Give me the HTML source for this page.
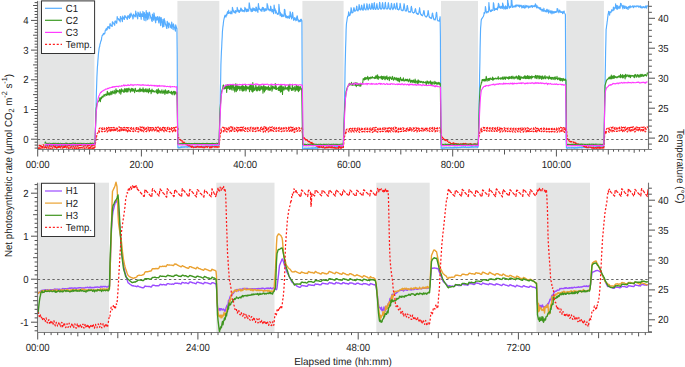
<!DOCTYPE html><html><head><meta charset="utf-8"><style>html,body{margin:0;padding:0;background:#fff;overflow:hidden;width:685px;height:367px;}svg{display:block;}text{font-family:"Liberation Sans", sans-serif;fill:#222;text-rendering:geometricPrecision;}</style></head><body>
<svg width="685" height="367" viewBox="0 0 685 367">
<rect x="0" y="0" width="685" height="367" fill="#fff"/>
<rect x="38.2" y="0.9" width="56.2" height="148.6" fill="#e4e5e5"/>
<rect x="177.4" y="0.9" width="41.9" height="148.6" fill="#e4e5e5"/>
<rect x="302.4" y="0.9" width="41.2" height="148.6" fill="#e4e5e5"/>
<rect x="441" y="0.9" width="37" height="148.6" fill="#e4e5e5"/>
<rect x="566.3" y="0.9" width="37.6" height="148.6" fill="#e4e5e5"/>
<rect x="38.2" y="182.7" width="70.8" height="149.8" fill="#e4e5e5"/>
<rect x="216.3" y="182.7" width="58.2" height="149.8" fill="#e4e5e5"/>
<rect x="376.3" y="182.7" width="53.4" height="149.8" fill="#e4e5e5"/>
<rect x="536.4" y="182.7" width="53.6" height="149.8" fill="#e4e5e5"/>
<line x1="38" y1="139.5" x2="648" y2="139.5" stroke="#666" stroke-width="1" stroke-dasharray="2.4 2.46" stroke-dashoffset="0.26"/>
<line x1="38" y1="279.5" x2="648" y2="279.5" stroke="#666" stroke-width="1" stroke-dasharray="2.4 2.46" stroke-dashoffset="0.26"/>
<g fill="none" stroke-linejoin="round" stroke-linecap="butt">
<path d="M44.9 145.6 L45.1 145.7 L45.4 145.5 L45.6 145.4 L45.9 145.5 L46.1 145.3 L46.4 145.6 L46.6 145.9 L46.9 145.4 L47.1 145.4 L47.4 145.7 L47.6 145.6 L47.9 145.6 L48.1 145.3 L48.4 145.5 L48.6 145.7 L48.9 145.2 L49.1 145.4 L49.4 145.1 L49.6 145.2 L49.9 145.1 L50.1 145.5 L50.4 145.2 L50.6 145.6 L50.9 145.5 L51.1 145.5 L51.4 144.9 L51.6 145.4 L51.9 145.5 L52.1 145.5 L52.4 145.1 L52.6 145.4 L52.9 145.2 L53.1 145.3 L53.4 145.7 L53.6 145.3 L53.9 145.4 L54.1 145.7 L54.4 145.3 L54.6 145.4 L54.9 145.5 L55.1 145.5 L55.4 145.1 L55.6 145.4 L55.9 145.8 L56.1 145 L56.4 145.6 L56.6 145.4 L56.9 145.2 L57.1 145.9 L57.4 145.6 L57.6 145.1 L57.9 145.4 L58.1 145.5 L58.4 145.3 L58.6 145.6 L58.9 145.4 L59.1 145.5 L59.4 145.7 L59.6 145.2 L59.9 145.4 L60.1 145.2 L60.4 145.4 L60.6 145.1 L60.9 145.2 L61.1 145.3 L61.4 145.6 L61.6 145.6 L61.9 145 L62.1 145.1 L62.4 145.5 L62.6 144.8 L62.9 145.2 L63.1 145.3 L63.4 145.6 L63.6 145.5 L63.9 145.2 L64.2 145.2 L64.4 145.2 L64.7 145.7 L64.9 145.2 L65.2 145.2 L65.4 145.4 L65.7 145.2 L65.9 145.2 L66.2 145 L66.4 145.3 L66.7 145.1 L66.9 145.5 L67.2 145.4 L67.4 145.2 L67.7 145.4 L67.9 145.1 L68.2 145.5 L68.4 145.2 L68.7 145.4 L68.9 144.9 L69.2 145.3 L69.4 144.8 L69.7 144.7 L69.9 145.1 L70.2 145 L70.4 145.2 L70.7 145.8 L70.9 145 L71.2 145 L71.4 145.2 L71.7 145.3 L71.9 145.1 L72.2 145.1 L72.4 145.3 L72.7 145.3 L72.9 144.9 L73.2 145.1 L73.4 145.2 L73.7 144.9 L73.9 145.2 L74.2 144.9 L74.4 145.4 L74.7 145.2 L74.9 145.1 L75.2 145 L75.4 145.1 L75.7 144.6 L75.9 144.8 L76.2 145.2 L76.4 144.6 L76.7 145.3 L76.9 144.7 L77.2 145.3 L77.4 144.9 L77.7 145.3 L77.9 145.1 L78.2 144.7 L78.4 145.4 L78.7 145.4 L78.9 145 L79.2 145 L79.4 145 L79.7 144.8 L79.9 145.3 L80.2 144.9 L80.4 145 L80.7 144.8 L80.9 144.9 L81.2 144.7 L81.4 145.3 L81.7 145 L81.9 145.3 L82.2 145 L82.4 144.8 L82.7 144.9 L82.9 144.9 L83.2 145 L83.4 144.9 L83.7 144.9 L83.9 144.6 L84.2 144.8 L84.4 145.4 L84.7 144.8 L84.9 144.7 L85.2 145 L85.4 145.3 L85.7 144.6 L85.9 144.9 L86.2 144.8 L86.4 144.5 L86.7 145.1 L86.9 144.9 L87.2 144.9 L87.4 144.7 L87.7 145 L87.9 144.8 L88.2 144.9 L88.4 144.6 L88.7 144.6 L88.9 145.2 L89.2 144.8 L89.4 145 L89.7 144.9 L89.9 144.8 L90.2 144.8 L90.4 145 L90.7 144.8 L90.9 144.8 L91.2 144.9 L91.4 145.2 L91.7 145 L91.9 144.9 L92.2 144.7 L92.4 144.5 L92.7 145.1 L92.9 145.1 L93.2 144.8 L93.4 145 L93.7 145 L93.9 145 L94.2 145 L94.4 144.7 L94.7 144.8 L94.9 144.8 L95.2 139.2 L95.4 129.9 L95.7 120.6 L95.9 111.2 L96.2 101.9 L96.4 92.5 L96.7 83.7 L96.9 77.5 L97.2 71.2 L97.4 67.3 L97.7 63.9 L97.9 60.5 L98.2 57 L98.4 54.3 L98.7 51.7 L98.9 50 L99.2 47.9 L99.4 47.1 L99.7 46.5 L99.9 44.5 L100.2 43.8 L100.4 43.1 L100.7 41.4 L100.9 41.3 L101.2 40 L101.4 40.3 L101.7 37.4 L101.9 36.7 L102.2 35.3 L102.4 35.4 L102.7 34.8 L102.9 34.5 L103.2 34.9 L103.4 33.3 L103.7 34.3 L103.9 33.6 L104.2 34.2 L104.4 33.5 L104.7 33 L104.9 33.3 L105.2 30.6 L105.4 30.1 L105.7 30.1 L105.9 29.5 L106.2 28.6 L106.4 30.1 L106.7 30 L106.9 29.7 L107.2 29.6 L107.4 27.3 L107.7 26.7 L107.9 26.7 L108.2 27 L108.4 27.8 L108.7 26.7 L108.9 28.1 L109.2 27.4 L109.4 27.3 L109.7 28.6 L109.9 24.1 L110.2 23.7 L110.4 24.4 L110.7 25.3 L110.9 25.6 L111.2 25.1 L111.4 25.7 L111.7 26.1 L111.9 25.7 L112.2 26.4 L112.4 21.9 L112.7 21.9 L112.9 22.3 L113.2 22.9 L113.4 23.2 L113.7 23.2 L113.9 23.6 L114.2 24.7 L114.4 24.6 L114.7 25.3 L114.9 21.2 L115.2 21.1 L115.4 22.2 L115.7 21 L115.9 22.1 L116.2 21.8 L116.4 23.1 L116.7 23.3 L116.9 21.8 L117.2 16.5 L117.4 17.8 L117.7 18.4 L117.9 18.8 L118.2 18.5 L118.4 19.2 L118.7 19.6 L118.9 19.6 L119.2 20.5 L119.4 19.2 L119.7 21 L119.9 20.6 L120.2 21.9 L120.4 16.5 L120.7 16.7 L120.9 17.9 L121.2 17.8 L121.4 18.4 L121.7 18.6 L121.9 19.9 L122.2 20.8 L122.4 21.6 L122.7 16.1 L122.9 17.2 L123.2 17.2 L123.4 17.6 L123.7 18.4 L123.9 19.1 L124.2 18.9 L124.4 19.5 L124.7 15.7 L124.9 16.1 L125.2 15.9 L125.4 17.2 L125.7 16.7 L125.9 17.4 L126.2 17 L126.4 17.9 L126.7 18.2 L126.9 18.1 L127.2 19.5 L127.4 19 L127.7 15.8 L127.9 15.9 L128.2 15.6 L128.4 16.3 L128.7 17.2 L128.9 17.5 L129.2 18 L129.4 18.4 L129.7 14.2 L129.9 15.5 L130.2 15.1 L130.4 17 L130.7 17.1 L130.9 13 L131.2 13.9 L131.4 14.7 L131.7 14.5 L131.9 14.9 L132.2 15.8 L132.4 16 L132.7 17.1 L132.9 19 L133.2 18.3 L133.4 14.9 L133.7 14.1 L133.9 15.2 L134.2 15.2 L134.4 15.5 L134.7 16.1 L134.9 16.9 L135.2 16.4 L135.4 16.6 L135.7 11.1 L135.9 12.7 L136.2 13.2 L136.4 14.6 L136.7 15 L136.9 16.8 L137.2 15.8 L137.4 17.5 L137.7 19 L137.9 12.2 L138.2 12.6 L138.4 13.4 L138.7 13.4 L138.9 14.7 L139.2 16.5 L139.4 16.4 L139.7 15.8 L139.9 16.5 L140.2 11.9 L140.4 14.3 L140.7 15.1 L140.9 16.8 L141.2 19.3 L141.4 13.8 L141.7 14 L141.9 14.5 L142.2 15.1 L142.4 16.4 L142.7 16.5 L142.9 11.4 L143.2 12.7 L143.4 15.3 L143.7 18 L143.9 19.6 L144.2 20.4 L144.4 12.5 L144.7 13.9 L144.9 14.3 L145.2 15.6 L145.4 17.3 L145.7 17.9 L145.9 20.8 L146.2 10.5 L146.4 12.7 L146.7 14.7 L146.9 16.3 L147.2 18 L147.4 19.6 L147.7 12.7 L147.9 14.6 L148.2 14.2 L148.4 16.5 L148.7 17.3 L148.9 19 L149.2 12.1 L149.4 12.3 L149.7 13.2 L149.9 14.6 L150.2 15.2 L150.4 15.5 L150.7 17.6 L150.9 18.5 L151.2 17.4 L151.4 19.1 L151.7 21 L151.9 20.9 L152.2 21.4 L152.4 14.1 L152.7 15.2 L152.9 16.6 L153.2 17.7 L153.4 19.5 L153.7 20.2 L153.9 12.9 L154.2 13.8 L154.4 15.8 L154.7 16.7 L154.9 18.3 L155.2 20.3 L155.4 21.4 L155.7 22.8 L155.9 17 L156.2 17.6 L156.4 18.2 L156.7 18.8 L156.9 20.1 L157.2 19.8 L157.4 16.6 L157.7 17.2 L157.9 18 L158.2 19.4 L158.4 20.5 L158.7 22.2 L158.9 23 L159.2 16.7 L159.4 17.2 L159.7 18 L159.9 20.2 L160.2 21.1 L160.4 23.6 L160.7 25.6 L160.9 17.3 L161.2 17.6 L161.4 19.2 L161.7 21.8 L161.9 22.3 L162.2 23.4 L162.4 25.3 L162.7 27.2 L162.9 19.3 L163.2 20.8 L163.4 22.9 L163.7 25.1 L163.9 26.5 L164.2 18.6 L164.4 20 L164.7 20.4 L164.9 21.8 L165.2 22.7 L165.4 24.7 L165.7 24 L165.9 25.2 L166.2 26.1 L166.4 27.2 L166.7 28.4 L166.9 28.5 L167.2 21.3 L167.4 21.9 L167.7 23.4 L167.9 25.2 L168.2 26 L168.4 26.6 L168.7 28 L168.9 22.8 L169.2 23.7 L169.4 23.7 L169.7 24.4 L169.9 24.2 L170.2 25.1 L170.4 27.1 L170.7 25.7 L170.9 27.2 L171.2 28 L171.4 28.3 L171.7 22.1 L171.9 23.8 L172.2 25 L172.4 26.2 L172.7 26.6 L172.9 28.7 L173.2 29.6 L173.4 23.8 L173.7 25 L173.9 26 L174.2 26.9 L174.4 27 L174.7 28.5 L174.9 29.4 L175.2 30.2 L175.4 31.1 L175.7 24.9 L175.9 25.8 L176.2 27.2 L176.4 27 L176.7 28.7 L176.9 28.4 L177.2 53.9 L177.4 96.5 L177.7 139.1 L177.9 147.6 L178.2 147.6 L178.4 147.9 L178.7 147.2 L178.9 147.7 L179.2 147.6 L179.4 147.7 L179.7 147.9 L179.9 147.8 L180.2 147.1 L180.4 147 L180.7 147.6 L180.9 147.1 L181.2 147.3 L181.4 147.5 L181.7 146.9 L181.9 146.7 L182.2 147.3 L182.4 147.2 L182.7 147.1 L182.9 147.2 L183.2 146.9 L183.4 146.8 L183.7 147.1 L183.9 146.8 L184.2 146.7 L184.4 147.2 L184.7 147 L184.9 147.1 L185.2 146.7 L185.4 146.8 L185.7 146.7 L185.9 146.7 L186.2 147 L186.4 146.8 L186.7 147 L186.9 147 L187.2 147.4 L187.4 146.6 L187.7 147.1 L187.9 146.9 L188.2 146.9 L188.4 146.5 L188.7 146.8 L188.9 147 L189.2 146.8 L189.4 146.9 L189.7 146.8 L189.9 147.1 L190.2 146.8 L190.4 146.3 L190.7 146.6 L190.9 146.3 L191.2 146 L191.4 146.6 L191.7 147.1 L191.9 146.8 L192.2 146.5 L192.4 146.5 L192.7 147 L192.9 146.8 L193.2 146.7 L193.4 146.7 L193.7 146.7 L193.9 146.9 L194.2 146.8 L194.4 146.7 L194.7 146.4 L194.9 146.8 L195.2 146.5 L195.4 146.9 L195.7 146.3 L195.9 146.6 L196.2 146.6 L196.4 146.3 L196.7 147 L196.9 146.9 L197.2 146.5 L197.4 146.8 L197.7 146.6 L197.9 145.9 L198.2 146.6 L198.4 146.5 L198.7 146.5 L198.9 146.2 L199.2 146.4 L199.4 146.4 L199.7 146.8 L199.9 146.6 L200.2 146.5 L200.4 146.8 L200.7 146.3 L200.9 146.3 L201.2 146 L201.4 146.8 L201.7 146.7 L201.9 146.6 L202.2 146.6 L202.4 146.4 L202.7 146.4 L202.9 146.3 L203.2 146.3 L203.4 146.4 L203.7 146.7 L203.9 146.5 L204.2 146.3 L204.4 146.2 L204.7 146.1 L204.9 146.7 L205.2 146.4 L205.4 146.3 L205.7 146.2 L205.9 146 L206.2 146.2 L206.4 146.5 L206.7 146.1 L206.9 146.2 L207.2 146.2 L207.4 146.2 L207.7 145.8 L207.9 146.1 L208.2 146 L208.4 146.4 L208.7 146 L208.9 146.3 L209.2 146.5 L209.4 146.1 L209.7 146 L209.9 146.2 L210.2 146.1 L210.4 145.9 L210.7 146.2 L210.9 146.6 L211.2 146 L211.4 146 L211.7 145.8 L211.9 146.1 L212.2 145.7 L212.4 145.8 L212.7 146.3 L212.9 145.8 L213.2 146.3 L213.4 146.4 L213.7 146.1 L213.9 146.1 L214.2 146.5 L214.4 145.9 L214.7 145.8 L214.9 145.6 L215.2 145.9 L215.4 146.3 L215.7 146.2 L215.9 145.7 L216.2 145.7 L216.4 145.8 L216.7 146 L216.9 145.8 L217.2 145.9 L217.4 145.9 L217.7 145.8 L217.9 145.8 L218.2 145.9 L218.4 145.8 L218.7 145.9 L218.9 145.8 L219.2 141 L219.4 132.9 L219.7 124.8 L219.9 115 L220.2 102.5 L220.4 90 L220.7 77.5 L220.9 65 L221.2 57 L221.4 52 L221.7 47 L221.9 42 L222.2 37 L222.4 32 L222.7 28.8 L222.9 26.8 L223.2 24.8 L223.4 22.8 L223.7 20.5 L223.9 19.6 L224.2 18 L224.4 17.8 L224.7 15.7 L224.9 15.6 L225.2 15.2 L225.4 16.1 L225.7 16.6 L225.9 17.1 L226.2 15.9 L226.4 15 L226.7 14.1 L226.9 15.2 L227.2 12.7 L227.4 13.6 L227.7 11.5 L227.9 11.9 L228.2 13.3 L228.4 13.5 L228.7 10.2 L228.9 12.9 L229.2 13 L229.4 12.5 L229.7 12.6 L229.9 12.9 L230.2 13.5 L230.4 13.7 L230.7 13.5 L230.9 11.1 L231.2 12.1 L231.4 11.9 L231.7 12.7 L231.9 13.9 L232.2 11.7 L232.4 7.3 L232.7 8.5 L232.9 10.4 L233.2 9.9 L233.4 10.6 L233.7 12.2 L233.9 11.7 L234.2 12 L234.4 12.7 L234.7 12.1 L234.9 12.6 L235.2 10.6 L235.4 11.9 L235.7 13.2 L235.9 10.9 L236.2 11.5 L236.4 11.3 L236.7 11.5 L236.9 11.7 L237.2 7.4 L237.4 8.7 L237.7 9.1 L237.9 9.7 L238.2 11.2 L238.4 11.9 L238.7 10.5 L238.9 11 L239.2 11.7 L239.4 12.5 L239.7 10.4 L239.9 10.7 L240.2 10.5 L240.4 11.2 L240.7 8.2 L240.9 9.5 L241.2 8.2 L241.4 9.5 L241.7 10.6 L241.9 10.8 L242.2 11.5 L242.4 9.8 L242.7 10.5 L242.9 11 L243.2 10.9 L243.4 10.6 L243.7 11.4 L243.9 10.6 L244.2 11.8 L244.4 11.2 L244.7 8.8 L244.9 7.4 L245.2 8.1 L245.4 8.3 L245.7 9.7 L245.9 10.7 L246.2 11.6 L246.4 9.1 L246.7 10 L246.9 11 L247.2 11.5 L247.4 9.2 L247.7 9.4 L247.9 10.8 L248.2 10.2 L248.4 11.1 L248.7 10.9 L248.9 9.1 L249.2 2.8 L249.4 3.7 L249.7 5.9 L249.9 7.3 L250.2 8.6 L250.4 8.6 L250.7 9.9 L250.9 10.6 L251.2 11.7 L251.4 9.1 L251.7 9.3 L251.9 9.8 L252.2 10.9 L252.4 11.4 L252.7 8.9 L252.9 7.9 L253.2 8.2 L253.4 8.9 L253.7 9.9 L253.9 10.7 L254.2 8.5 L254.4 9.1 L254.7 9.6 L254.9 10 L255.2 10.7 L255.4 10.7 L255.7 11.1 L255.9 7.2 L256.1 9.1 L256.4 7.2 L256.6 9.5 L256.9 10.9 L257.1 9.1 L257.4 9.5 L257.6 10.8 L257.9 12.5 L258.1 8.1 L258.4 3.5 L258.6 5.6 L258.9 7.2 L259.1 9.2 L259.4 8.2 L259.6 8.9 L259.9 9.6 L260.1 9.5 L260.4 9.9 L260.6 10.3 L260.9 10.8 L261.1 9.1 L261.4 9.8 L261.6 9.6 L261.9 11.4 L262.1 9.4 L262.4 7.3 L262.6 7.7 L262.9 8.6 L263.1 9.6 L263.4 7.6 L263.6 8.1 L263.9 9.9 L264.1 11.5 L264.4 10.7 L264.6 9.4 L264.9 10.2 L265.1 8.5 L265.4 9.7 L265.6 9.5 L265.9 10.8 L266.1 9.2 L266.4 9 L266.6 9.3 L266.9 9.9 L267.1 3.5 L267.4 5.9 L267.6 4.9 L267.9 7 L268.1 7.7 L268.4 9.9 L268.6 9.9 L268.9 9.2 L269.1 9.2 L269.4 9.2 L269.6 9.8 L269.9 10.9 L270.1 10.3 L270.4 10.7 L270.6 6.2 L270.9 7 L271.1 8.8 L271.4 9.6 L271.6 10.5 L271.9 12 L272.1 11.1 L272.4 11.8 L272.6 9.4 L272.9 10.3 L273.1 11.1 L273.4 11.8 L273.6 13.6 L273.9 10.3 L274.1 5.1 L274.4 7 L274.6 9.1 L274.9 10.7 L275.1 8.8 L275.4 11.1 L275.6 13.1 L275.9 10.5 L276.1 11.1 L276.4 12.3 L276.6 12.3 L276.9 13.1 L277.1 13.8 L277.4 14.1 L277.6 14.3 L277.9 13.7 L278.1 13.5 L278.4 13.5 L278.6 14.2 L278.9 4.4 L279.1 6.2 L279.4 8.9 L279.6 11.2 L279.9 12.9 L280.1 15.8 L280.4 12.6 L280.6 13.3 L280.9 13.7 L281.1 14.9 L281.4 15.8 L281.6 16.6 L281.9 14.1 L282.1 15.1 L282.4 14.9 L282.6 15.6 L282.9 16.6 L283.1 16.2 L283.4 15.2 L283.6 16.1 L283.9 15.9 L284.1 16.2 L284.4 9.4 L284.6 11.3 L284.9 9.9 L285.1 12.4 L285.4 14.4 L285.6 16.5 L285.9 17.6 L286.1 15.3 L286.4 16.3 L286.6 16.4 L286.9 17.3 L287.1 17.9 L287.4 18 L287.6 16.4 L287.9 17.4 L288.1 17.3 L288.4 17.3 L288.6 17.9 L288.9 15.9 L289.1 17.3 L289.4 18.4 L289.6 16.7 L289.9 17.3 L290.1 11.7 L290.4 12.8 L290.6 13.2 L290.9 14.8 L291.1 16.8 L291.4 17.2 L291.6 18.9 L291.9 16.7 L292.1 17.8 L292.4 14 L292.6 12.4 L292.9 14.7 L293.1 16.4 L293.4 19 L293.6 20.3 L293.9 18.5 L294.1 18.9 L294.4 19.8 L294.6 17.6 L294.9 18.5 L295.1 19 L295.4 19.4 L295.6 19.3 L295.9 20.8 L296.1 17.8 L296.4 18.9 L296.6 20.1 L296.9 16.6 L297.1 15.8 L297.4 16.5 L297.6 18 L297.9 19.8 L298.1 21 L298.4 19.8 L298.6 20.9 L298.9 21.9 L299.1 20.5 L299.4 21.2 L299.6 20.6 L299.9 21.6 L300.1 21.6 L300.4 19.7 L300.6 21 L300.9 21.1 L301.1 19.2 L301.4 19.6 L301.6 20.5 L301.9 20.5 L302.1 66.3 L302.4 112.1 L302.6 148.8 L302.9 148.8 L303.1 148.8 L303.4 149.2 L303.6 148.9 L303.9 148.7 L304.1 148.3 L304.4 148.8 L304.6 148.2 L304.9 148.3 L305.1 148.8 L305.4 148.8 L305.6 148.6 L305.9 148.1 L306.1 148.5 L306.4 148.4 L306.6 148.7 L306.9 149.1 L307.1 148.5 L307.4 148.3 L307.6 148.2 L307.9 148.4 L308.1 148.4 L308.4 148.1 L308.6 148.4 L308.9 148.1 L309.1 148.6 L309.4 148.6 L309.6 148.6 L309.9 148.2 L310.1 148.4 L310.4 148.2 L310.6 148.1 L310.9 148.1 L311.1 147.9 L311.4 147.8 L311.6 148.4 L311.9 148.1 L312.1 148.2 L312.4 148.4 L312.6 147.7 L312.9 147.9 L313.1 148.1 L313.4 148.2 L313.6 147.9 L313.9 148.3 L314.1 148.1 L314.4 147.7 L314.6 147.7 L314.9 148.2 L315.1 148.1 L315.4 147.4 L315.6 148.2 L315.9 148 L316.1 148.2 L316.4 147.8 L316.6 147.8 L316.9 147.5 L317.1 148.4 L317.4 147.7 L317.6 148.2 L317.9 147.6 L318.1 147.8 L318.4 147.3 L318.6 147.6 L318.9 147.9 L319.1 147.3 L319.4 147.9 L319.6 147.7 L319.9 147.3 L320.1 147.5 L320.4 147.5 L320.6 147.6 L320.9 147.4 L321.1 147.3 L321.4 147.5 L321.6 147.3 L321.9 147.2 L322.1 147.5 L322.4 147.7 L322.6 147.1 L322.9 147.5 L323.1 147.3 L323.4 147.2 L323.6 147.7 L323.9 147.3 L324.1 147.8 L324.4 147.2 L324.6 147.5 L324.9 147.3 L325.1 147.2 L325.4 147.5 L325.6 147.3 L325.9 147.5 L326.1 147.3 L326.4 147.1 L326.6 147.3 L326.9 147.3 L327.1 147.5 L327.4 147.1 L327.6 147.3 L327.9 146.8 L328.1 147.4 L328.4 147 L328.6 146.8 L328.9 147.2 L329.1 147.5 L329.4 146.8 L329.6 146.9 L329.9 147 L330.1 146.9 L330.4 147.2 L330.6 146.9 L330.9 147 L331.1 147.3 L331.4 146.9 L331.6 147.2 L331.9 146.8 L332.1 146.8 L332.4 146.6 L332.6 147.5 L332.9 147 L333.1 147.1 L333.4 147 L333.6 147.1 L333.9 147 L334.1 147.5 L334.4 146.7 L334.6 146.6 L334.9 146.7 L335.1 146.6 L335.4 147.1 L335.6 147.1 L335.9 146.7 L336.1 146.6 L336.4 146.8 L336.6 147.2 L336.9 146.2 L337.1 147 L337.4 146.6 L337.6 147.1 L337.9 146.6 L338.1 146.7 L338.4 146.4 L338.6 146.6 L338.9 147.1 L339.1 147 L339.4 146.7 L339.6 146.5 L339.9 146.3 L340.1 146.6 L340.4 146.7 L340.6 146.7 L340.9 146.7 L341.1 146.4 L341.4 146.7 L341.6 146.7 L341.9 147 L342.1 147.1 L342.4 146.6 L342.6 146.4 L342.9 146.6 L343.1 146.6 L343.4 143.6 L343.6 136.3 L343.9 128.9 L344.1 121.5 L344.4 109.1 L344.6 95.5 L344.9 81.8 L345.1 68.2 L345.4 56.5 L345.6 47.8 L345.9 39 L346.1 30.3 L346.4 24.3 L346.6 22.7 L346.9 21 L347.1 19.3 L347.4 17.7 L347.6 16.6 L347.9 15.9 L348.1 16.5 L348.4 14.5 L348.6 11.9 L348.9 12.6 L349.1 13.8 L349.4 15.7 L349.6 15.6 L349.9 15.3 L350.1 14.9 L350.4 13.7 L350.6 12.7 L350.9 10 L351.1 7.7 L351.4 8.9 L351.6 10.3 L351.9 13 L352.1 12.5 L352.4 12.4 L352.6 12.7 L352.9 12.7 L353.1 11.9 L353.4 10.2 L353.6 9 L353.9 7.6 L354.1 8.2 L354.4 9.5 L354.6 11.2 L354.9 11.1 L355.1 10.8 L355.4 11 L355.6 10.7 L355.9 10.7 L356.1 9.6 L356.4 8.1 L356.6 6.2 L356.9 6.5 L357.1 8.9 L357.4 10.5 L357.6 10.7 L357.9 11 L358.1 10.5 L358.4 10 L358.6 9.6 L358.9 7 L359.1 4.6 L359.4 6.1 L359.6 7.5 L359.9 9.6 L360.1 9.7 L360.4 9.9 L360.6 9.9 L360.9 9.7 L361.1 8.7 L361.4 6.1 L361.6 5.2 L361.9 5.9 L362.1 7.7 L362.4 9.7 L362.6 9.8 L362.9 9.5 L363.1 10.3 L363.4 9.1 L363.6 7.8 L363.9 5.7 L364.1 3.9 L364.4 5.3 L364.6 7.8 L364.9 8.9 L365.1 9.7 L365.4 9.3 L365.6 9.5 L365.9 10 L366.1 9.2 L366.4 8.1 L366.6 6.5 L366.9 3.7 L367.1 4 L367.4 6.7 L367.6 8.3 L367.9 9.6 L368.1 9.8 L368.4 9.2 L368.6 8.9 L368.9 8.1 L369.1 6.1 L369.4 4 L369.6 5 L369.9 6.1 L370.1 8.4 L370.4 9 L370.6 9.3 L370.9 9.4 L371.1 8.6 L371.4 8.1 L371.6 5.7 L371.9 3.3 L372.1 3.5 L372.4 5.7 L372.6 8.3 L372.9 8.8 L373.1 9.3 L373.4 9.4 L373.6 8.4 L373.9 6.1 L374.1 3.2 L374.4 2.7 L374.6 5.7 L374.9 7.8 L375.1 9.2 L375.4 9.1 L375.6 9.5 L375.9 9.2 L376.1 8.9 L376.4 7.3 L376.6 5.4 L376.9 3.5 L377.1 5 L377.4 7.1 L377.6 8.4 L377.9 9.3 L378.1 9 L378.4 9.4 L378.6 8.9 L378.9 8.5 L379.1 7.9 L379.4 4.9 L379.6 2.3 L379.9 3.1 L380.1 5.5 L380.4 8.6 L380.6 8.7 L380.9 9.2 L381.1 8.7 L381.4 9 L381.6 8.9 L381.9 8.4 L382.1 5.4 L382.4 3.5 L382.6 2.6 L382.9 4.5 L383.1 7.1 L383.4 8.5 L383.6 8.2 L383.9 9.2 L384.1 9.1 L384.4 8.6 L384.6 7.8 L384.9 6.3 L385.1 3.6 L385.4 2.3 L385.6 4.8 L385.9 6.5 L386.1 8.7 L386.4 8.7 L386.6 8.9 L386.9 9 L387.1 8.9 L387.4 9 L387.6 8.5 L387.9 6.5 L388.1 4.5 L388.4 2.7 L388.6 4.2 L388.9 6.4 L389.1 8.4 L389.4 8.5 L389.6 8.9 L389.9 8.8 L390.1 9.6 L390.4 9.2 L390.6 8.7 L390.9 7.3 L391.1 5.9 L391.4 3.3 L391.6 3.5 L391.9 5.7 L392.1 7.7 L392.4 9 L392.6 8.9 L392.9 9.6 L393.1 8.6 L393.4 8.8 L393.6 7.5 L393.9 6.6 L394.1 4.1 L394.4 3.7 L394.6 5.8 L394.9 7.7 L395.1 8.2 L395.4 8.8 L395.6 8.7 L395.9 9.1 L396.1 7.5 L396.4 5.4 L396.6 3.3 L396.9 3 L397.1 5 L397.4 7.5 L397.6 9.5 L397.9 8.8 L398.1 9.6 L398.4 9.6 L398.6 9.9 L398.9 9.4 L399.1 9.5 L399.4 9 L399.6 7.5 L399.9 5.4 L400.1 3.3 L400.4 4.6 L400.6 6.4 L400.9 8.1 L401.1 9.9 L401.4 10 L401.6 10.1 L401.9 10.6 L402.1 10.7 L402.4 10 L402.6 10.1 L402.9 10.7 L403.1 10.5 L403.4 9.3 L403.6 7.2 L403.9 5.5 L404.1 3.7 L404.4 5.1 L404.6 7.6 L404.9 9.1 L405.1 10.1 L405.4 11 L405.6 10.7 L405.9 11 L406.1 11.1 L406.4 10.9 L406.6 9.6 L406.9 7.9 L407.1 5.9 L407.4 5.5 L407.6 7.1 L407.9 8.4 L408.1 10.6 L408.4 11.4 L408.6 11.6 L408.9 12.2 L409.1 12.2 L409.4 11.7 L409.6 11.9 L409.9 11.5 L410.1 11.9 L410.4 11.7 L410.6 12.2 L410.9 9.8 L411.1 7.5 L411.4 6.3 L411.6 7.4 L411.9 8.7 L412.1 10.5 L412.4 11.9 L412.6 12.4 L412.9 12.5 L413.1 12.4 L413.4 13.1 L413.6 12.7 L413.9 12.7 L414.1 12.3 L414.4 12.4 L414.6 12.3 L414.9 10.4 L415.1 9.6 L415.4 8.6 L415.6 9.2 L415.9 10.8 L416.1 11.8 L416.4 13.5 L416.6 13.7 L416.9 13.6 L417.1 13.2 L417.4 13.6 L417.6 14.3 L417.9 14.5 L418.1 14 L418.4 14.2 L418.6 13.6 L418.9 12.7 L419.1 11.2 L419.4 9.7 L419.6 7.7 L419.9 10.2 L420.1 12 L420.4 13 L420.6 13.9 L420.9 14.7 L421.1 14.6 L421.4 14.3 L421.6 15.4 L421.9 15.2 L422.1 15.1 L422.4 15.8 L422.6 15.1 L422.9 14.8 L423.1 14.4 L423.4 12.7 L423.6 11.5 L423.9 10.5 L424.1 11.2 L424.4 12.8 L424.6 14.9 L424.9 15.8 L425.1 16 L425.4 16.2 L425.6 16.4 L425.9 16.8 L426.1 16.5 L426.4 17.1 L426.6 16.2 L426.9 16.4 L427.1 16 L427.4 15.6 L427.6 14.2 L427.9 12.8 L428.1 10.5 L428.4 11.6 L428.6 13.3 L428.9 15.1 L429.1 16.6 L429.4 17.3 L429.6 17 L429.9 17.7 L430.1 17.9 L430.4 17.8 L430.6 17.7 L430.9 17.6 L431.1 18.6 L431.4 17.5 L431.6 18.3 L431.9 16.6 L432.1 14.8 L432.4 13 L432.6 13 L432.9 14.9 L433.1 15.8 L433.4 17.7 L433.6 19 L433.9 19.1 L434.1 19.8 L434.4 19.2 L434.6 19.6 L434.9 19.1 L435.1 20 L435.4 19.1 L435.6 17.9 L435.9 16.4 L436.1 14.2 L436.4 12.6 L436.6 12.3 L436.9 14.7 L437.1 17.3 L437.4 20 L437.6 20.2 L437.9 20.8 L438.1 20.9 L438.4 20.8 L438.6 21 L438.9 20.9 L439.1 20.6 L439.4 21.1 L439.6 19.1 L439.9 18.3 L440.1 16.7 L440.4 36.6 L440.6 83.1 L440.9 129.6 L441.1 148.2 L441.4 148.2 L441.6 148 L441.9 148 L442.1 148.1 L442.4 147.9 L442.6 148.3 L442.9 148.1 L443.1 148.2 L443.4 148.1 L443.6 147.9 L443.9 147.8 L444.1 148 L444.4 147.9 L444.6 148.1 L444.9 148 L445.1 147.7 L445.4 148 L445.6 147.7 L445.9 147.8 L446.1 147.9 L446.4 147.5 L446.6 148 L446.9 148 L447.1 147.9 L447.4 147.8 L447.6 147.8 L447.9 147.7 L448.1 147.8 L448.4 147.8 L448.6 147.9 L448.9 147.6 L449.1 147.9 L449.4 147.9 L449.6 147.8 L449.9 147.7 L450.1 148 L450.4 147.4 L450.6 147.9 L450.9 147.8 L451.1 147.8 L451.4 147.9 L451.6 147.6 L451.9 147.7 L452.1 147.9 L452.4 147.8 L452.6 147.8 L452.9 147.3 L453.1 147.8 L453.4 148 L453.6 147.9 L453.9 147.7 L454.1 147.3 L454.4 147.9 L454.6 147.6 L454.9 147 L455.1 147.7 L455.4 147.2 L455.6 147.3 L455.9 147.4 L456.1 147.9 L456.4 147.5 L456.6 147.6 L456.9 148 L457.1 147.9 L457.4 147.5 L457.6 147.4 L457.9 147.2 L458.1 147.3 L458.4 147.6 L458.6 147.6 L458.9 147.5 L459.1 147.7 L459.4 147.2 L459.6 147.4 L459.9 147.6 L460.1 147.5 L460.4 147.7 L460.6 147.5 L460.9 147.3 L461.1 147.5 L461.4 147.1 L461.6 146.9 L461.9 147.5 L462.1 147.3 L462.4 147.4 L462.6 146.9 L462.9 147.2 L463.1 147.1 L463.4 147.1 L463.6 146.7 L463.9 147.2 L464.1 147.5 L464.4 147.4 L464.6 147.1 L464.9 147.2 L465.1 147.4 L465.4 146.5 L465.6 147.2 L465.9 147.3 L466.1 147.4 L466.4 147.6 L466.6 147.5 L466.9 147.3 L467.1 147.2 L467.4 147.4 L467.6 147 L467.9 147.1 L468.1 147.4 L468.4 147.6 L468.6 147.1 L468.9 147.1 L469.1 147.1 L469.4 147.4 L469.6 147.1 L469.9 147.4 L470.1 146.8 L470.4 147 L470.6 147 L470.9 147.2 L471.1 147.3 L471.4 146.6 L471.6 146.8 L471.9 147.1 L472.1 146.8 L472.4 146.6 L472.6 147.2 L472.9 147.1 L473.1 147.1 L473.4 146.8 L473.6 147.2 L473.9 146.9 L474.1 147.2 L474.4 146.7 L474.6 146.7 L474.9 147 L475.1 146.7 L475.4 147.1 L475.6 147 L475.9 146.6 L476.1 146.9 L476.4 146.8 L476.6 147.1 L476.9 146.7 L477.1 146.7 L477.4 147.1 L477.6 147.4 L477.9 147.3 L478.1 146.8 L478.4 141.6 L478.6 128.6 L478.9 115.6 L479.1 102.6 L479.4 89.2 L479.6 75.8 L479.9 62.3 L480.1 48.8 L480.4 35.4 L480.6 28.1 L480.9 24.8 L481.1 21.6 L481.4 19.4 L481.6 19.1 L481.9 18.7 L482.1 18.3 L482.4 17.9 L482.6 17.5 L482.9 17.1 L483.1 16.7 L483.4 16.3 L483.6 15.6 L483.9 14.8 L484.1 12.6 L484.4 12.9 L484.6 13.5 L484.9 12.5 L485.1 12.1 L485.4 6.5 L485.6 7.7 L485.9 9.3 L486.1 11.2 L486.4 11.8 L486.6 13 L486.9 12.9 L487.1 12 L487.4 11.6 L487.6 11.8 L487.9 12 L488.1 12.2 L488.4 11 L488.6 12 L488.9 2.5 L489.1 5.5 L489.4 7.6 L489.6 9.5 L489.9 10.1 L490.1 10.8 L490.4 10.7 L490.6 11.7 L490.9 10.4 L491.1 11.2 L491.4 11.3 L491.6 9.8 L491.9 10.1 L492.1 10.4 L492.4 10.2 L492.6 10.4 L492.9 10.6 L493.1 9.7 L493.4 2.7 L493.6 3 L493.9 4.8 L494.1 7.1 L494.4 8.6 L494.6 10.5 L494.9 8.6 L495.1 8.8 L495.4 9.4 L495.6 8.9 L495.9 9.3 L496.1 8.8 L496.4 9.5 L496.6 8.4 L496.9 8.4 L497.1 8.7 L497.4 9.9 L497.6 7 L497.9 7.5 L498.1 8.1 L498.4 3.3 L498.6 5.4 L498.9 4 L499.1 5.6 L499.4 7.6 L499.6 7 L499.9 6.6 L500.1 7.7 L500.4 8 L500.6 7.9 L500.9 8.5 L501.1 6.2 L501.4 7 L501.6 6.6 L501.9 8 L502.1 8 L502.4 8.4 L502.6 3 L502.9 4.1 L503.1 5 L503.4 5.9 L503.6 7.3 L503.9 9.1 L504.1 6.7 L504.4 6.8 L504.6 7.6 L504.9 7.5 L505.1 8.3 L505.4 8.9 L505.6 5.9 L505.9 7.2 L506.1 8.8 L506.4 6.8 L506.6 6.9 L506.9 7.7 L507.1 7.9 L507.4 8.7 L507.6 -0.3 L507.9 1.3 L508.1 3.1 L508.4 3.8 L508.6 5.5 L508.9 7.1 L509.1 7.8 L509.4 8.1 L509.6 7.4 L509.9 6.4 L510.1 7 L510.4 7.1 L510.6 7.4 L510.9 7.3 L511.1 5.9 L511.4 -2.9 L511.6 -0.8 L511.9 1.1 L512.1 4.2 L512.4 6.4 L512.6 7.5 L512.9 6.4 L513.1 6.1 L513.4 7 L513.6 6.8 L513.9 6.9 L514.1 6 L514.4 6.1 L514.6 6.7 L514.9 6.9 L515.1 5.6 L515.4 5.9 L515.6 5.2 L515.9 7 L516.1 5.2 L516.4 6.1 L516.6 5 L516.9 5.2 L517.1 5.5 L517.4 5 L517.6 5.6 L517.9 5.9 L518.1 6.2 L518.4 6.3 L518.6 5.1 L518.9 5.3 L519.1 6.2 L519.4 6.4 L519.6 7.2 L519.9 5.1 L520.1 5.6 L520.4 6.1 L520.6 6.2 L520.9 6.2 L521.1 5.2 L521.4 5.7 L521.6 6.9 L521.9 8 L522.1 5.8 L522.4 6.1 L522.6 6.3 L522.9 7.2 L523.1 7.6 L523.4 5.5 L523.6 5.8 L523.9 6.7 L524.1 7.8 L524.4 7.2 L524.6 7.8 L524.9 8.2 L525.1 5.2 L525.4 6.4 L525.6 6.3 L525.9 7.3 L526.1 7 L526.4 7.1 L526.6 5.5 L526.9 5.9 L527.1 5.9 L527.4 6.3 L527.6 6.1 L527.9 6.7 L528.1 7.3 L528.4 8 L528.6 7.8 L528.9 5.8 L529.1 6.4 L529.4 6.7 L529.6 7.2 L529.9 7.3 L530.1 7.2 L530.4 6.2 L530.6 6.5 L530.9 6.9 L531.1 5.6 L531.4 5.6 L531.6 5.6 L531.9 6.5 L532.1 6.4 L532.4 7.5 L532.6 5.9 L532.9 5.5 L533.1 6.4 L533.4 6.6 L533.6 6.5 L533.9 6 L534.1 6.6 L534.4 6 L534.6 5.3 L534.9 5.9 L535.1 6.8 L535.4 3.9 L535.6 4.1 L535.9 5 L536.1 5.7 L536.4 6.6 L536.6 7.7 L536.9 8 L537.1 5.7 L537.4 6.7 L537.6 7 L537.9 7.6 L538.1 7.2 L538.4 8 L538.6 7.4 L538.9 7.9 L539.1 8 L539.4 8.8 L539.6 7.7 L539.9 8.3 L540.1 8.9 L540.4 9.8 L540.6 7.7 L540.9 8.8 L541.1 9.1 L541.4 9.5 L541.6 9.9 L541.9 10.6 L542.1 11.2 L542.4 9.2 L542.6 9.5 L542.9 10.1 L543.1 10.3 L543.4 11.2 L543.6 11.2 L543.9 8.2 L544.1 10 L544.4 10.2 L544.6 10.4 L544.9 11.3 L545.1 11.6 L545.4 10.7 L545.6 10.7 L545.9 10.5 L546.1 11.8 L546.4 9.8 L546.6 11.8 L546.9 11.9 L547.1 9.2 L547.4 10.4 L547.6 10.7 L547.9 11.1 L548.1 10.9 L548.4 12.3 L548.6 13.1 L548.9 9.9 L549.1 11.7 L549.4 11.9 L549.6 11.4 L549.9 11.3 L550.1 11.6 L550.4 12.5 L550.6 12.9 L550.9 10.6 L551.1 11.7 L551.4 11.8 L551.6 12 L551.9 13.9 L552.1 11 L552.4 11.6 L552.6 12.6 L552.9 12.5 L553.1 13.2 L553.4 11.5 L553.6 11.8 L553.9 12.3 L554.1 13 L554.4 12.8 L554.6 11.6 L554.9 11.9 L555.1 11.7 L555.4 12.5 L555.6 12.4 L555.9 11.5 L556.1 11.6 L556.4 11.7 L556.6 11.5 L556.9 12.3 L557.1 8.6 L557.4 10 L557.6 8.7 L557.9 9.4 L558.1 10.9 L558.4 11.8 L558.6 11.9 L558.9 12.8 L559.1 10.8 L559.4 11.8 L559.6 10 L559.9 10.4 L560.1 11.3 L560.4 12.3 L560.6 11.7 L560.9 11.9 L561.1 11.6 L561.4 12.5 L561.6 12.1 L561.9 12.5 L562.1 11.9 L562.4 12.3 L562.6 13.6 L562.9 13.3 L563.1 11.7 L563.4 13 L563.6 12.7 L563.9 11.5 L564.1 11 L564.4 12.7 L564.6 13.1 L564.9 13.4 L565.1 13.9 L565.4 14.5 L565.6 55.2 L565.9 97.4 L566.1 139.6 L566.4 148 L566.6 148 L566.9 148 L567.1 148 L567.4 148.3 L567.6 147.9 L567.9 147.7 L568.1 148 L568.4 148 L568.6 147.7 L568.9 147.5 L569.1 147.5 L569.4 148.1 L569.6 147.7 L569.9 147.8 L570.1 147.9 L570.4 148 L570.6 147.8 L570.9 148 L571.1 147.6 L571.4 147.7 L571.6 147.6 L571.9 148.1 L572.1 147.8 L572.4 147.6 L572.6 147.7 L572.9 147.7 L573.1 148 L573.4 147.4 L573.6 147.5 L573.9 147.7 L574.1 148.4 L574.4 148 L574.6 147.7 L574.9 147.9 L575.1 148.2 L575.4 147.6 L575.6 147.6 L575.9 148 L576.1 147.8 L576.4 147.8 L576.6 147.5 L576.9 148.1 L577.1 148.1 L577.4 147.8 L577.6 147.8 L577.9 147.1 L578.1 147.8 L578.4 147.6 L578.6 147.7 L578.9 147.8 L579.1 147.5 L579.4 147.2 L579.6 147.7 L579.9 147.4 L580.1 147.5 L580.4 147.4 L580.6 147.5 L580.9 147 L581.1 147.8 L581.4 147.6 L581.6 147.8 L581.9 148 L582.1 147.5 L582.4 147 L582.6 147.3 L582.9 147.2 L583.1 147.3 L583.4 147.5 L583.6 146.9 L583.9 147.5 L584.1 147 L584.4 147.5 L584.6 147.4 L584.9 147.3 L585.1 147.4 L585.4 147.3 L585.6 147.2 L585.9 147 L586.1 147.4 L586.4 147.8 L586.6 147.8 L586.9 147.7 L587.1 147.5 L587.4 147.2 L587.6 147.7 L587.9 147.3 L588.1 147.3 L588.4 147.2 L588.6 147.3 L588.9 147.2 L589.1 147.2 L589.4 147 L589.6 147.2 L589.9 147.8 L590.1 147.2 L590.4 147.2 L590.6 147.4 L590.9 147.4 L591.1 146.9 L591.4 147.1 L591.6 147.4 L591.9 147.2 L592.1 147.2 L592.4 147.6 L592.6 147 L592.9 147.2 L593.1 147 L593.4 147.5 L593.6 146.6 L593.9 146.9 L594.1 147 L594.4 147.3 L594.6 147.2 L594.9 147.4 L595.1 146.7 L595.4 147.3 L595.6 147 L595.9 146.9 L596.1 147.2 L596.4 146.8 L596.6 146.5 L596.9 146.9 L597.1 146.6 L597.4 146.8 L597.6 147.1 L597.9 147.1 L598.1 147.4 L598.4 146.9 L598.6 146.6 L598.9 146.8 L599.1 146.7 L599.4 146.6 L599.6 147 L599.9 146.8 L600.1 146.4 L600.4 147.1 L600.6 146.9 L600.9 147 L601.1 146.9 L601.4 147 L601.6 146.9 L601.9 147.2 L602.1 147 L602.4 146.9 L602.6 146.9 L602.9 146.5 L603.1 146.8 L603.4 146.8 L603.6 146.8 L603.9 146.8 L604.1 133.8 L604.4 120.8 L604.6 107.8 L604.9 94.3 L605.1 80 L605.4 65.7 L605.6 52.5 L605.9 40 L606.1 29.6 L606.4 27.8 L606.6 25.9 L606.9 24.1 L607.1 22.2 L607.4 20.4 L607.6 18.2 L607.9 16.1 L608.1 13.9 L608.4 13.6 L608.6 11.3 L608.9 12.9 L609.1 13.7 L609.4 14.2 L609.6 15.2 L609.9 11.7 L610.1 12.2 L610.4 12.4 L610.6 12.3 L610.9 12.6 L611.1 11.6 L611.4 11.4 L611.6 9.8 L611.9 10 L612.1 10.8 L612.4 10.4 L612.6 10 L612.9 10.8 L613.1 10.4 L613.4 7.1 L613.6 9.4 L613.9 9.2 L614.1 10 L614.4 7.8 L614.6 8.3 L614.9 7.7 L615.1 8.1 L615.4 7.3 L615.6 3.9 L615.9 6.4 L616.1 7.9 L616.4 8.9 L616.6 5.5 L616.9 6.6 L617.1 7.3 L617.4 9.3 L617.6 5.7 L617.9 6.2 L618.1 6.8 L618.4 7.6 L618.6 7.9 L618.9 8.6 L619.1 8.4 L619.4 6.2 L619.6 7.6 L619.9 7.3 L620.1 8.1 L620.4 5.6 L620.6 3.3 L620.9 3.8 L621.1 3.6 L621.4 5.1 L621.6 5.1 L621.9 5.7 L622.1 6.6 L622.4 6.7 L622.6 7.5 L622.9 8.9 L623.1 5.4 L623.4 6 L623.6 6 L623.9 6.8 L624.1 7.2 L624.4 8.1 L624.6 8.5 L624.9 5.9 L625.1 6.4 L625.4 6.5 L625.6 6.8 L625.9 7.2 L626.1 8.4 L626.4 8.6 L626.6 6.7 L626.9 7.2 L627.1 7.2 L627.4 8 L627.6 7.6 L627.9 9.5 L628.1 9.5 L628.4 6.8 L628.6 6.6 L628.9 7.4 L629.1 6.6 L629.4 7.2 L629.6 8 L629.9 7.9 L630.1 5.7 L630.4 6.7 L630.6 6.3 L630.9 7.2 L631.1 7 L631.4 6.9 L631.6 6.9 L631.9 6.9 L632.1 7 L632.4 5.9 L632.6 6.6 L632.9 6.5 L633.1 6.4 L633.4 6.8 L633.6 7.6 L633.9 7.2 L634.1 5.7 L634.4 6.5 L634.6 6.3 L634.9 6.4 L635.1 6.3 L635.4 6.2 L635.6 6.4 L635.9 6.8 L636.1 7 L636.4 5.9 L636.6 6 L636.9 6.1 L637.1 6.2 L637.4 6 L637.6 5.8 L637.9 6.5 L638.1 6.5 L638.4 6.8 L638.6 7.1 L638.9 5.8 L639.1 6 L639.4 6.5 L639.6 6.8 L639.9 6.7 L640.1 7.3 L640.4 7.3 L640.6 5.8 L640.9 6.8 L641.1 8 L641.4 7.9 L641.6 6.9 L641.9 7.2 L642.1 7.4 L642.4 6.9 L642.6 7.9 L642.9 7.5 L643.1 7.5 L643.4 6.5 L643.6 6.9 L643.9 7 L644.1 7.1 L644.4 7.6 L644.6 7.1 L644.9 7.2 L645.1 7.8 L645.4 6 L645.6 6.5 L645.9 6.2 L646.1 7.2 L646.4 7.3 L646.6 8.1 L646.9 5.8 L647.1 6.3 L647.4 6.1 L647.6 5.8 L647.9 6.1" stroke="#56adff" stroke-width="1.15"/>
<path d="M38 148.5 L38.2 148.5 L38.4 148.5 L38.6 148.5 L38.8 148.5 L39 145.3 L39.2 145.3 L39.4 145.3 L39.6 145.3 L39.8 145.3 L40 148.7 L40.2 148.7 L40.4 148.7 L40.6 148.7 L40.8 148.7 L41 145.3 L41.2 145.3 L41.4 145.3 L41.6 145.3 L41.8 145.3 L42 148.6 L42.2 148.6 L42.4 148.6 L42.6 148.6 L42.8 148.6 L43 144.9 L43.2 144.9 L43.4 144.9 L43.6 144.9 L43.8 144.9 L44 147.8 L44.2 147.8 L44.4 147.8 L44.6 147.8 L44.8 147.8 L45 145.8 L45.2 145.9 L45.4 145.9 L45.6 145.9 L45.8 145.9 L46 148.8 L46.2 148.8 L46.4 148.8 L46.6 148.8 L46.8 148.8 L47 145.7 L47.2 145.7 L47.4 145.7 L47.6 145.7 L47.8 145.7 L48 148.2 L48.2 148.2 L48.4 148.2 L48.6 148.2 L48.8 148.2 L49 145.5 L49.2 145.5 L49.4 145.5 L49.6 145.5 L49.8 145.5 L50 148.7 L50.2 148.7 L50.4 148.7 L50.6 148.7 L50.8 148.7 L51 146 L51.2 146 L51.4 146 L51.6 146 L51.8 146 L52 148.2 L52.2 148.2 L52.4 148.2 L52.6 148.2 L52.8 148.2 L53 145.5 L53.2 145.5 L53.4 145.5 L53.6 145.5 L53.8 145.5 L54 147.8 L54.2 147.8 L54.4 147.8 L54.6 147.8 L54.8 147.8 L55 145.5 L55.2 145.5 L55.4 145.5 L55.6 145.5 L55.8 145.5 L56 148.7 L56.2 148.7 L56.4 148.7 L56.6 148.7 L56.8 148.7 L57 146 L57.2 146 L57.4 146 L57.6 146 L57.8 146 L58 148 L58.2 148 L58.4 148 L58.6 148 L58.8 148 L59 145.3 L59.2 145.3 L59.4 145.3 L59.6 145.3 L59.8 145.3 L60 148.3 L60.2 148.3 L60.4 148.3 L60.6 148.3 L60.8 148.3 L61 145.2 L61.2 145.2 L61.4 145.2 L61.6 145.2 L61.8 145.2 L62 148.1 L62.2 148.1 L62.4 148.1 L62.6 148.1 L62.8 148.1 L63 145.9 L63.2 145.9 L63.4 145.9 L63.6 145.9 L63.8 145.9 L64 148.1 L64.2 148.1 L64.4 148.1 L64.6 148.1 L64.8 148.1 L65 145.1 L65.2 145.1 L65.4 145.1 L65.6 145.1 L65.8 145.1 L66 148.2 L66.2 148.2 L66.4 148.2 L66.6 148.2 L66.8 148.2 L67 145.6 L67.2 145.6 L67.4 145.6 L67.6 145.6 L67.8 145.6 L68 148.6 L68.2 148.6 L68.4 148.6 L68.6 148.6 L68.8 148.6 L69 145.4 L69.2 145.4 L69.4 145.4 L69.6 145.4 L69.8 145.4 L70 147.9 L70.2 147.9 L70.4 147.9 L70.6 147.9 L70.8 147.9 L71 145.7 L71.2 145.7 L71.4 145.7 L71.6 145.7 L71.8 145.7 L72 148.8 L72.2 148.8 L72.4 148.8 L72.6 148.8 L72.8 148.8 L73 146.1 L73.2 146.1 L73.4 146.1 L73.6 146.1 L73.8 146.1 L74 148.6 L74.2 148.6 L74.4 148.6 L74.6 148.6 L74.8 148.6 L75 145.8 L75.2 145.8 L75.4 145.8 L75.6 145.8 L75.8 145.8 L76 148.6 L76.2 148.6 L76.4 148.6 L76.6 148.6 L76.8 148.6 L77 145.9 L77.2 145.9 L77.4 145.9 L77.6 145.9 L77.8 145.9 L78 148.5 L78.2 148.5 L78.4 148.5 L78.6 148.5 L78.8 148.5 L79 145.1 L79.2 145.1 L79.4 145.1 L79.6 145.1 L79.8 145.1 L80 147.8 L80.2 147.8 L80.4 147.8 L80.6 147.8 L80.8 147.8 L81 145 L81.2 145 L81.4 145 L81.6 145 L81.8 145 L82 147.9 L82.2 147.9 L82.4 147.9 L82.6 147.9 L82.8 147.9 L83 146.1 L83.2 146.1 L83.4 146.1 L83.6 146.1 L83.8 146.1 L84 148.7 L84.2 148.7 L84.4 148.8 L84.6 148.8 L84.8 148.8 L85 145.6 L85.2 145.6 L85.4 145.6 L85.6 145.6 L85.8 145.6 L86 147.8 L86.2 147.8 L86.4 147.8 L86.6 147.8 L86.8 147.8 L87 145.4 L87.2 145.4 L87.4 145.4 L87.6 145.4 L87.8 145.4 L88 148.4 L88.2 148.4 L88.4 148.4 L88.6 148.4 L88.8 148.4 L89 145 L89.2 145 L89.4 145 L89.6 145 L89.8 145 L90 149 L90.2 149 L90.4 149 L90.6 149 L90.8 149 L91 145.1 L91.2 145.1 L91.4 145.1 L91.6 145.1 L91.8 145.1 L92 148.4 L92.2 148.4 L92.4 148.4 L92.6 148.4 L92.8 148.4 L93 145.2 L93.2 145.2 L93.4 145.2 L93.6 145.2 L93.8 145.2 L94 148.7 L94.2 148.7 L94.4 148.7 L94.6 148.7 L94.8 148.7 L95 146.2 L95.2 145 L95.4 143.4 L95.6 142.1 L95.8 140.9 L96 139.7 L96.2 138 L96.4 137.7 L96.6 136.7 L96.8 135.2 L97 133.8 L97.2 133.6 L97.4 133.3 L97.6 132.9 L97.8 133.1 L98 131.7 L98.2 131.8 L98.4 131.5 L98.6 131 L98.8 130.7 L100.2 131.5 L99.9 132.1 L99.6 132.3 L99.1 132.1 L98.8 131.3 L98.7 130.4 L98.9 129.3 L99.4 128.5 L100.1 127.8 L101 127.9 L101.7 128.3 L102.4 129.1 L102.7 130 L102.8 130.9 L102.5 131.7 L102.2 131.7 L101.7 131.6 L101.4 131 L101.3 130 L101.5 128.9 L102 128 L102.7 127.5 L103.6 127.5 L104.3 128.1 L105 128.8 L105.3 129.9 L105.4 130.8 L105.1 131.4 L104.8 131.6 L104.3 131.5 L104 131 L103.9 130 L104.1 129.1 L104.6 128.3 L105.3 127.8 L106.2 127.6 L106.9 128 L107.6 128.7 L107.9 129.6 L108 130.5 L107.7 131.4 L107.4 131.8 L106.9 131.8 L106.6 131.1 L106.5 130.1 L106.7 129.1 L107.2 128.2 L107.9 127.6 L108.8 127.4 L109.5 127.9 L110.2 128.5 L110.5 129.3 L110.6 130.5 L110.3 131.4 L110 131.6 L109.5 131.6 L109.2 131 L109.1 129.9 L109.3 128.9 L109.8 128.1 L110.5 127.7 L111.4 127.6 L112.1 128 L112.8 128.8 L113.1 129.5 L113.2 130.4 L112.9 131.2 L112.6 131.5 L112.1 131.2 L111.8 130.9 L111.7 129.8 L111.9 128.7 L112.4 128.1 L113.1 127.7 L114 127.4 L114.7 128 L115.4 128.7 L115.7 129.6 L115.8 130.3 L115.5 131 L115.2 131.1 L114.7 131.2 L114.4 130.7 L114.3 130 L114.5 129.3 L115 128.6 L115.7 128.1 L116.6 128 L117.3 128.2 L118 128.8 L118.3 129.5 L118.4 130.3 L118.1 130.8 L117.8 131.3 L117.3 131.2 L117 131 L116.9 130.1 L117.1 129.3 L117.6 128.1 L118.3 127.2 L119.2 126.9 L119.9 127.4 L120.6 128.3 L120.9 129.2 L121 130.4 L120.7 131.4 L120.4 131.8 L119.9 131.5 L119.6 131.2 L119.5 130.1 L119.7 129 L120.2 128.5 L120.9 127.9 L121.8 127.7 L122.5 128.1 L123.2 128.7 L123.5 129.4 L123.6 130.4 L123.3 130.8 L123 131.1 L122.5 131.1 L122.2 130.6 L122.1 129.7 L122.3 129 L122.8 128.1 L123.5 127.5 L124.4 127.4 L125.1 127.9 L125.8 128.5 L126.1 129.1 L126.2 130.1 L125.9 131 L125.6 131.2 L125.1 131.1 L124.8 130.9 L124.7 130.1 L124.9 129 L125.4 128.2 L126.1 127.6 L127 127.5 L127.7 127.8 L128.4 128.6 L128.7 129.7 L128.8 130.9 L128.5 131.8 L128.2 132.1 L127.7 132.1 L127.4 131.2 L127.3 130.2 L127.5 128.7 L128 128.1 L128.7 127.6 L129.6 127.5 L130.3 127.8 L131 128.5 L131.3 129.6 L131.4 130.3 L131.1 131 L130.8 131.3 L130.3 131.4 L130 130.9 L129.9 130.2 L130.1 129.2 L130.6 128.1 L131.3 127.6 L132.2 127.3 L132.9 127.7 L133.6 128.7 L133.9 129.7 L134 130.7 L133.7 131.3 L133.4 131.6 L132.9 131.5 L132.6 130.8 L132.5 129.9 L132.7 129.2 L133.2 128.5 L133.9 128 L134.8 127.9 L135.5 128.1 L136.2 128.5 L136.5 129.3 L136.6 129.9 L136.3 130.7 L136 131.1 L135.5 131.1 L135.2 130.7 L135.1 130.2 L135.3 129.3 L135.8 128.3 L136.5 127.5 L137.4 127.5 L138.1 127.8 L138.8 128.5 L139.1 129.7 L139.2 130.8 L138.9 131.6 L138.6 132 L138.1 132 L137.8 131.1 L137.7 130.2 L137.9 129 L138.4 127.9 L139.1 127.2 L140 126.9 L140.7 127.2 L141.4 128.2 L141.7 129.3 L141.8 130.2 L141.5 131.1 L141.2 131.6 L140.7 131.4 L140.4 130.8 L140.3 129.9 L140.5 129.1 L141 128 L141.7 127.2 L142.6 127.1 L143.3 127.5 L144 128.2 L144.3 129.2 L144.4 130.5 L144.1 131.4 L143.8 131.8 L143.3 131.5 L143 131 L142.9 129.9 L143.1 128.9 L143.6 127.9 L144.3 127.3 L145.2 127.2 L145.9 127.5 L146.6 128.2 L146.9 129.2 L147 130.4 L146.7 131.2 L146.4 131.6 L145.9 131.4 L145.6 130.8 L145.5 129.9 L145.7 128.7 L146.2 127.9 L146.9 127.4 L147.8 127.1 L148.5 127.5 L149.2 128.4 L149.5 129.4 L149.6 130.4 L149.3 131.4 L149 131.7 L148.5 131.3 L148.2 130.8 L148.1 130 L148.3 129 L148.8 128.2 L149.5 127.8 L150.4 127.6 L151.1 127.9 L151.8 128.6 L152.1 129.5 L152.2 130.4 L151.9 131.1 L151.6 131.5 L151.1 131.3 L150.8 130.5 L150.7 129.7 L150.9 128.5 L151.4 128 L152.1 127.6 L153 127.8 L153.7 128 L154.4 128.8 L154.7 129.4 L154.8 130.1 L154.5 130.6 L154.2 131 L153.7 131.1 L153.4 130.7 L153.3 129.8 L153.5 128.9 L154 128.1 L154.7 127.5 L155.6 127.4 L156.3 128 L157 129 L157.3 129.8 L157.4 130.7 L157.1 131.5 L156.8 131.6 L156.3 131.4 L156 131 L155.9 130.1 L156.1 129.1 L156.6 127.9 L157.3 127.3 L158.2 127 L158.9 127.5 L159.6 128.3 L159.9 129.6 L160 130.8 L159.7 131.5 L159.4 131.9 L158.9 131.8 L158.6 131.2 L158.5 130.1 L158.7 129.2 L159.2 128.6 L159.9 128.1 L160.8 127.9 L161.5 128.2 L162.2 128.8 L162.5 129.5 L162.6 130.2 L162.3 130.8 L162 131 L161.5 130.9 L161.2 130.5 L161.1 130 L161.3 129.1 L161.8 128.3 L162.5 127.5 L163.4 127.3 L164.1 127.6 L164.8 128.7 L165.1 129.5 L165.2 130.7 L164.9 131.5 L164.6 132 L164.1 131.7 L163.8 131.2 L163.7 130 L163.9 128.9 L164.4 128.3 L165.1 127.7 L166 127.4 L166.7 127.8 L167.4 128.4 L167.7 129.2 L167.8 130.1 L167.5 130.8 L167.2 131 L166.7 131.2 L166.4 130.5 L166.3 129.8 L166.5 129.1 L167 128.1 L167.7 127.4 L168.6 127.3 L169.3 127.6 L170 128.3 L170.3 129.3 L170.4 130.4 L170.1 131.3 L169.8 131.9 L169.3 131.8 L169 131.1 L168.9 130.1 L169.1 129.2 L169.6 128 L170.3 127.5 L171.2 127.5 L171.9 127.9 L172.6 128.7 L172.9 129.9 L173 130.9 L172.7 131.5 L172.4 131.8 L171.9 131.5 L171.6 130.8 L171.5 129.9 L171.7 129 L172.2 128.1 L172.9 127.7 L173.8 127.6 L174.5 128 L175.2 128.6 L175.5 129.7 L175.6 130.6 L175.3 131.3 L175 131.6 L174.5 131.7 L174.2 130.9 L174.1 130 L174.3 128.9 L174.8 127.9 L175.5 127.2 L176.4 127 L177.1 127.3 L177.8 128.3 L178.1 129.3 L177 129 L177.2 129.7 L177.4 131.3 L177.6 133 L177.8 135.1 L178 137.4 L178.2 137.5 L178.4 137.9 L178.6 137.5 L178.8 137.9 L179 137.8 L179.2 138.3 L179.4 138.6 L179.6 138.8 L179.8 139.5 L180 139.7 L180.2 140 L180.4 139.9 L180.6 140.4 L180.8 140.2 L181 140.6 L181.2 140.6 L181.4 140.9 L181.6 140.7 L181.8 140.4 L182 140.4 L182.2 142 L182.4 141.5 L182.6 141.7 L182.8 141.6 L183 141.6 L183.2 143.1 L183.4 141.6 L183.6 142.2 L183.8 142.4 L184 142.1 L184.2 142.2 L184.4 142.5 L184.6 142.8 L184.8 142.9 L185 143.6 L185.2 142.9 L185.4 143.7 L185.6 144.2 L185.8 144.1 L186 143.5 L186.2 142.9 L186.4 144.5 L186.6 144.5 L186.8 144.2 L187 145.1 L187.2 144.6 L187.4 144.9 L187.6 144.6 L187.8 145.3 L188 145.1 L188.2 145.2 L188.4 145.9 L188.6 145.6 L188.8 144.9 L189 145.9 L189.2 146 L189.4 145.4 L189.6 145.6 L189.8 145.9 L190 145.8 L190.2 146 L190.4 146.3 L190.6 145.9 L190.8 147 L191 145.9 L191.2 146 L191.4 147.1 L191.6 147.3 L191.8 146.5 L192 146.4 L192.2 146.1 L192.4 147.1 L192.6 146.7 L192.8 146.4 L193 147 L193.2 147.4 L193.4 147.1 L193.6 147.7 L193.8 147.3 L194 147 L194.2 146.8 L194.4 147 L194.6 147.3 L194.8 147.2 L195 147.2 L195.2 146.9 L195.4 147.1 L195.6 147.3 L195.8 146.8 L196 146.3 L196.2 147.5 L196.4 147.1 L196.6 146.7 L196.8 146.9 L197 146.7 L197.2 146.2 L197.4 146.8 L197.6 146.3 L197.8 146.9 L198 146.8 L198.2 147.3 L198.4 146.8 L198.6 147 L198.8 146.7 L199 146.7 L199.2 146.3 L199.4 147.3 L199.6 146.9 L199.8 146.6 L200 147 L200.2 146.7 L200.4 146.6 L200.6 147 L200.8 147.4 L201 146.8 L201.2 146.3 L201.4 146.7 L201.6 147.6 L201.8 146.6 L202 147.4 L202.2 146.8 L202.4 147.2 L202.6 146.9 L202.8 146.3 L203 146.8 L203.2 147.8 L203.4 146.9 L203.6 147.1 L203.8 146.8 L204 146.9 L204.2 147.1 L204.4 147.1 L204.6 147.8 L204.8 146.9 L205 146.9 L205.2 146.7 L205.4 146.4 L205.6 146.3 L205.8 147.2 L206 146.2 L206.2 147.5 L206.4 147.3 L206.6 146.8 L206.8 146.5 L207 147 L207.2 147 L207.4 147.4 L207.6 146.7 L207.8 146.8 L208 147 L208.2 146.9 L208.4 146.7 L208.6 146.3 L208.8 146.3 L209 146.7 L209.2 146.9 L209.4 147.4 L209.6 147.9 L209.8 147.7 L210 147.2 L210.2 147.8 L210.4 147 L210.6 146.8 L210.8 147.9 L211 146.6 L211.2 146.8 L211.4 146.9 L211.6 147.6 L211.8 146.8 L212 147.3 L212.2 146.9 L212.4 146.5 L212.6 147.1 L212.8 147.1 L213 146.6 L213.2 146.7 L213.4 146.7 L213.6 147.4 L213.8 147.2 L214 147.1 L214.2 147.2 L214.4 146.9 L214.6 147.2 L214.8 146.8 L215 146.5 L215.2 146.8 L215.4 147.1 L215.6 147.1 L215.8 147.5 L216 146.4 L216.2 147 L216.4 147.2 L216.6 146.7 L216.8 147.2 L217 146.9 L217.2 146.6 L217.4 147.5 L217.6 146.5 L217.8 147.5 L218 146.9 L218.2 146.7 L218.4 146.7 L218.6 146.8 L218.8 146.8 L219 147.2 L219.2 144.3 L219.4 143.5 L219.6 141.4 L219.8 139.6 L220 137.1 L220.2 135.1 L220.4 134.3 L220.6 132.9 L220.8 132.8 L221 132.2 L221.2 132 L221.4 131.8 L221.6 130.8 L221.8 131.8 L221 132.1 L220.9 130.6 L221.1 129.1 L221.6 128.1 L222.3 127.4 L223.2 127.3 L223.9 127.9 L224.6 128.9 L224.9 129.8 L225 130.9 L224.7 131.9 L224.4 132.2 L223.9 131.9 L223.6 131.4 L223.5 130.4 L223.7 129.3 L224.2 128.3 L224.9 127.8 L225.8 127.7 L226.5 128 L227.2 128.7 L227.5 129.9 L227.6 130.7 L227.3 131.7 L227 132 L226.5 131.7 L226.2 130.9 L226.1 130.2 L226.3 129 L226.8 127.9 L227.5 127.5 L228.4 127.4 L229.1 127.8 L229.8 128.9 L230.1 130.1 L230.2 130.8 L229.9 131.6 L229.6 131.8 L229.1 131.4 L228.8 130.7 L228.7 129.7 L228.9 128.5 L229.4 127.7 L230.1 127.1 L231 126.7 L231.7 127.3 L232.4 128.2 L232.7 129.2 L232.8 130.3 L232.5 131.2 L232.2 131.5 L231.7 131.5 L231.4 131 L231.3 130.1 L231.5 129.1 L232 127.9 L232.7 127.2 L233.6 127 L234.3 127.4 L235 128.1 L235.3 129.2 L235.4 130.1 L235.1 131 L234.8 131.5 L234.3 131.5 L234 130.9 L233.9 130.3 L234.1 129.1 L234.6 128.1 L235.3 127.5 L236.2 127.3 L236.9 127.3 L237.6 127.9 L237.9 129.3 L238 130.5 L237.7 131.4 L237.4 131.9 L236.9 131.8 L236.6 131.1 L236.5 129.8 L236.7 128.6 L237.2 128.2 L237.9 127.7 L238.8 127.6 L239.5 128.1 L240.2 129.1 L240.5 129.7 L240.6 130.5 L240.3 131.2 L240 131.5 L239.5 131.2 L239.2 130.9 L239.1 130 L239.3 128.9 L239.8 127.8 L240.5 127.4 L241.4 127.3 L242.1 127.6 L242.8 128.6 L243.1 129.6 L243.2 130.4 L242.9 130.9 L242.6 131.5 L242.1 131.3 L241.8 130.7 L241.7 129.7 L241.9 128.8 L242.4 127.8 L243.1 127.1 L244 127 L244.7 127.5 L245.4 128.5 L245.7 129.4 L245.8 130.4 L245.5 131.1 L245.2 131.5 L244.7 131.3 L244.4 130.8 L244.3 130 L244.5 128.9 L245 128.3 L245.7 127.7 L246.6 127.5 L247.3 127.9 L248 128.8 L248.3 129.3 L248.4 130.4 L248.1 131.2 L247.8 131.6 L247.3 131.1 L247 130.7 L246.9 129.8 L247.1 128.7 L247.6 128 L248.3 127.6 L249.2 127.7 L249.9 128.1 L250.6 128.6 L250.9 129.2 L251 130 L250.7 130.5 L250.4 130.9 L249.9 130.9 L249.6 130.6 L249.5 129.8 L249.7 128.6 L250.2 127.6 L250.9 127.2 L251.8 126.9 L252.5 127.3 L253.2 128.4 L253.5 129.5 L253.6 130.3 L253.3 131 L253 131.3 L252.5 131.3 L252.2 130.6 L252.1 129.9 L252.3 129.2 L252.8 128.3 L253.5 127.4 L254.4 127.3 L255.1 127.7 L255.8 128.5 L256.1 129.6 L256.2 130.7 L255.9 131.4 L255.6 131.6 L255.1 131.5 L254.8 130.7 L254.7 129.9 L254.9 128.6 L255.4 128.1 L256.1 127.5 L257 127.4 L257.7 127.7 L258.4 128.4 L258.7 129.2 L258.8 129.9 L258.5 130.7 L258.2 130.9 L257.7 130.8 L257.4 130.2 L257.3 129.8 L257.5 128.7 L258 128.2 L258.7 127.9 L259.6 128 L260.3 128.3 L261 129.1 L261.3 129.6 L261.4 130.4 L261.1 130.9 L260.8 131.2 L260.3 131.1 L260 130.8 L259.9 129.9 L260.1 129.1 L260.6 128 L261.3 127.2 L262.2 127.1 L262.9 127.6 L263.6 128.4 L263.9 129.4 L264 130.8 L263.7 131.6 L263.4 132.1 L262.9 131.7 L262.6 131.1 L262.5 130 L262.7 128.7 L263.2 127.6 L263.9 126.9 L264.8 126.8 L265.5 127.4 L266.2 128.3 L266.5 129.5 L266.6 130.8 L266.3 131.7 L266 131.8 L265.5 131.8 L265.2 131 L265.1 130 L265.3 128.7 L265.8 128 L266.5 127.3 L267.4 127.2 L268.1 127.7 L268.8 128.6 L269.1 129.7 L269.2 130.8 L268.9 131.6 L268.6 131.8 L268.1 131.8 L267.8 131.1 L267.7 130.1 L267.9 129 L268.4 128.1 L269.1 127.3 L270 127.1 L270.7 127.6 L271.4 128.3 L271.7 129.2 L271.8 130.4 L271.5 131.1 L271.2 131.6 L270.7 131.5 L270.4 131 L270.3 130 L270.5 128.9 L271 127.8 L271.7 127.1 L272.6 126.9 L273.3 127.3 L274 128.2 L274.3 129.2 L274.4 130.3 L274.1 131.1 L273.8 131.4 L273.3 131.3 L273 130.6 L272.9 129.8 L273.1 128.6 L273.6 127.9 L274.3 127.4 L275.2 127.3 L275.9 127.4 L276.6 128.4 L276.9 129.4 L277 130.1 L276.7 131 L276.4 131.4 L275.9 131.2 L275.6 130.8 L275.5 129.9 L275.7 128.9 L276.2 128.2 L276.9 127.8 L277.8 127.4 L278.5 127.9 L279.2 128.6 L279.5 129.4 L279.6 130.2 L279.3 131 L279 131.1 L278.5 130.9 L278.2 130.3 L278.1 129.4 L278.3 128.5 L278.8 127.7 L279.5 127.2 L280.4 127.2 L281.1 127.7 L281.8 128.4 L282.1 129.5 L282.2 130.7 L281.9 131.4 L281.6 131.7 L281.1 131.4 L280.8 130.9 L280.7 129.7 L280.9 128.8 L281.4 128.1 L282.1 127.8 L283 127.8 L283.7 128.3 L284.4 128.7 L284.7 129.7 L284.8 130.5 L284.5 131.1 L284.2 131.2 L283.7 131.2 L283.4 130.5 L283.3 129.5 L283.5 128.6 L284 127.9 L284.7 127.4 L285.6 127.3 L286.3 128.1 L287 128.7 L287.3 129.5 L287.4 130.6 L287.1 131.2 L286.8 131.2 L286.3 131 L286 130.6 L285.9 129.7 L286.1 129 L286.6 127.9 L287.3 127.3 L288.2 127.2 L288.9 127.5 L289.6 128.2 L289.9 129.3 L290 130.2 L289.7 131 L289.4 131.4 L288.9 131.3 L288.6 130.7 L288.5 129.8 L288.7 128.6 L289.2 127.8 L289.9 127.2 L290.8 127.1 L291.5 127.5 L292.2 128.2 L292.5 129.4 L292.6 130.5 L292.3 131.3 L292 131.8 L291.5 131.8 L291.2 131 L291.1 130 L291.3 129.2 L291.8 128.1 L292.5 127.5 L293.4 127.3 L294.1 127.8 L294.8 128.7 L295.1 129.8 L295.2 130.9 L294.9 132 L294.6 132.4 L294.1 132.2 L293.8 131.5 L293.7 130.4 L293.9 129 L294.4 128.5 L295.1 127.8 L296 127.7 L296.7 128.1 L297.4 128.9 L297.7 129.5 L297.8 130.3 L297.5 131 L297.2 131.2 L296.7 131.2 L296.4 130.6 L296.3 129.8 L296.5 128.8 L297 128 L297.7 127.4 L298.6 127.4 L299.3 127.8 L300 128.6 L300.3 129.4 L300.4 130.4 L300.1 130.9 L299.8 131.2 L299.3 131.1 L299 130.6 L298.9 129.6 L299.1 128.8 L299.6 128.3 L300.3 127.8 L301.2 127.7 L301.9 128.2 L302.6 128.9 L302.9 129.6 L303 130.3 L302 128.8 L302.2 129.9 L302.4 133.1 L302.6 134.4 L302.8 136 L303 137.6 L303.2 137.2 L303.4 138.2 L303.6 137.5 L303.8 138.8 L304 138.3 L304.2 137.6 L304.4 138.9 L304.6 139.5 L304.8 138.7 L305 139.4 L305.2 139 L305.4 139 L305.6 138.4 L305.8 140.1 L306 139.6 L306.2 140 L306.4 139.6 L306.6 139.8 L306.8 140.8 L307 140.3 L307.2 140.4 L307.4 140.2 L307.6 140.9 L307.8 141.2 L308 140.9 L308.2 141.1 L308.4 140.8 L308.6 141.9 L308.8 141.2 L309 141.5 L309.2 142.4 L309.4 141.7 L309.6 141.3 L309.8 141.7 L310 142 L310.2 143 L310.4 142.5 L310.6 142.4 L310.8 142.9 L311 143.2 L311.2 142.5 L311.4 143.5 L311.6 143.4 L311.8 143.3 L312 142.3 L312.2 143.4 L312.4 144 L312.6 143.5 L312.8 144.6 L313 143.8 L313.2 143.5 L313.4 144.3 L313.6 144.2 L313.8 144.6 L314 144.3 L314.2 145 L314.4 144.3 L314.6 144.7 L314.8 144.3 L315 144.6 L315.2 145.1 L315.4 144.8 L315.6 145 L315.8 145.2 L316 145.5 L316.2 145.8 L316.4 145.9 L316.6 146.2 L316.8 145.9 L317 145.7 L317.2 145.4 L317.4 146 L317.6 146 L317.8 145.6 L318 147.2 L318.2 145.8 L318.4 146.7 L318.6 146.8 L318.8 146.5 L319 147.7 L319.2 146.7 L319.4 146.4 L319.6 147.4 L319.8 146.4 L320 146.2 L320.2 146.4 L320.4 146.6 L320.6 146.9 L320.8 147 L321 146.3 L321.2 147.1 L321.4 147.9 L321.6 146.7 L321.8 147 L322 147.3 L322.2 147.6 L322.4 146.8 L322.6 146.8 L322.8 146.8 L323 147.6 L323.2 147.6 L323.4 146.4 L323.6 146.4 L323.8 146.8 L324 146.7 L324.2 147.5 L324.4 147.5 L324.6 148.2 L324.8 147.8 L325 147.5 L325.2 148 L325.4 147.1 L325.6 146.9 L325.8 147.5 L326 147.9 L326.2 146.8 L326.4 147.9 L326.6 147.8 L326.8 147.3 L327 147.6 L327.2 147.4 L327.4 147.5 L327.6 147.8 L327.8 147.2 L328 147.9 L328.2 147.8 L328.4 147.9 L328.6 146.7 L328.8 146.7 L329 147.8 L329.2 147.3 L329.4 147.2 L329.6 147.2 L329.8 146.9 L330 147.4 L330.2 147.2 L330.4 147.2 L330.6 147.7 L330.8 147 L331 147.9 L331.2 146.6 L331.4 148.5 L331.6 146.9 L331.8 147.7 L332 147.9 L332.2 147.5 L332.4 147.8 L332.6 147.4 L332.8 146.8 L333 147.6 L333.2 148 L333.4 147.3 L333.6 146.8 L333.8 147.2 L334 147.6 L334.2 147.6 L334.4 147.9 L334.6 147.7 L334.8 147.7 L335 146.7 L335.2 148.4 L335.4 147.5 L335.6 147.8 L335.8 147.3 L336 147.4 L336.2 147.5 L336.4 148.1 L336.6 148.1 L336.8 147.7 L337 148.3 L337.2 147.3 L337.4 147.7 L337.6 147.3 L337.8 148 L338 147.5 L338.2 147.9 L338.4 148.2 L338.6 146.6 L338.8 148.4 L339 147.6 L339.2 147.4 L339.4 146.7 L339.6 147.4 L339.8 146.6 L340 147.5 L340.2 147.4 L340.4 148.2 L340.6 147.4 L340.8 147.9 L341 148 L341.2 148.3 L341.4 147.4 L341.6 147.8 L341.8 146.9 L342 147 L342.2 147.4 L342.4 147.5 L342.6 147 L342.8 147.3 L343 147.8 L343.2 147.3 L343.4 147.4 L343.6 144.8 L343.8 143.3 L344 141.1 L344.2 138.1 L344.4 137.1 L344.6 137 L344.8 135.7 L345 134.3 L345.2 133.2 L345.4 132.7 L345.6 133.3 L345.8 131.9 L346 133.1 L346.2 131.7 L346.4 131.4 L346.1 132.8 L345.8 132.3 L345.7 131.3 L345.9 130.3 L346.4 129.6 L347.1 129 L348 128.7 L348.7 129 L349.4 129.6 L349.7 130.1 L349.8 130.9 L349.5 131.6 L349.2 132 L348.7 131.7 L348.4 131.4 L348.3 130.8 L348.5 130.2 L349 129.2 L349.7 128.6 L350.6 128.4 L351.3 128.6 L352 129.2 L352.3 130 L352.4 131.2 L352.1 132 L351.8 132.3 L351.3 132.1 L351 131.6 L350.9 130.7 L351.1 129.7 L351.6 128.9 L352.3 128.4 L353.2 128.2 L353.9 128.2 L354.6 129.1 L354.9 130 L355 131 L354.7 131.5 L354.4 132 L353.9 132 L353.6 131.2 L353.5 130.5 L353.7 129.8 L354.2 129 L354.9 128.2 L355.8 128.4 L356.5 128.6 L357.2 129.3 L357.5 130.1 L357.6 131.1 L357.3 131.7 L357 131.9 L356.5 131.8 L356.2 131.2 L356.1 130.4 L356.3 129.3 L356.8 128.8 L357.5 128.1 L358.4 128 L359.1 128.5 L359.8 129.2 L360.1 130.1 L360.2 131.3 L359.9 132.1 L359.6 132.4 L359.1 132.1 L358.8 131.3 L358.7 130.4 L358.9 129.4 L359.4 128.4 L360.1 128 L361 127.8 L361.7 128.3 L362.4 129 L362.7 130 L362.8 131 L362.5 131.8 L362.2 131.9 L361.7 131.8 L361.4 131.1 L361.3 130.4 L361.5 129.5 L362 128.8 L362.7 128.4 L363.6 128.5 L364.3 128.9 L365 129.5 L365.3 130.2 L365.4 131 L365.1 131.7 L364.8 131.9 L364.3 131.8 L364 131.5 L363.9 130.9 L364.1 129.7 L364.6 128.8 L365.3 128 L366.2 127.8 L366.9 127.9 L367.6 128.8 L367.9 129.7 L368 130.6 L367.7 131.4 L367.4 131.9 L366.9 131.6 L366.6 131.2 L366.5 130.6 L366.7 129.6 L367.2 128.8 L367.9 128.4 L368.8 128.4 L369.5 128.7 L370.2 129.3 L370.5 130.2 L370.6 131.1 L370.3 131.8 L370 132 L369.5 131.8 L369.2 131.2 L369.1 130.3 L369.3 129.4 L369.8 128.4 L370.5 127.8 L371.4 127.7 L372.1 128.2 L372.8 129.1 L373.1 130.3 L373.2 131.3 L372.9 132.1 L372.6 132.5 L372.1 132.2 L371.8 131.4 L371.7 130.5 L371.9 129.2 L372.4 128.2 L373.1 127.7 L374 127.7 L374.7 128 L375.4 128.9 L375.7 130 L375.8 131 L375.5 131.5 L375.2 131.9 L374.7 131.7 L374.4 131 L374.3 130.1 L374.5 129.2 L375 127.9 L375.7 127.4 L376.6 127.5 L377.3 127.9 L378 128.7 L378.3 130 L378.4 131 L378.1 131.8 L377.8 132.1 L377.3 132.2 L377 131.7 L376.9 130.8 L377.1 129.7 L377.6 128.9 L378.3 128.2 L379.2 127.8 L379.9 128.1 L380.6 129.1 L380.9 130.1 L381 130.9 L380.7 131.5 L380.4 131.9 L379.9 131.6 L379.6 131 L379.5 130.2 L379.7 129.2 L380.2 128.6 L380.9 128.1 L381.8 128 L382.5 128.3 L383.2 129.1 L383.5 130 L383.6 130.7 L383.3 131.4 L383 131.6 L382.5 131.5 L382.2 131.1 L382.1 130.3 L382.3 129.4 L382.8 128.5 L383.5 127.5 L384.4 127.3 L385.1 128 L385.8 128.7 L386.1 129.7 L386.2 130.9 L385.9 131.7 L385.6 131.8 L385.1 131.6 L384.8 130.9 L384.7 130 L384.9 128.9 L385.4 128.3 L386.1 128 L387 128 L387.7 128.4 L388.4 129.1 L388.7 130 L388.8 131.2 L388.5 132.2 L388.2 132.5 L387.7 132.6 L387.4 132.1 L387.3 130.8 L387.5 129.7 L388 128.6 L388.7 127.9 L389.6 127.8 L390.3 128.1 L391 128.8 L391.3 129.7 L391.4 130.8 L391.1 131.4 L390.8 132 L390.3 131.8 L390 131.3 L389.9 130.3 L390.1 129.1 L390.6 128.4 L391.3 127.8 L392.2 127.8 L392.9 128 L393.6 128.8 L393.9 129.7 L394 130.6 L393.7 131.3 L393.4 131.8 L392.9 131.4 L392.6 131 L392.5 130 L392.7 129 L393.2 127.8 L393.9 127.1 L394.8 126.9 L395.5 127.6 L396.2 128.7 L396.5 129.8 L396.6 131.3 L396.3 132.3 L396 132.7 L395.5 132.3 L395.2 131.8 L395.1 130.5 L395.3 129.2 L395.8 128.4 L396.5 127.8 L397.4 127.5 L398.1 127.8 L398.8 128.4 L399.1 129.4 L399.2 130.7 L398.9 131.6 L398.6 132.1 L398.1 132.1 L397.8 131.6 L397.7 130.7 L397.9 129.5 L398.4 128.7 L399.1 128.1 L400 128.1 L400.7 128.5 L401.4 129.1 L401.7 129.8 L401.8 130.9 L401.5 131.4 L401.2 131.5 L400.7 131.6 L400.4 131.3 L400.3 130.2 L400.5 129.1 L401 128.4 L401.7 127.6 L402.6 127.5 L403.3 127.9 L404 128.7 L404.3 129.4 L404.4 130.3 L404.1 130.9 L403.8 131.4 L403.3 131.4 L403 131.1 L402.9 130.2 L403.1 129.6 L403.6 128.9 L404.3 128.4 L405.2 128.4 L405.9 128.9 L406.6 129.4 L406.9 130.2 L407 131 L406.7 131.5 L406.4 131.5 L405.9 131.3 L405.6 130.8 L405.5 130 L405.7 129.3 L406.2 128.7 L406.9 128.2 L407.8 128 L408.5 128.3 L409.2 128.9 L409.5 129.6 L409.6 130.4 L409.3 131.2 L409 131.4 L408.5 131.1 L408.2 130.6 L408.1 129.8 L408.3 129.2 L408.8 128.3 L409.5 127.9 L410.4 127.8 L411.1 128.2 L411.8 128.7 L412.1 129.4 L412.2 129.9 L411.9 130.8 L411.6 131.1 L411.1 130.9 L410.8 130.7 L410.7 130.4 L410.9 129.2 L411.4 128.4 L412.1 128 L413 127.8 L413.7 128 L414.4 128.9 L414.7 129.8 L414.8 130.4 L414.5 131.1 L414.2 131.3 L413.7 131.2 L413.4 130.5 L413.3 129.9 L413.5 129 L414 128.2 L414.7 127.4 L415.6 127.4 L416.3 127.8 L417 128.8 L417.3 129.9 L417.4 131 L417.1 131.8 L416.8 132 L416.3 131.9 L416 131.1 L415.9 130.4 L416.1 129.4 L416.6 128.7 L417.3 128.1 L418.2 128.1 L418.9 128.3 L419.6 128.9 L419.9 129.6 L420 130.4 L419.7 131 L419.4 131.5 L418.9 131.3 L418.6 131.2 L418.5 130.4 L418.7 129.6 L419.2 129 L419.9 128.4 L420.8 128 L421.5 128.4 L422.2 128.7 L422.5 129.4 L422.6 130.3 L422.3 130.9 L422 131 L421.5 131 L421.2 130.5 L421.1 129.8 L421.3 129 L421.8 128.3 L422.5 128.4 L423.4 128.3 L424.1 128.7 L424.8 129.4 L425.1 130 L425.2 130.5 L424.9 131.2 L424.6 131.5 L424.1 131.5 L423.8 131.1 L423.7 130.6 L423.9 129.4 L424.4 128.8 L425.1 128.3 L426 128.3 L426.7 128.2 L427.4 128.8 L427.7 129.5 L427.8 130.2 L427.5 130.6 L427.2 130.9 L426.7 131 L426.4 130.7 L426.3 129.9 L426.5 129.2 L427 128.5 L427.7 128.3 L428.6 128.1 L429.3 128.4 L430 129.2 L430.3 130.3 L430.4 130.9 L430.1 131.3 L429.8 131.6 L429.3 131.3 L429 130.6 L428.9 129.7 L429.1 129 L429.6 128 L430.3 127.6 L431.2 127.5 L431.9 127.8 L432.6 128.4 L432.9 129.3 L433 130.2 L432.7 130.9 L432.4 131.4 L431.9 131.1 L431.6 130.6 L431.5 129.7 L431.7 128.7 L432.2 127.6 L432.9 127.3 L433.8 127.1 L434.5 127.8 L435.2 128.7 L435.5 129.8 L435.6 130.9 L435.3 131.7 L435 131.8 L434.5 131.6 L434.2 131 L434.1 130.2 L434.3 129.2 L434.8 128.6 L435.5 128.3 L436.4 128.3 L437.1 128.3 L437.8 128.7 L438.1 129.4 L438.2 130.1 L437.9 130.7 L437.6 131.2 L437.1 131.2 L436.8 130.8 L436.7 130.1 L436.9 129.3 L437.4 128 L438.1 127.5 L439 127.5 L439.7 127.9 L440.4 128.6 L440.7 129.6 L440.8 130.8 L440.5 131.6 L440.2 132 L439.7 131.8 L439.4 131.2 L440.6 129.9 L440.8 129.6 L441 131.7 L441.2 133.2 L441.4 134.6 L441.6 137.1 L441.8 136.5 L442 137.2 L442.2 137 L442.4 137.4 L442.6 137.6 L442.8 137.7 L443 138.3 L443.2 138.9 L443.4 139.3 L443.6 139.2 L443.8 138.7 L444 139.6 L444.2 139.3 L444.4 140 L444.6 138.9 L444.8 140.2 L445 139.5 L445.2 140.4 L445.4 139.9 L445.6 140.6 L445.8 140.2 L446 139.7 L446.2 140.2 L446.4 140.6 L446.6 140.9 L446.8 140.1 L447 140.6 L447.2 140.9 L447.4 141.3 L447.6 141.5 L447.8 141.2 L448 141.1 L448.2 141.9 L448.4 141.8 L448.6 142.4 L448.8 142 L449 142.6 L449.2 142.1 L449.4 142.6 L449.6 142.7 L449.8 143 L450 142.5 L450.2 143 L450.4 142.8 L450.6 143.2 L450.8 143.6 L451 144.7 L451.2 143.5 L451.4 143.8 L451.6 143.6 L451.8 144 L452 143.7 L452.2 144 L452.4 143.7 L452.6 144.6 L452.8 144.2 L453 142.9 L453.2 143.7 L453.4 143.7 L453.6 142.8 L453.8 143.3 L454 143.5 L454.2 143.4 L454.4 143.7 L454.6 143 L454.8 144 L455 144 L455.2 143.9 L455.4 143.6 L455.6 143.8 L455.8 143.6 L456 144.2 L456.2 144 L456.4 144.6 L456.6 143.7 L456.8 144.4 L457 143.6 L457.2 143.8 L457.4 143.4 L457.6 144.1 L457.8 143.9 L458 144.1 L458.2 144.5 L458.4 143.9 L458.6 144.1 L458.8 144.3 L459 143.9 L459.2 143.7 L459.4 144.1 L459.6 144.2 L459.8 144.3 L460 144.3 L460.2 143.7 L460.4 144.2 L460.6 144.5 L460.8 143.8 L461 144.2 L461.2 143.8 L461.4 144.1 L461.6 144.7 L461.8 144.1 L462 143.7 L462.2 144.2 L462.4 144.1 L462.6 144.5 L462.8 143.5 L463 143.7 L463.2 144 L463.4 143.4 L463.6 144.5 L463.8 143.3 L464 143.7 L464.2 143.5 L464.4 143.8 L464.6 144.4 L464.8 144.3 L465 144.5 L465.2 144.3 L465.4 143.3 L465.6 144.2 L465.8 143.4 L466 143.9 L466.2 144 L466.4 143.9 L466.6 144.3 L466.8 143.8 L467 144.8 L467.2 144.4 L467.4 144.6 L467.6 144.5 L467.8 144.5 L468 144.1 L468.2 145 L468.4 143.7 L468.6 144.4 L468.8 144.2 L469 144.1 L469.2 144.3 L469.4 143.9 L469.6 144.5 L469.8 144.5 L470 144.2 L470.2 144.5 L470.4 143.8 L470.6 143.5 L470.8 144 L471 144.1 L471.2 145.2 L471.4 144.1 L471.6 144.6 L471.8 144.6 L472 145.1 L472.2 144.3 L472.4 144.5 L472.6 144.2 L472.8 143.9 L473 143.8 L473.2 143.9 L473.4 144.8 L473.6 144.4 L473.8 144.2 L474 144.3 L474.2 144 L474.4 144.2 L474.6 144.2 L474.8 144.5 L475 144.6 L475.2 143.6 L475.4 144.4 L475.6 144.8 L475.8 143.9 L476 144.2 L476.2 144.3 L476.4 144.7 L476.6 144.5 L476.8 144.2 L477 144.5 L477.2 144.7 L477.4 144.5 L477.6 145 L477.8 144.5 L478 143.9 L478.2 142.2 L478.4 140.6 L478.6 138.7 L478.8 137.3 L479 136.2 L479.2 135.8 L479.4 134.5 L479.6 133.9 L479.8 132.1 L480 131.3 L480.2 130.8 L480.4 130.4 L480.6 130.4 L480.8 130.1 L482.3 129.6 L482.4 130.6 L482.1 131.5 L481.8 131.9 L481.3 131.6 L481 130.9 L480.9 129.8 L481.1 128.5 L481.6 128 L482.3 127.6 L483.2 127.4 L483.9 127.7 L484.6 128.4 L484.9 129.1 L485 129.8 L484.7 130.2 L484.4 130.6 L483.9 130.5 L483.6 130.1 L483.5 129.3 L483.7 128.7 L484.2 127.6 L484.9 127.5 L485.8 127.3 L486.5 127.7 L487.2 128.4 L487.5 129.5 L487.6 129.9 L487.3 130.7 L487 131.2 L486.5 130.9 L486.2 130.3 L486.1 129.7 L486.3 128.7 L486.8 127.9 L487.5 127.5 L488.4 127.2 L489.1 127.8 L489.8 128.5 L490.1 129.2 L490.2 130.2 L489.9 131 L489.6 131.2 L489.1 131.1 L488.8 130.8 L488.7 129.9 L488.9 129.1 L489.4 128.2 L490.1 127.8 L491 127.8 L491.7 128 L492.4 128.6 L492.7 129.5 L492.8 130.4 L492.5 130.9 L492.2 131.4 L491.7 131.2 L491.4 130.8 L491.3 130 L491.5 129 L492 128.1 L492.7 127.6 L493.6 127.5 L494.3 127.8 L495 128.4 L495.3 129.3 L495.4 130.5 L495.1 131.1 L494.8 131.5 L494.3 131.5 L494 131 L493.9 129.9 L494.1 129 L494.6 128.3 L495.3 127.9 L496.2 127.8 L496.9 128.3 L497.6 129 L497.9 129.7 L498 130.6 L497.7 131.3 L497.4 131.4 L496.9 131.4 L496.6 130.8 L496.5 130 L496.7 129 L497.2 128 L497.9 127.2 L498.8 127.2 L499.5 127.4 L500.2 128.4 L500.5 129.6 L500.6 130.6 L500.3 131.6 L500 132.3 L499.5 132.1 L499.2 131.5 L499.1 130.4 L499.3 129.3 L499.8 128.6 L500.5 128.4 L501.4 128.3 L502.1 128.8 L502.8 129.6 L503.1 130.3 L503.2 131 L502.9 131.6 L502.6 131.8 L502.1 131.7 L501.8 131.3 L501.7 130.5 L501.9 129.5 L502.4 128.7 L503.1 128 L504 127.8 L504.7 127.8 L505.4 128.8 L505.7 129.7 L505.8 130.6 L505.5 131.3 L505.2 131.7 L504.7 131.6 L504.4 131.1 L504.3 130.3 L504.5 129.5 L505 128.9 L505.7 128.3 L506.6 128.3 L507.3 128.6 L508 129.3 L508.3 130 L508.4 130.8 L508.1 131.3 L507.8 131.6 L507.3 131.4 L507 131 L506.9 130.2 L507.1 129.5 L507.6 128.7 L508.3 128 L509.2 128.1 L509.9 128.5 L510.6 129 L510.9 129.9 L511 130.8 L510.7 131.4 L510.4 131.7 L509.9 131.7 L509.6 131.2 L509.5 130.5 L509.7 129.5 L510.2 128.7 L510.9 128.1 L511.8 128.1 L512.5 128.7 L513.2 129.5 L513.5 130.4 L513.6 131.1 L513.3 131.7 L513 131.9 L512.5 131.9 L512.2 131.4 L512.1 130.8 L512.3 130 L512.8 128.8 L513.5 128.2 L514.4 128.1 L515.1 128.4 L515.8 128.9 L516.1 129.9 L516.2 130.9 L515.9 131.6 L515.6 132.1 L515.1 132 L514.8 131.4 L514.7 130.6 L514.9 129.5 L515.4 128.7 L516.1 128.2 L517 128.1 L517.7 128.5 L518.4 129.1 L518.7 130 L518.8 131.1 L518.5 131.6 L518.2 131.7 L517.7 131.7 L517.4 131 L517.3 130.1 L517.5 129.4 L518 128.6 L518.7 128.3 L519.6 128.3 L520.3 128.5 L521 129.2 L521.3 130.2 L521.4 130.9 L521.1 131.7 L520.8 132.2 L520.3 131.9 L520 131.5 L519.9 130.6 L520.1 129.3 L520.6 128.4 L521.3 127.8 L522.2 127.4 L522.9 128.2 L523.6 129.1 L523.9 129.9 L524 130.8 L523.7 131.7 L523.4 132.1 L522.9 131.8 L522.6 131.3 L522.5 130.5 L522.7 129.2 L523.2 128.5 L523.9 128.1 L524.8 127.9 L525.5 128.4 L526.2 129.2 L526.5 130 L526.6 131 L526.3 131.7 L526 131.9 L525.5 131.6 L525.2 131.1 L525.1 130.4 L525.3 129.5 L525.8 128.2 L526.5 127.8 L527.4 127.8 L528.1 128.1 L528.8 128.9 L529.1 130.1 L529.2 131.2 L528.9 131.8 L528.6 132.3 L528.1 132.3 L527.8 131.6 L527.7 130.9 L527.9 129.9 L528.4 129.4 L529.1 129 L530 129.2 L530.7 129.3 L531.4 129.7 L531.7 130.4 L531.8 131.1 L531.5 131.3 L531.2 131.5 L530.7 131.5 L530.4 131.1 L530.3 130.3 L530.5 129.7 L531 128.6 L531.7 128.1 L532.6 128 L533.3 128.4 L534 128.8 L534.3 130 L534.4 130.7 L534.1 131.3 L533.8 131.7 L533.3 131.7 L533 131 L532.9 130.1 L533.1 129.2 L533.6 128 L534.3 127.4 L535.2 127.3 L535.9 128 L536.6 128.9 L536.9 130 L537 131 L536.7 132.1 L536.4 132.5 L535.9 132.4 L535.6 131.8 L535.5 131 L535.7 129.5 L536.2 129.1 L536.9 128.5 L537.8 128.4 L538.5 128.6 L539.2 129.2 L539.5 129.9 L539.6 130.7 L539.3 131.4 L539 131.7 L538.5 131.5 L538.2 131 L538.1 130.3 L538.3 129.3 L538.8 128.8 L539.5 128.5 L540.4 128.5 L541.1 128.7 L541.8 129.4 L542.1 130.1 L542.2 130.7 L541.9 131.2 L541.6 131.6 L541.1 131.5 L540.8 130.9 L540.7 130.3 L540.9 129.5 L541.4 128.4 L542.1 127.8 L543 127.8 L543.7 128.2 L544.4 128.7 L544.7 129.8 L544.8 130.8 L544.5 131.1 L544.2 131.5 L543.7 131.7 L543.4 131 L543.3 130.4 L543.5 129.8 L544 128.9 L544.7 128.1 L545.6 128 L546.3 128.3 L547 129.2 L547.3 130.1 L547.4 131 L547.1 131.8 L546.8 131.9 L546.3 131.8 L546 131.1 L545.9 130.4 L546.1 129.3 L546.6 128.8 L547.3 128.1 L548.2 128.1 L548.9 128.6 L549.6 129.5 L549.9 130.1 L550 131.2 L549.7 131.9 L549.4 132.1 L548.9 131.8 L548.6 131.4 L548.5 130.3 L548.7 129.4 L549.2 128.6 L549.9 128.3 L550.8 128.2 L551.5 128.8 L552.2 129.1 L552.5 130.1 L552.6 131 L552.3 131.4 L552 131.8 L551.5 131.9 L551.2 131.4 L551.1 130.7 L551.3 130 L551.8 128.9 L552.5 128.3 L553.4 128.1 L554.1 128.6 L554.8 129.4 L555.1 130.5 L555.2 131.4 L554.9 132 L554.6 132 L554.1 131.9 L553.8 131.2 L553.7 130.2 L553.9 129.3 L554.4 128.5 L555.1 128 L556 127.9 L556.7 128.3 L557.4 129.1 L557.7 130.1 L557.8 131.1 L557.5 131.8 L557.2 132.2 L556.7 132 L556.4 131.6 L556.3 130.7 L556.5 129.7 L557 128.8 L557.7 128.3 L558.6 128 L559.3 128.4 L560 129 L560.3 129.8 L560.4 130.7 L560.1 131.4 L559.8 131.8 L559.3 131.9 L559 131.5 L558.9 130.4 L559.1 129.5 L559.6 128.3 L560.3 127.4 L561.2 127.5 L561.9 128.1 L562.6 128.8 L562.9 129.9 L563 131 L562.7 131.5 L562.4 131.9 L561.9 131.8 L561.6 131.5 L561.5 130.5 L561.7 129.7 L562.2 128.5 L562.9 128 L563.8 127.6 L564.5 128.2 L565.2 128.9 L565.5 130 L565.6 131 L565.3 131.9 L565 132.3 L564.5 132.4 L564.2 131.9 L564.1 130.7 L564.3 129.4 L564.8 128.4 L565.5 127.6 L566.4 127.5 L566.4 129.4 L566.6 129.8 L566.8 132.7 L567 135.4 L567.2 138.1 L567.4 139.2 L567.6 138.8 L567.8 138.8 L568 139.1 L568.2 139.4 L568.4 139.9 L568.6 139.9 L568.8 140.9 L569 140.1 L569.2 141.1 L569.4 141.3 L569.6 140.9 L569.8 141.6 L570 141.7 L570.2 141.3 L570.4 142.5 L570.6 141.9 L570.8 141.6 L571 141.6 L571.2 141.6 L571.4 142 L571.6 142 L571.8 141.5 L572 141.7 L572.2 141.9 L572.4 142.1 L572.6 142.2 L572.8 142.1 L573 142.7 L573.2 142.9 L573.4 142.6 L573.6 141.8 L573.8 142.7 L574 143 L574.2 142.8 L574.4 143 L574.6 143 L574.8 142.5 L575 142.2 L575.2 143.5 L575.4 143.1 L575.6 143.5 L575.8 143.3 L576 143.4 L576.2 144.1 L576.4 143.2 L576.6 143.7 L576.8 143.4 L577 143.9 L577.2 144.1 L577.4 144.3 L577.6 144.2 L577.8 143.6 L578 144.3 L578.2 144.7 L578.4 144.8 L578.6 145.3 L578.8 144.8 L579 144.2 L579.2 144.5 L579.4 144.8 L579.6 145.2 L579.8 144.5 L580 145.3 L580.2 145.3 L580.4 144.8 L580.6 145.4 L580.8 145 L581 145.3 L581.2 145.3 L581.4 145.5 L581.6 145.1 L581.8 145.8 L582 144.8 L582.2 145.6 L582.4 145.6 L582.6 146.4 L582.8 146.1 L583 145.8 L583.2 145.7 L583.4 146.1 L583.6 145.9 L583.8 147.1 L584 145.3 L584.2 146.4 L584.4 145.5 L584.6 146.9 L584.8 146.3 L585 147.3 L585.2 146.5 L585.4 147.2 L585.6 146.9 L585.8 147.4 L586 147 L586.2 145.9 L586.4 146.8 L586.6 146.5 L586.8 147.5 L587 147.3 L587.2 147.1 L587.4 147.3 L587.6 147.3 L587.8 147 L588 148 L588.2 147.4 L588.4 147.2 L588.6 146.8 L588.8 147.1 L589 147.4 L589.2 147.3 L589.4 147.3 L589.6 147.4 L589.8 147.1 L590 147.5 L590.2 147 L590.4 147.2 L590.6 147.3 L590.8 148 L591 147.8 L591.2 147.7 L591.4 147.3 L591.6 147.6 L591.8 148.1 L592 148.3 L592.2 147.2 L592.4 147.6 L592.6 147.8 L592.8 147.9 L593 147.8 L593.2 148 L593.4 147.2 L593.6 148.4 L593.8 147.4 L594 147.8 L594.2 148 L594.4 148.2 L594.6 148.1 L594.8 148.1 L595 148.3 L595.2 147.7 L595.4 148.1 L595.6 148.4 L595.8 147.5 L596 147.3 L596.2 147.4 L596.4 148.3 L596.6 148.3 L596.8 147.7 L597 147.9 L597.2 148 L597.4 148.2 L597.6 147.1 L597.8 147.6 L598 147.7 L598.2 147.9 L598.4 147.8 L598.6 147.7 L598.8 147.9 L599 146.8 L599.2 149 L599.4 148.1 L599.6 148.1 L599.8 147.5 L600 147.9 L600.2 148.6 L600.4 148.5 L600.6 147.8 L600.8 147.3 L601 147.9 L601.2 147.7 L601.4 148.1 L601.6 147.3 L601.8 147.7 L602 147.9 L602.2 147.6 L602.4 148.2 L602.6 147.4 L602.8 147.3 L603 147.7 L603.2 148.1 L603.4 147.7 L603.6 147.6 L603.8 148.1 L604 146.1 L604.2 142.2 L604.4 138.8 L604.6 136.1 L604.8 134.8 L605 133 L605.2 132.5 L605.4 132.4 L605.6 132.2 L605.8 132.3 L606 132.1 L606.2 131.4 L606.4 131.5 L606.1 133.9 L605.8 132.8 L605.7 131.5 L605.9 130.2 L606.4 129.2 L607.1 128.4 L608 128.3 L608.7 128.7 L609.4 129.3 L609.7 130.2 L609.8 131.1 L609.5 132 L609.2 132.1 L608.7 131.9 L608.4 131.1 L608.3 130.2 L608.5 128.9 L609 127.9 L609.7 127.4 L610.6 127.2 L611.3 127.5 L612 128.4 L612.3 129.6 L612.4 130.6 L612.1 131.7 L611.8 132.2 L611.3 132.1 L611 131.4 L610.9 130.4 L611.1 129.1 L611.6 128.1 L612.3 127.4 L613.2 127.1 L613.9 127.3 L614.6 128.2 L614.9 129.2 L615 130.3 L614.7 131.2 L614.4 131.5 L613.9 131.3 L613.6 130.8 L613.5 130 L613.7 129 L614.2 128.1 L614.9 127.6 L615.8 127.2 L616.5 127.5 L617.2 128.2 L617.5 129.1 L617.6 130 L617.3 131.3 L617 131.5 L616.5 131.4 L616.2 131 L616.1 130.1 L616.3 128.6 L616.8 128.2 L617.5 127.7 L618.4 127.5 L619.1 127.8 L619.8 128.5 L620.1 129.3 L620.2 130.3 L619.9 130.8 L619.6 131 L619.1 131 L618.8 130.4 L618.7 129.5 L618.9 128.7 L619.4 127.5 L620.1 126.7 L621 126.8 L621.7 127.4 L622.4 128.4 L622.7 129.5 L622.8 130.7 L622.5 131.5 L622.2 131.7 L621.7 131.7 L621.4 131.1 L621.3 130.1 L621.5 128.7 L622 128 L622.7 127.5 L623.6 127.4 L624.3 127.6 L625 128.5 L625.3 129.5 L625.4 130.4 L625.1 131.1 L624.8 131.7 L624.3 131.5 L624 130.9 L623.9 129.9 L624.1 128.8 L624.6 127.8 L625.3 127.1 L626.2 127 L626.9 127.4 L627.6 128.2 L627.9 129.2 L628 130.5 L627.7 131.3 L627.4 131.9 L626.9 131.6 L626.6 131 L626.5 129.9 L626.7 128.9 L627.2 128 L627.9 127.5 L628.8 127.5 L629.5 127.6 L630.2 128.3 L630.5 129.2 L630.6 130.2 L630.3 131 L630 131.6 L629.5 131.6 L629.2 130.9 L629.1 130.2 L629.3 129 L629.8 127.9 L630.5 127.4 L631.4 127.2 L632.1 127.6 L632.8 128.4 L633.1 129.3 L633.2 130.3 L632.9 131.1 L632.6 131.4 L632.1 131.3 L631.8 130.6 L631.7 129.3 L631.9 128.4 L632.4 127.4 L633.1 126.8 L634 126.9 L634.7 127.5 L635.4 128.2 L635.7 129.3 L635.8 130.3 L635.5 131.2 L635.2 131.7 L634.7 132 L634.4 131.4 L634.3 130.5 L634.5 129.1 L635 128.1 L635.7 127.2 L636.6 127.1 L637.3 127.2 L638 128.1 L638.3 129 L638.4 130.1 L638.1 130.9 L637.8 131.3 L637.3 131.2 L637 130.6 L636.9 129.9 L637.1 128.7 L637.6 128.2 L638.3 127.8 L639.2 127.6 L639.9 127.7 L640.6 128.4 L640.9 129.3 L641 129.8 L640.7 130.8 L640.4 131.1 L639.9 131.1 L639.6 130.4 L639.5 129.7 L639.7 128.5 L640.2 127.6 L640.9 127.2 L641.8 127.2 L642.5 127.4 L643.2 128.5 L643.5 129.7 L643.6 130.5 L643.3 131.1 L643 131.6 L642.5 131.3 L642.2 130.5 L642.1 129.7 L642.3 128.8 L642.8 127.7 L643.5 127.1 L644.4 127.1 L645.1 127.4 L645.8 128.3 L646.1 129.3 L646.2 130.3 L645.9 131.2 L645.6 131.8 L645.1 131.7 L644.8 131 L644.7 130.1 L644.9 128.8 L645.4 127.7 L646.1 127.1 L647 126.9 L647.7 127.2 L648.4 128 L648.7 129.1 L648.8 130 L648.5 130.8" stroke="#ff1a1a" stroke-width="1.15" stroke-dasharray="2.4 1.1"/>
<path d="M44.9 143.6 L45.2 142.1 L45.5 142 L45.8 142.6 L46.1 143.1 L46.4 143.5 L46.7 143.4 L47 143.5 L47.3 143.7 L47.6 143.4 L47.9 143.4 L48.2 143.6 L48.5 143.7 L48.8 143.3 L49.1 143.1 L49.4 143.3 L49.7 143.3 L50 143.5 L50.3 143.6 L50.6 143.5 L50.9 143.4 L51.2 143.5 L51.5 143.4 L51.8 143.5 L52.1 143.4 L52.4 143.9 L52.7 143.6 L53 143.4 L53.3 143.4 L53.6 143.4 L53.9 143.3 L54.2 143.4 L54.5 143.4 L54.8 143.6 L55.1 143.4 L55.4 143.4 L55.7 143.3 L56 143.3 L56.3 143.5 L56.6 143.5 L56.9 143.7 L57.2 143.4 L57.5 143.7 L57.8 143.5 L58.1 143.5 L58.4 143.2 L58.7 143.3 L59 143.6 L59.3 143.7 L59.6 143.5 L59.9 143.6 L60.2 143.4 L60.5 143.4 L60.8 143.4 L61.1 143.6 L61.4 143.6 L61.7 143.5 L62 143.5 L62.3 143.6 L62.6 143.5 L62.9 143.4 L63.2 143.8 L63.5 143.5 L63.8 143.5 L64.1 143.7 L64.4 143.7 L64.7 143.5 L65 143.6 L65.3 143.3 L65.6 143.4 L65.9 143.2 L66.2 143.7 L66.5 143.2 L66.8 143.6 L67.1 143.4 L67.4 143.4 L67.7 143.5 L68 143.5 L68.3 143.6 L68.6 143.8 L68.9 143.6 L69.2 143.6 L69.5 143.4 L69.8 143.6 L70.1 143.5 L70.4 143.4 L70.7 143.5 L71 143.5 L71.3 143.5 L71.6 143.6 L71.9 143.4 L72.2 143.4 L72.5 143.6 L72.8 143.2 L73.1 143.4 L73.4 143.7 L73.7 143.1 L74 143.4 L74.3 143.6 L74.6 143.3 L74.9 143.9 L75.2 143.1 L75.5 143.7 L75.8 143.7 L76.1 143.6 L76.4 143.5 L76.7 143.6 L77 143.4 L77.3 143.6 L77.6 143.3 L77.9 143.5 L78.2 143.6 L78.5 143.3 L78.8 143.4 L79.1 143.5 L79.4 143.3 L79.7 143.7 L80 143.6 L80.3 143.3 L80.6 143.5 L80.9 143.4 L81.2 143.4 L81.5 143.5 L81.8 143.4 L82.1 143.6 L82.4 143.4 L82.7 143.6 L83 143.5 L83.3 143.6 L83.6 143.4 L83.9 143.4 L84.2 143.3 L84.5 143.6 L84.8 143.6 L85.1 143.8 L85.4 143.7 L85.7 143.5 L86 143.5 L86.3 143.6 L86.6 143.5 L86.9 143.7 L87.2 143.6 L87.5 143.4 L87.8 143.4 L88.1 143.7 L88.4 143.5 L88.7 143.5 L89 143.7 L89.3 143.4 L89.6 143.5 L89.9 143.4 L90.2 143.2 L90.5 143.6 L90.8 143.3 L91.1 143.4 L91.4 143.4 L91.7 143.6 L92 143.5 L92.3 143.5 L92.6 143.2 L92.9 143.5 L93.2 143.3 L93.5 143.5 L93.8 143.6 L94.1 143.5 L94.4 143.8 L94.7 143.5 L95 140.9 L95.3 132.9 L95.6 125 L95.9 115.4 L96.2 108.5 L96.5 106.8 L96.8 105.2 L97.1 103.5 L97.4 102.7 L97.7 102.3 L98 101.9 L98.3 101.4 L98.6 101 L98.9 100.6 L99.2 100.8 L99.5 99.8 L99.8 97.9 L100.1 98.3 L100.4 101.6 L100.7 98.8 L101 97.6 L101.3 97.9 L101.6 98.7 L101.9 96.8 L102.2 96.1 L102.5 97 L102.8 97.3 L103.1 97.2 L103.4 96 L103.7 95.4 L104 94.6 L104.3 95.5 L104.6 95.7 L104.9 96.2 L105.2 94.3 L105.5 94.4 L105.8 94.4 L106.1 94.1 L106.4 95.1 L106.7 95.5 L107 95.1 L107.3 91.2 L107.6 93.1 L107.9 93.5 L108.2 94.9 L108.5 94.3 L108.8 92.7 L109.1 94.5 L109.4 92.7 L109.7 95.2 L110 93.4 L110.3 94.7 L110.6 93.2 L110.9 91.4 L111.2 92 L111.5 92.9 L111.8 94.6 L112.1 93.2 L112.4 91.1 L112.7 92 L113 92.3 L113.3 93.4 L113.6 92.4 L113.9 92.1 L114.2 90.3 L114.5 92.4 L114.8 93.5 L115.1 93.8 L115.4 92.2 L115.7 90.9 L116 88.7 L116.3 92.5 L116.6 92.9 L116.9 91.6 L117.2 90.2 L117.5 91.4 L117.8 91.5 L118.1 91.1 L118.4 91.2 L118.7 90.9 L119 91.8 L119.3 93.1 L119.6 89.6 L119.9 89.8 L120.2 89.8 L120.5 90.9 L120.8 94.1 L121.1 92.3 L121.4 88.7 L121.7 91.6 L122 91.6 L122.3 91 L122.6 91.2 L122.9 89.6 L123.2 90.7 L123.5 91.2 L123.8 92.3 L124.1 92.5 L124.4 90.1 L124.7 88.6 L125 90 L125.3 91.7 L125.6 90.1 L125.9 88.9 L126.2 88.6 L126.5 92 L126.8 89.1 L127.1 91.7 L127.4 91.9 L127.7 88.6 L128 91.8 L128.3 90.2 L128.6 89.8 L128.9 88.1 L129.2 89.6 L129.5 89.8 L129.8 89.4 L130.1 91 L130.4 92.2 L130.7 90.8 L131 89.6 L131.3 88.4 L131.6 89.6 L131.9 91.2 L132.2 90.8 L132.5 88.5 L132.8 90.6 L133.1 91.1 L133.4 89 L133.7 90.1 L134 90.1 L134.3 91.2 L134.6 92.7 L134.9 90 L135.2 88.2 L135.5 88.7 L135.8 90.8 L136.1 90.9 L136.4 91.3 L136.7 90.9 L137 91.4 L137.3 90.3 L137.6 90.5 L137.9 91.3 L138.2 90.1 L138.5 90 L138.8 89.9 L139.1 91.9 L139.4 89.2 L139.7 89.1 L140 88.1 L140.3 91.1 L140.6 90.9 L140.9 91.6 L141.2 89.3 L141.5 89.4 L141.8 90.6 L142.1 89.9 L142.4 91.2 L142.7 90.3 L143 87.8 L143.3 92 L143.6 91.1 L143.9 89.2 L144.2 90.3 L144.5 90.2 L144.8 91.9 L145.1 91 L145.4 88.8 L145.7 91.2 L146 90.2 L146.3 92 L146.6 91.5 L146.9 88.8 L147.2 89.1 L147.5 91.5 L147.8 91.7 L148.1 90 L148.4 93 L148.7 90.8 L149 89.2 L149.3 88.4 L149.6 91.6 L149.9 91.3 L150.2 91.1 L150.5 90.3 L150.8 90.3 L151.1 93.7 L151.4 92.2 L151.7 91 L152 89.1 L152.3 90.8 L152.6 91.8 L152.9 91.7 L153.2 90.5 L153.5 90.8 L153.8 91.3 L154.1 92.2 L154.4 91.9 L154.7 91.3 L155 91.1 L155.3 91 L155.6 91 L155.9 91.1 L156.2 92.7 L156.5 91.9 L156.8 89.6 L157.1 90.4 L157.4 93.7 L157.7 92.5 L158 90.3 L158.3 88.9 L158.6 91.9 L158.9 93.3 L159.2 91 L159.5 91.4 L159.8 90.4 L160.1 92.4 L160.4 92.7 L160.7 91.5 L161 93.4 L161.3 92.4 L161.6 91.6 L161.9 89.8 L162.2 91.6 L162.5 91.8 L162.8 93.5 L163.1 93.3 L163.4 91.4 L163.7 92.5 L164 90.1 L164.3 91.3 L164.6 92.7 L164.9 94.5 L165.2 92.7 L165.5 89.9 L165.8 92.2 L166.1 92.3 L166.4 93.3 L166.7 93.2 L167 90.9 L167.3 91.4 L167.6 92.1 L167.9 93.6 L168.2 92.5 L168.5 90.6 L168.8 90.5 L169.1 92.3 L169.4 92.5 L169.7 92.7 L170 92.2 L170.3 92.6 L170.6 92.2 L170.9 93.4 L171.2 92.8 L171.5 91.2 L171.8 92.3 L172.1 94.8 L172.4 92.8 L172.7 93.1 L173 92 L173.3 92.4 L173.6 91.4 L173.9 92.8 L174.2 95 L174.5 92.5 L174.8 91.4 L175.1 94.1 L175.4 93.2 L175.7 92 L176 91.9 L176.3 93.2 L176.6 94.2 L176.9 92.6 L177.2 105.4 L177.5 124.5 L177.8 143.7 L178.1 143.7 L178.4 143.8 L178.7 143.8 L179 143.7 L179.3 143.7 L179.6 143.8 L179.9 143.9 L180.2 143.5 L180.5 143.8 L180.8 143.8 L181.1 143.8 L181.4 143.8 L181.7 143.5 L182 143.5 L182.3 144 L182.6 143.7 L182.9 143.5 L183.2 143.7 L183.5 143.6 L183.8 143.4 L184.1 143.3 L184.4 143.4 L184.7 143.7 L185 143.7 L185.3 143.6 L185.6 143.7 L185.9 143.8 L186.2 143.3 L186.5 143.6 L186.8 143.5 L187.1 143.5 L187.4 143.6 L187.7 143.6 L188 143.6 L188.3 143.4 L188.6 143.6 L188.9 143.9 L189.2 143.5 L189.5 143.4 L189.8 143.7 L190.1 143.7 L190.4 143.7 L190.7 143.5 L191 143.8 L191.3 143.5 L191.6 143.5 L191.9 143.5 L192.2 143.6 L192.5 143.7 L192.8 143.7 L193.1 143.6 L193.4 143.8 L193.7 143.6 L194 143.8 L194.3 143.4 L194.6 143.4 L194.9 143.7 L195.2 143.4 L195.5 143.6 L195.8 143.6 L196.1 143.5 L196.4 143.5 L196.7 143.8 L197 143.2 L197.3 143.7 L197.6 143.9 L197.9 143.6 L198.2 143.6 L198.5 143.7 L198.8 143.9 L199.1 143.4 L199.4 143.6 L199.7 143.6 L200 143.7 L200.3 143.6 L200.6 143.7 L200.9 143.5 L201.2 143.6 L201.5 143.5 L201.8 143.5 L202.1 143.6 L202.4 143.6 L202.7 143.4 L203 143.8 L203.3 143.6 L203.6 143.4 L203.9 143.7 L204.2 143.5 L204.5 143.6 L204.8 143.6 L205.1 143.6 L205.4 143.6 L205.7 143.5 L206 143.6 L206.3 143.9 L206.6 143.2 L206.9 143.6 L207.2 143.6 L207.5 143.4 L207.8 143.3 L208.1 143.9 L208.4 143.5 L208.7 143.9 L209 143.6 L209.3 143.6 L209.6 143.6 L209.9 143.6 L210.2 143.7 L210.5 143.6 L210.8 143.6 L211.1 143.6 L211.4 143.7 L211.7 143.7 L212 143.4 L212.3 143.4 L212.6 143.6 L212.9 143.4 L213.2 143.5 L213.5 143.4 L213.8 143.5 L214.1 143.6 L214.4 143.7 L214.7 143.5 L215 143.8 L215.3 143.5 L215.6 144 L215.9 143.7 L216.2 143.6 L216.5 143.4 L216.8 143.1 L217.1 143.5 L217.4 143.5 L217.7 143.8 L218 143.3 L218.3 143.8 L218.6 143.5 L218.9 143.5 L219.2 136.8 L219.5 126.8 L219.8 116.7 L220.1 108.8 L220.4 105.2 L220.7 101.6 L221 98 L221.3 94.4 L221.6 91.7 L221.9 90.7 L222.2 89.7 L222.5 88.7 L222.8 87.8 L223.1 85.3 L223.4 85 L223.7 88 L224 89.1 L224.3 87.3 L224.6 88 L224.9 87.4 L225.2 88.5 L225.5 87.7 L225.8 85 L226.1 86.1 L226.4 88.6 L226.7 92.4 L227 86.3 L227.3 84.5 L227.6 87.2 L227.9 88.5 L228.2 87.6 L228.5 84.9 L228.8 86 L229.1 87.8 L229.4 89 L229.7 89.3 L230 86.1 L230.3 84.5 L230.6 85.6 L230.9 89.3 L231.2 88.5 L231.5 85.3 L231.8 86.2 L232.1 90.1 L232.4 85.2 L232.7 87 L233 87.8 L233.3 84.6 L233.6 88.3 L233.9 90.3 L234.2 87.4 L234.5 87.5 L234.8 92 L235.1 87.4 L235.4 83.9 L235.7 84.8 L236 89.2 L236.3 91.8 L236.6 87.9 L236.9 84 L237.2 86.9 L237.5 90.2 L237.8 89 L238.1 86 L238.4 87.6 L238.7 88.5 L239 87.5 L239.3 86.4 L239.6 88.2 L239.9 90.7 L240.2 86.7 L240.5 87 L240.8 88.8 L241.1 87.4 L241.4 86.2 L241.7 89.1 L242 90.6 L242.3 85.2 L242.6 86.5 L242.9 91.2 L243.2 89.8 L243.5 86.1 L243.8 86.3 L244.1 90.6 L244.4 88 L244.7 87.1 L245 89.3 L245.3 88.6 L245.6 84.4 L245.9 91 L246.2 90.5 L246.5 88.7 L246.8 86.4 L247.1 86.5 L247.4 88.4 L247.7 88.2 L248 89.2 L248.3 87 L248.6 87.3 L248.9 88.6 L249.2 86.6 L249.5 91.6 L249.8 86.2 L250.1 84.6 L250.4 89.8 L250.7 88.8 L251 87.2 L251.3 84.8 L251.6 89.8 L251.9 91.4 L252.2 86.8 L252.5 92 L252.8 82.6 L253.1 91.6 L253.4 88.3 L253.7 85.9 L254 89.8 L254.3 90.5 L254.6 88 L254.9 90 L255.2 87.7 L255.5 89 L255.8 85.1 L256.1 86.7 L256.4 90.6 L256.7 87.8 L257 87.3 L257.3 90.9 L257.6 89.5 L257.9 87.7 L258.2 86.7 L258.5 88.7 L258.8 90.1 L259.1 84.8 L259.4 90.6 L259.7 87.5 L260 89 L260.3 90.2 L260.6 88.5 L260.9 85.9 L261.2 88.2 L261.5 88.7 L261.8 89.2 L262.1 86.3 L262.4 87.6 L262.7 88.7 L263 93.3 L263.3 89.1 L263.6 84.8 L263.9 86 L264.2 87.4 L264.5 91.9 L264.8 89.6 L265.1 86.5 L265.4 90.2 L265.7 89.7 L266 86.7 L266.3 88.7 L266.6 89.3 L266.9 87.6 L267.2 87.2 L267.5 88.1 L267.8 89.2 L268.1 90.2 L268.4 86.1 L268.7 87.3 L269 87.5 L269.3 90.2 L269.6 87.7 L269.9 88.5 L270.2 90.3 L270.5 89.5 L270.8 88 L271.1 85.1 L271.4 87.3 L271.7 87.7 L272 91.1 L272.3 89.3 L272.6 86.1 L272.9 89 L273.2 88.1 L273.5 86.8 L273.8 86.8 L274.1 87.5 L274.4 88.3 L274.7 88.7 L275 88.8 L275.3 83.5 L275.6 88.3 L275.9 89.5 L276.2 86 L276.5 89.4 L276.8 88.9 L277.1 88.4 L277.4 88.4 L277.7 88.1 L278 88.5 L278.3 90.5 L278.6 87 L278.9 88 L279.2 90.4 L279.5 89.9 L279.8 86.1 L280.1 88.7 L280.4 92.3 L280.7 88 L281 84.8 L281.3 90.4 L281.6 91.6 L281.9 85.8 L282.2 87.7 L282.5 94.5 L282.8 88.1 L283.1 87.7 L283.4 86.7 L283.7 89.4 L284 90.2 L284.3 88.1 L284.6 88.9 L284.9 87.9 L285.2 85.5 L285.5 88.6 L285.8 89.2 L286.1 88.5 L286.4 87.9 L286.7 88.9 L287 89 L287.3 87.2 L287.6 89.1 L287.9 90.2 L288.2 88.2 L288.5 85.1 L288.8 91.3 L289.1 90 L289.4 88.6 L289.7 84.2 L290 86.6 L290.3 88.3 L290.6 88.8 L290.9 88.2 L291.2 88.7 L291.5 90.5 L291.8 90.2 L292.1 87.9 L292.4 84.4 L292.7 87.9 L293 90.5 L293.3 87.5 L293.6 88 L293.9 89.3 L294.2 88.9 L294.5 88.8 L294.8 86.2 L295.1 91.5 L295.4 88.1 L295.7 87.9 L296 90.2 L296.3 85.3 L296.6 85.6 L296.9 87.3 L297.2 90.2 L297.5 89.5 L297.8 86.5 L298.1 86.2 L298.4 91.6 L298.7 89.3 L299 86.8 L299.3 90.7 L299.6 87.8 L299.9 87.4 L300.2 86.5 L300.5 87 L300.8 89.6 L301.1 88.4 L301.4 90 L301.7 88.8 L302 102.7 L302.3 123.5 L302.6 144.4 L302.9 144.4 L303.2 144.4 L303.5 144.5 L303.8 144 L304.1 144.4 L304.4 144.3 L304.7 144.5 L305 144.4 L305.3 144.2 L305.6 144.5 L305.9 144.5 L306.2 144.5 L306.5 144.5 L306.8 144.6 L307.1 144.4 L307.4 144.2 L307.7 144.2 L308 144.6 L308.3 144.5 L308.6 144.4 L308.9 144.3 L309.2 144.4 L309.5 144.4 L309.8 144.3 L310.1 144.3 L310.4 144.7 L310.7 144.4 L311 144.3 L311.3 144.2 L311.6 144.3 L311.9 144.5 L312.2 144.5 L312.5 144.3 L312.8 144.4 L313.1 144.3 L313.4 144.2 L313.7 144.6 L314 144.4 L314.3 144.7 L314.6 144.3 L314.9 144.3 L315.2 144.5 L315.5 144.3 L315.8 144.2 L316.1 144.2 L316.4 144.4 L316.7 144.4 L317 144.4 L317.3 144.5 L317.6 144.5 L317.9 144.4 L318.2 144.4 L318.5 144.3 L318.8 144.4 L319.1 144.5 L319.4 144.4 L319.7 144.4 L320 144.3 L320.3 144.1 L320.6 144.2 L320.9 144.5 L321.2 144.4 L321.5 144.6 L321.8 144.4 L322.1 144.5 L322.4 144.5 L322.7 144.5 L323 144.3 L323.3 144.3 L323.6 144.4 L323.9 144.2 L324.2 144.4 L324.5 144.5 L324.8 144.3 L325.1 144.6 L325.4 144.3 L325.7 144.3 L326 144.3 L326.3 144.2 L326.6 144.4 L326.9 144.3 L327.2 144.6 L327.5 144.4 L327.8 144.4 L328.1 144.3 L328.4 144.1 L328.7 144.3 L329 144.2 L329.3 144.5 L329.6 144.3 L329.9 144.6 L330.2 144.4 L330.5 144.5 L330.8 144.4 L331.1 144.4 L331.4 144.4 L331.7 144.5 L332 144.2 L332.3 144.4 L332.6 144.7 L332.9 144.3 L333.2 144.3 L333.5 144.2 L333.8 144.1 L334.1 144.5 L334.4 144.3 L334.7 144.4 L335 144.6 L335.3 144.7 L335.6 144.2 L335.9 144.5 L336.2 144.4 L336.5 144.4 L336.8 144.4 L337.1 144.3 L337.4 144.6 L337.7 144.4 L338 144.4 L338.3 144.5 L338.6 144.4 L338.9 144.4 L339.2 144.4 L339.5 144.6 L339.8 144.4 L340.1 144.3 L340.4 144.2 L340.7 144.3 L341 144.1 L341.3 144.3 L341.6 144.3 L341.9 144 L342.2 144.3 L342.5 144.4 L342.8 144.3 L343.1 144.3 L343.4 141.4 L343.7 132.9 L344 124.3 L344.3 115.7 L344.6 108.8 L344.9 105.2 L345.2 101.6 L345.5 98 L345.8 94.4 L346.1 91.6 L346.4 90.6 L346.7 89.5 L347 88.4 L347.3 87.4 L347.6 86.8 L347.9 86.4 L348.2 85.7 L348.5 84.6 L348.8 85.6 L349.1 85.2 L349.4 83.2 L349.7 84.1 L350 84.8 L350.3 83.8 L350.6 84 L350.9 84.6 L351.2 85 L351.5 82.3 L351.8 84.5 L352.1 85.1 L352.4 83.5 L352.7 84.4 L353 85.5 L353.3 84.3 L353.6 84.2 L353.9 83 L354.2 83.1 L354.5 84.7 L354.8 84.9 L355.1 85.5 L355.4 84 L355.7 82.6 L356 85.1 L356.3 86.7 L356.6 85 L356.9 82.9 L357.2 84.7 L357.5 85.4 L357.8 83.4 L358.1 85.7 L358.4 84.9 L358.7 84.9 L359 84.3 L359.3 84.4 L359.6 84.9 L359.9 86.3 L360.2 83.2 L360.5 83.9 L360.8 86.2 L361.1 84.4 L361.4 84.7 L361.7 84 L362 84.4 L362.3 83.4 L362.6 83.3 L362.9 81.5 L363.2 78.6 L363.5 78.8 L363.8 79.3 L364.1 79.5 L364.4 79.9 L364.7 77.5 L365 77.9 L365.3 79 L365.6 79.3 L365.9 77.4 L366.2 78.5 L366.5 78.8 L366.8 77.8 L367.1 78.7 L367.4 78.3 L367.7 76.3 L368 78.7 L368.3 80.1 L368.6 77.7 L368.9 78.9 L369.2 77.6 L369.5 77.6 L369.8 77.9 L370.1 78.9 L370.4 77.6 L370.7 77.1 L371 77.7 L371.3 78.2 L371.6 77.5 L371.9 78 L372.2 76.5 L372.5 77 L372.8 77.9 L373.1 77.5 L373.4 77.7 L373.7 77.9 L374 77.7 L374.3 78.6 L374.6 77.3 L374.9 77.1 L375.2 76.9 L375.5 78.4 L375.8 76.6 L376.1 75.4 L376.4 76.8 L376.7 77.6 L377 78.7 L377.3 77.2 L377.6 74.8 L377.9 77.8 L378.2 79.4 L378.5 77.5 L378.8 76.5 L379.1 77.2 L379.4 77.9 L379.7 77.4 L380 77.4 L380.3 76.7 L380.6 76.8 L380.9 78 L381.2 78.7 L381.5 76.1 L381.8 76.6 L382.1 79.1 L382.4 79.4 L382.7 76.6 L383 78.2 L383.3 78.7 L383.6 78.1 L383.9 76.2 L384.2 76.6 L384.5 76.9 L384.8 79.5 L385.1 79.7 L385.4 78 L385.7 76.5 L386 78.8 L386.3 78.7 L386.6 77.7 L386.9 75.8 L387.2 78.6 L387.5 79.6 L387.8 78.1 L388.1 77.8 L388.4 77.3 L388.7 78.3 L389 78.6 L389.3 80.6 L389.6 77.9 L389.9 76.5 L390.2 78.3 L390.5 78.1 L390.8 77.6 L391.1 78.3 L391.4 79.3 L391.7 79.5 L392 78.8 L392.3 76.4 L392.6 76.6 L392.9 78.2 L393.2 79.6 L393.5 80.2 L393.8 79.8 L394.1 79.2 L394.4 77.3 L394.7 79.1 L395 79 L395.3 78.3 L395.6 78 L395.9 80 L396.2 79.6 L396.5 77.9 L396.8 78.3 L397.1 80.2 L397.4 80.7 L397.7 78.4 L398 78.1 L398.3 81.1 L398.6 79.8 L398.9 78.4 L399.2 79.4 L399.5 82 L399.8 80.1 L400.1 79.5 L400.4 77.4 L400.7 78.5 L401 79.4 L401.3 80.7 L401.6 79.9 L401.9 79.4 L402.2 80.6 L402.5 79.3 L402.8 80.5 L403.1 79.7 L403.4 77.8 L403.7 79.9 L404 81.1 L404.3 80.6 L404.6 80.1 L404.9 80 L405.2 80.7 L405.5 79.6 L405.8 79.2 L406.1 80.4 L406.4 79.6 L406.7 80.6 L407 81 L407.3 79.2 L407.6 79.5 L407.9 79.3 L408.2 81.2 L408.5 80.6 L408.8 81.9 L409.1 80.3 L409.4 80 L409.7 78.9 L410 80.6 L410.3 80.8 L410.6 82.4 L410.9 80.8 L411.2 80.3 L411.5 81.9 L411.8 81.8 L412.1 80.3 L412.4 81.1 L412.7 82.5 L413 81.4 L413.3 80.6 L413.6 80 L413.9 81.6 L414.2 82.8 L414.5 82.4 L414.8 82 L415.1 79 L415.4 80.5 L415.7 82.9 L416 83.2 L416.3 81.1 L416.6 81.4 L416.9 81.1 L417.2 81.5 L417.5 83.4 L417.8 81.1 L418.1 79.8 L418.4 81.8 L418.7 83.1 L419 80.6 L419.3 81.9 L419.6 81.9 L419.9 81.8 L420.2 81.3 L420.5 82.4 L420.8 82.5 L421.1 81.8 L421.4 81.4 L421.7 81.6 L422 82.2 L422.3 82.3 L422.6 81.9 L422.9 83.1 L423.2 82.4 L423.5 81.6 L423.8 82.3 L424.1 82.8 L424.4 82.4 L424.7 82.3 L425 82.3 L425.3 82.7 L425.6 81.8 L425.9 82 L426.2 84.9 L426.5 84.1 L426.8 82.6 L427.1 80.9 L427.4 81.7 L427.7 81.5 L428 83.2 L428.3 83.9 L428.6 82 L428.9 82.4 L429.2 81.9 L429.5 82.2 L429.8 83.3 L430.1 83.1 L430.4 80.9 L430.7 82.3 L431 84.6 L431.3 83 L431.6 82 L431.9 82.7 L432.2 84.4 L432.5 82.4 L432.8 82.1 L433.1 81.9 L433.4 82.9 L433.7 83.1 L434 84.2 L434.3 84.2 L434.6 82.9 L434.9 81.2 L435.2 83.2 L435.5 83.5 L435.8 83.7 L436.1 82.4 L436.4 83 L436.7 82.9 L437 84.6 L437.3 83.6 L437.6 82.8 L437.9 82.7 L438.2 84 L438.5 84.1 L438.8 82.4 L439.1 82.7 L439.4 82.8 L439.7 84.6 L440 83.3 L440.3 83.5 L440.6 109.6 L440.9 135.7 L441.2 144.4 L441.5 144.4 L441.8 144.3 L442.1 144.6 L442.4 144.3 L442.7 144.2 L443 144.2 L443.3 144.4 L443.6 144.5 L443.9 144.6 L444.2 144.4 L444.5 144.2 L444.8 144.3 L445.1 144.3 L445.4 144.4 L445.7 144.1 L446 144.4 L446.3 144.5 L446.6 144.4 L446.9 144.5 L447.2 144.2 L447.5 144.2 L447.8 144.3 L448.1 144.6 L448.4 144.5 L448.7 144.3 L449 144.6 L449.3 144.3 L449.6 144.6 L449.9 144.4 L450.2 144.3 L450.5 144.5 L450.8 144.3 L451.1 144.2 L451.4 144.2 L451.7 144.4 L452 144.4 L452.3 144.4 L452.6 144.3 L452.9 144.6 L453.2 144.3 L453.5 144.3 L453.8 144.6 L454.1 144.6 L454.4 144.4 L454.7 144.1 L455 144.3 L455.3 144.5 L455.6 144.4 L455.9 144.6 L456.2 144.2 L456.5 144.5 L456.8 144.3 L457.1 144.6 L457.4 144.3 L457.7 144.5 L458 144.3 L458.3 144.1 L458.6 144.2 L458.9 144.3 L459.2 144.2 L459.5 144.5 L459.8 144.6 L460.1 144.4 L460.4 144.2 L460.7 144.3 L461 144.2 L461.3 144.6 L461.6 144.4 L461.9 144.4 L462.2 144.3 L462.5 144 L462.8 144.2 L463.1 144.2 L463.4 144.4 L463.7 144.4 L464 144.2 L464.3 144.3 L464.6 144.6 L464.9 144.2 L465.2 144.2 L465.5 144.3 L465.8 144.2 L466.1 144.3 L466.4 144.4 L466.7 144.6 L467 144.1 L467.3 144.3 L467.6 144.3 L467.9 144.3 L468.2 144.3 L468.5 144.3 L468.8 144.5 L469.1 144.3 L469.4 144.3 L469.7 144.3 L470 144.3 L470.3 144.3 L470.6 144.5 L470.9 144.3 L471.2 144.3 L471.5 144.3 L471.8 144.2 L472.1 144.2 L472.4 144.2 L472.7 144.3 L473 144.2 L473.3 144.2 L473.6 144.3 L473.9 144.4 L474.2 144 L474.5 144.6 L474.8 144.3 L475.1 144.3 L475.4 144.5 L475.7 144.3 L476 144.2 L476.3 144.6 L476.6 144.1 L476.9 144.3 L477.2 144.4 L477.5 144.1 L477.8 144.3 L478.1 144.3 L478.4 140.3 L478.7 128.2 L479 116.1 L479.3 104 L479.6 97.1 L479.9 92.8 L480.2 88.4 L480.5 86.3 L480.8 85.2 L481.1 84.3 L481.4 82.4 L481.7 82.9 L482 80 L482.3 79.5 L482.6 80.2 L482.9 80.7 L483.2 79.3 L483.5 79.6 L483.8 79.8 L484.1 81.1 L484.4 79.4 L484.7 79.9 L485 80.8 L485.3 79.2 L485.6 80.9 L485.9 79.4 L486.2 76.4 L486.5 77.7 L486.8 79.6 L487.1 81.1 L487.4 79.3 L487.7 79.4 L488 78.7 L488.3 78.6 L488.6 80.3 L488.9 80.6 L489.2 78.3 L489.5 79.1 L489.8 80 L490.1 78.5 L490.4 78 L490.7 78.9 L491 79.1 L491.3 79.4 L491.6 78.7 L491.9 79.5 L492.2 79.3 L492.5 77.1 L492.8 80.3 L493.1 79.1 L493.4 78 L493.7 79.6 L494 78.5 L494.3 79 L494.6 78.4 L494.9 78.9 L495.2 78.8 L495.5 78.2 L495.8 78 L496.1 78.6 L496.4 79 L496.7 78.4 L497 78.5 L497.3 78.6 L497.6 78.8 L497.9 77.5 L498.2 76.6 L498.5 79.3 L498.8 78.3 L499.1 78.1 L499.4 78.2 L499.7 78.4 L500 78.5 L500.3 79.2 L500.6 77.8 L500.9 77.9 L501.2 79 L501.5 78.6 L501.8 77.8 L502.1 77.6 L502.4 79.1 L502.7 77.6 L503 76.7 L503.3 78.4 L503.6 79.2 L503.9 79.1 L504.2 78.5 L504.5 77.1 L504.8 77 L505.1 78.2 L505.4 79.4 L505.7 78.3 L506 76.8 L506.3 78 L506.6 77.9 L506.9 77.3 L507.2 78.2 L507.5 77.9 L507.8 78.4 L508.1 77.1 L508.4 77.7 L508.7 79.1 L509 76.8 L509.3 78.5 L509.6 78.4 L509.9 76.5 L510.2 78.1 L510.5 77.6 L510.8 78.3 L511.1 78.1 L511.4 76.3 L511.7 77.1 L512 78.8 L512.3 78.1 L512.6 77.9 L512.9 76.1 L513.2 76.8 L513.5 77.3 L513.8 78.6 L514.1 79 L514.4 77 L514.7 77.8 L515 77.8 L515.3 78.1 L515.6 76.9 L515.9 77.9 L516.2 76 L516.5 76.4 L516.8 77.3 L517.1 78.2 L517.4 79 L517.7 76.8 L518 78.7 L518.3 78.2 L518.6 75.5 L518.9 78 L519.2 79.6 L519.5 77.4 L519.8 76 L520.1 76.8 L520.4 79.8 L520.7 77.2 L521 77.5 L521.3 78.2 L521.6 76.9 L521.9 77.3 L522.2 77.9 L522.5 78.1 L522.8 78.1 L523.1 77.1 L523.4 76.9 L523.7 78.5 L524 78.1 L524.3 76.8 L524.6 75.8 L524.9 78 L525.2 78.5 L525.5 76 L525.8 78.7 L526.1 76.3 L526.4 76.5 L526.7 78 L527 78.6 L527.3 77.5 L527.6 75.6 L527.9 76.2 L528.2 78.7 L528.5 78.7 L528.8 76.5 L529.1 76 L529.4 77.2 L529.7 78.6 L530 77.4 L530.3 76.6 L530.6 76.5 L530.9 77.3 L531.2 78.9 L531.5 77.5 L531.8 75.9 L532.1 76.1 L532.4 77.5 L532.7 77.7 L533 76.8 L533.3 76.6 L533.6 76.8 L533.9 76.6 L534.2 76.8 L534.5 76.6 L534.8 77.5 L535.1 78.3 L535.4 75.4 L535.7 75.8 L536 77.1 L536.3 78.1 L536.6 75.9 L536.9 78.8 L537.2 77.9 L537.5 76.6 L537.8 75.5 L538.1 75.8 L538.4 76.3 L538.7 77.7 L539 79 L539.3 77 L539.6 75.8 L539.9 78.2 L540.2 78.5 L540.5 76.5 L540.8 76.2 L541.1 76.1 L541.4 76.8 L541.7 79.4 L542 78.2 L542.3 76.7 L542.6 75.9 L542.9 77.4 L543.2 78.8 L543.5 77.7 L543.8 77.1 L544.1 78.6 L544.4 77.4 L544.7 76.8 L545 75.5 L545.3 77 L545.6 78.8 L545.9 78.7 L546.2 77.2 L546.5 77 L546.8 77.1 L547.1 76.6 L547.4 77.5 L547.7 78.3 L548 77.4 L548.3 77.3 L548.6 79.1 L548.9 78 L549.2 75.9 L549.5 76.9 L549.8 78.3 L550.1 78.4 L550.4 77.6 L550.7 77.3 L551 78.9 L551.3 79.4 L551.6 77.9 L551.9 77.4 L552.2 78 L552.5 77.4 L552.8 78.8 L553.1 79.5 L553.4 78.5 L553.7 77.8 L554 77.2 L554.3 77.3 L554.6 78.1 L554.9 79.6 L555.2 76.9 L555.5 79 L555.8 78 L556.1 78.4 L556.4 78.2 L556.7 78.8 L557 76.4 L557.3 78.2 L557.6 79.7 L557.9 78.5 L558.2 78.7 L558.5 78.1 L558.8 78 L559.1 79.5 L559.4 80 L559.7 78.1 L560 77.8 L560.3 80.7 L560.6 80.1 L560.9 78.5 L561.2 79.4 L561.5 80.3 L561.8 78.5 L562.1 79 L562.4 81.1 L562.7 78.9 L563 79.1 L563.3 78.4 L563.6 79.8 L563.9 80.5 L564.2 79.9 L564.5 79.3 L564.8 79.2 L565.1 80.3 L565.4 79 L565.7 79.9 L566 80 L566.3 112.2 L566.6 144.4 L566.9 144.5 L567.2 144.8 L567.5 144.3 L567.8 144.4 L568.1 144.5 L568.4 144.4 L568.7 144.2 L569 144.5 L569.3 144.4 L569.6 144.5 L569.9 144.6 L570.2 144.5 L570.5 144.5 L570.8 144.4 L571.1 144.2 L571.4 144.4 L571.7 144.4 L572 144.3 L572.3 144.4 L572.6 144.3 L572.9 144.6 L573.2 144.7 L573.5 144.3 L573.8 144.4 L574.1 144.3 L574.4 144.6 L574.7 144.4 L575 144.4 L575.3 144.3 L575.6 144.4 L575.9 144.2 L576.2 144.5 L576.5 144.3 L576.8 144.5 L577.1 144.4 L577.4 144.5 L577.7 144.4 L578 144.5 L578.3 144.2 L578.6 144.5 L578.9 144.3 L579.2 144.4 L579.5 144.4 L579.8 144.5 L580.1 144.1 L580.4 144.4 L580.7 144.1 L581 144.5 L581.3 144.1 L581.6 144.2 L581.9 144.1 L582.2 144.6 L582.5 144.2 L582.8 144.4 L583.1 144.3 L583.4 144.1 L583.7 144.3 L584 144.5 L584.3 144.3 L584.6 144.5 L584.9 144.3 L585.2 144.4 L585.5 144.3 L585.8 144.4 L586.1 144.6 L586.4 144.4 L586.7 144.4 L587 144.3 L587.3 144.2 L587.6 144.6 L587.9 144.2 L588.2 144.2 L588.5 144.3 L588.8 144.3 L589.1 144.6 L589.4 144 L589.7 144.4 L590 144.4 L590.3 144.2 L590.6 144.2 L590.9 144.4 L591.2 144.6 L591.5 144.2 L591.8 144.1 L592.1 144.5 L592.4 144.6 L592.7 144.3 L593 144 L593.3 144.5 L593.6 144.3 L593.9 144.5 L594.2 144.3 L594.5 144.3 L594.8 144.3 L595.1 144.5 L595.4 144.5 L595.7 144 L596 144.2 L596.3 144.6 L596.6 144.3 L596.9 144.1 L597.2 144.3 L597.5 144.3 L597.8 144.3 L598.1 144.2 L598.4 144.3 L598.7 144.2 L599 144.4 L599.3 144.2 L599.6 144.3 L599.9 144.3 L600.2 144.5 L600.5 144.4 L600.8 144.3 L601.1 144.4 L601.4 144.4 L601.7 144.5 L602 144.4 L602.3 144.6 L602.6 144.5 L602.9 144.3 L603.2 144.2 L603.5 144.4 L603.8 144.3 L604.1 138.4 L604.4 120.8 L604.7 103.2 L605 85.6 L605.3 84.6 L605.6 83.6 L605.9 82.5 L606.2 81.5 L606.5 80.5 L606.8 80.3 L607.1 79.5 L607.4 79 L607.7 79.4 L608 78.9 L608.3 78.7 L608.6 78.5 L608.9 77.4 L609.2 78.6 L609.5 77.1 L609.8 78.6 L610.1 78.8 L610.4 76.8 L610.7 78.6 L611 78.6 L611.3 75.1 L611.6 78.6 L611.9 78.8 L612.2 77.6 L612.5 76 L612.8 77.1 L613.1 78.3 L613.4 77.7 L613.7 75.6 L614 78.5 L614.3 77.6 L614.6 75.8 L614.9 77.5 L615.2 77.6 L615.5 77 L615.8 76.6 L616.1 76.9 L616.4 77.8 L616.7 77.1 L617 77.1 L617.3 77.7 L617.6 76.7 L617.9 77.3 L618.2 76.8 L618.5 76 L618.8 76.9 L619.1 76.9 L619.4 76.2 L619.7 75.7 L620 77.3 L620.3 77.7 L620.6 74.3 L620.9 77.3 L621.2 76.1 L621.5 75.9 L621.8 75.7 L622.1 77.1 L622.4 77.9 L622.7 74.5 L623 76.5 L623.3 77.8 L623.6 75.9 L623.9 75.9 L624.2 75.2 L624.5 76 L624.8 77 L625.1 78.9 L625.4 75 L625.7 74.3 L626 76.9 L626.3 76.8 L626.6 76.2 L626.9 75.8 L627.2 74.7 L627.5 76 L627.8 76 L628.1 76.2 L628.4 76.7 L628.7 75.1 L629 75.3 L629.3 76.9 L629.6 76.7 L629.9 75.1 L630.2 76 L630.5 77.6 L630.8 75.6 L631.1 75.3 L631.4 76.1 L631.7 76.1 L632 76 L632.3 75.6 L632.6 75.5 L632.9 76.3 L633.2 76.3 L633.5 76 L633.8 75.7 L634.1 77.6 L634.4 77.6 L634.7 75 L635 74.5 L635.3 74.4 L635.6 75.1 L635.9 76.4 L636.2 77.2 L636.5 77 L636.8 76.4 L637.1 74.8 L637.4 74.6 L637.7 75.4 L638 76.1 L638.3 77.2 L638.6 75.4 L638.9 75 L639.2 74.8 L639.5 76.1 L639.8 77.2 L640.1 76.4 L640.4 76.4 L640.7 74.2 L641 74.3 L641.3 76.3 L641.6 76.1 L641.9 76.4 L642.2 74.2 L642.5 75.9 L642.8 75.3 L643.1 75.3 L643.4 75.1 L643.7 76.5 L644 75.3 L644.3 74.8 L644.6 75.5 L644.9 75.3 L645.2 74.6 L645.5 74.5 L645.8 75.4 L646.1 75.5 L646.4 76.1 L646.7 75.5 L647 74.8 L647.3 72.9 L647.6 73.9" stroke="#3a9a22" stroke-width="1.1"/>
<path d="M44.9 144.7 L45.4 144.7 L45.8 144.3 L46.3 144.3 L46.7 144.6 L47.2 144.3 L47.6 144.5 L48.1 144.4 L48.5 144.6 L49 144.1 L49.4 144.2 L49.9 144.3 L50.3 144.7 L50.8 144.5 L51.2 144.2 L51.7 144.6 L52.1 144.6 L52.6 144.5 L53 144.5 L53.5 144.6 L53.9 144.7 L54.4 144.5 L54.8 144.6 L55.3 144.5 L55.7 144.4 L56.2 144.4 L56.6 144.5 L57.1 144.5 L57.5 144.5 L58 144.6 L58.4 144.6 L58.9 144.6 L59.3 144.3 L59.8 144.6 L60.2 144.4 L60.7 144.4 L61.1 144.4 L61.6 144.7 L62 144.6 L62.5 144.4 L62.9 144.3 L63.4 144.5 L63.8 144.4 L64.3 144.7 L64.7 144.3 L65.2 144.2 L65.6 144.5 L66.1 144.5 L66.5 144.5 L67 144.6 L67.4 144.8 L67.9 144.4 L68.3 144.4 L68.8 144.2 L69.2 144.5 L69.7 144.6 L70.1 144.5 L70.6 144.7 L71 144.5 L71.5 144.7 L71.9 144.5 L72.4 144.3 L72.8 144.4 L73.3 144.3 L73.7 144.2 L74.2 144.5 L74.6 144.6 L75.1 144.8 L75.5 144.5 L76 144.5 L76.4 144.3 L76.9 144.6 L77.3 144.6 L77.8 144.4 L78.2 144.6 L78.7 144.6 L79.1 144.2 L79.6 144.6 L80 144.5 L80.5 144.4 L80.9 144.4 L81.4 144.8 L81.8 144.7 L82.3 144.8 L82.7 144.3 L83.2 144.4 L83.6 144.6 L84.1 144.3 L84.5 144.4 L85 144.2 L85.4 144.8 L85.9 144.7 L86.3 144.6 L86.8 144.5 L87.2 144.4 L87.7 144.4 L88.1 144.6 L88.6 144.4 L89 144.7 L89.5 144.4 L89.9 144.4 L90.4 144.7 L90.8 144.5 L91.3 144.6 L91.7 144.4 L92.2 144.2 L92.6 144.6 L93.1 144.3 L93.5 144.7 L94 144.3 L94.4 144.2 L94.9 144.5 L95.3 131.5 L95.8 120.4 L96.2 112 L96.7 108.5 L97.1 105.1 L97.6 101.6 L98 99.3 L98.5 97.2 L98.9 95.9 L99.4 95 L99.8 94.1 L100.3 93.1 L100.7 92.3 L101.2 92.5 L101.6 91.5 L102.1 91.4 L102.5 91 L103 90.8 L103.4 90.7 L103.9 90 L104.3 90.1 L104.8 89.9 L105.2 89.2 L105.7 89.1 L106.1 89.2 L106.6 89 L107 89 L107.5 88.3 L107.9 88.8 L108.4 88.6 L108.8 88.2 L109.3 87.8 L109.7 88 L110.2 87.7 L110.6 87.8 L111.1 87.4 L111.5 87.5 L112 87.1 L112.4 87.5 L112.9 86.5 L113.3 86.8 L113.8 87.1 L114.2 86.5 L114.7 87 L115.1 86.5 L115.6 86.7 L116 86.4 L116.5 86.4 L116.9 86.5 L117.4 86.4 L117.8 86.3 L118.3 86.8 L118.7 86.2 L119.2 85.9 L119.6 86.3 L120.1 86.2 L120.5 86.3 L121 86.3 L121.4 85.6 L121.9 86.1 L122.3 86 L122.8 85.7 L123.2 85.7 L123.7 84.9 L124.1 85.4 L124.6 86 L125 85 L125.5 85.3 L125.9 85.5 L126.4 85.5 L126.8 85.7 L127.3 84.8 L127.7 85.2 L128.2 85.4 L128.6 84.8 L129.1 85.1 L129.5 85.5 L130 85.3 L130.4 85.1 L130.9 84.3 L131.3 84.9 L131.8 85.1 L132.2 84.9 L132.7 84.9 L133.1 85.7 L133.6 84.9 L134 84.7 L134.5 85 L134.9 84.8 L135.4 84.8 L135.8 84.9 L136.3 85.1 L136.7 84.9 L137.2 84.5 L137.6 84.8 L138.1 84.9 L138.5 84.7 L139 85.1 L139.4 85 L139.9 84.6 L140.3 84.9 L140.8 85.4 L141.2 85.3 L141.7 84.9 L142.1 85.2 L142.6 84.8 L143 84.6 L143.5 85.2 L143.9 85.1 L144.4 85.2 L144.8 85.1 L145.3 85.2 L145.7 85 L146.2 85.3 L146.6 85.4 L147.1 85.2 L147.5 85.5 L148 84.8 L148.4 85.1 L148.9 85.7 L149.3 85.8 L149.8 85.4 L150.2 85.4 L150.7 85.1 L151.1 85.5 L151.6 85.7 L152 85.1 L152.5 85.7 L152.9 85.7 L153.4 85.7 L153.8 85.3 L154.3 85.8 L154.7 85.3 L155.2 86.1 L155.6 85.7 L156.1 85.4 L156.5 86.1 L157 86.1 L157.4 85.7 L157.9 86.4 L158.3 85.6 L158.8 86 L159.2 86.2 L159.7 85.4 L160.1 86.2 L160.6 86 L161 86 L161.5 85.8 L161.9 86.2 L162.4 85.9 L162.8 85.9 L163.3 86.1 L163.7 85.9 L164.2 86.6 L164.6 85.9 L165.1 86.1 L165.5 86.3 L166 86.4 L166.4 86.6 L166.9 86.6 L167.3 86.4 L167.8 86.4 L168.2 86.5 L168.7 86.7 L169.1 86.7 L169.6 86.5 L170 86.1 L170.5 87.2 L170.9 86.9 L171.4 86.8 L171.8 86.8 L172.3 86.6 L172.7 86.5 L173.2 86.7 L173.6 86.8 L174.1 86.7 L174.5 86.5 L175 86.9 L175.4 87.1 L175.9 86.9 L176.3 87.1 L176.8 86.6 L177.2 101.6 L177.7 134 L178.1 144.8 L178.6 144.8 L179 144.8 L179.5 144.6 L179.9 144.6 L180.4 144.8 L180.8 144.7 L181.3 144.8 L181.7 144.7 L182.2 144.9 L182.6 144.7 L183.1 144.6 L183.5 144.8 L184 144.7 L184.4 144.8 L184.9 144.7 L185.3 144.7 L185.8 144.9 L186.2 144.9 L186.7 144.8 L187.1 144.9 L187.6 144.8 L188 144.8 L188.5 144.9 L188.9 144.8 L189.4 144.8 L189.8 144.8 L190.3 145 L190.7 144.7 L191.2 144.7 L191.6 144.7 L192.1 144.7 L192.5 144.8 L193 144.6 L193.4 144.5 L193.9 144.8 L194.3 144.5 L194.8 144.7 L195.2 144.7 L195.7 144.9 L196.1 144.9 L196.6 144.8 L197 144.6 L197.5 144.6 L197.9 144.6 L198.4 144.7 L198.8 144.4 L199.3 144.7 L199.7 144.7 L200.2 144.8 L200.6 144.6 L201.1 144.7 L201.5 144.6 L202 144.6 L202.4 144.5 L202.9 144.7 L203.3 144.9 L203.8 144.7 L204.2 144.7 L204.7 144.6 L205.1 144.8 L205.6 144.6 L206 144.8 L206.5 144.7 L206.9 144.5 L207.4 144.8 L207.8 144.7 L208.3 144.7 L208.7 144.7 L209.2 144.6 L209.6 144.6 L210.1 144.7 L210.5 144.6 L211 144.6 L211.4 144.6 L211.9 144.5 L212.3 144.6 L212.8 144.6 L213.2 144.6 L213.7 144.8 L214.1 144.4 L214.6 144.6 L215 144.4 L215.5 144.5 L215.9 144.6 L216.4 144.3 L216.8 144.4 L217.3 144.6 L217.7 144.6 L218.2 144.6 L218.6 144.5 L219.1 143.2 L219.5 130.9 L220 119.1 L220.4 110.8 L220.9 102.5 L221.3 95.5 L221.8 93.2 L222.2 91 L222.7 89.4 L223.1 88.2 L223.6 87.1 L224 87.2 L224.5 86.2 L224.9 85.6 L225.4 85.8 L225.8 85.3 L226.3 85 L226.7 85.3 L227.2 85 L227.6 85.1 L228.1 84.9 L228.5 84.5 L229 85 L229.4 84.7 L229.9 84.4 L230.3 84.4 L230.8 84.8 L231.2 84.5 L231.7 84.6 L232.1 84.7 L232.6 84.6 L233 84.2 L233.5 84.7 L233.9 84.8 L234.4 84.8 L234.8 85 L235.3 84.7 L235.7 84.8 L236.2 85 L236.6 84.5 L237.1 85 L237.5 85 L238 84.7 L238.4 85 L238.9 84.8 L239.3 84.3 L239.8 84.8 L240.2 84.6 L240.7 84.6 L241.1 84.6 L241.6 84.9 L242 84.7 L242.5 84.3 L242.9 84.6 L243.4 84.7 L243.8 84.3 L244.3 84.4 L244.7 84.4 L245.2 84.3 L245.6 84.6 L246.1 84.7 L246.5 85 L247 84.8 L247.4 84.7 L247.9 84.8 L248.3 84.8 L248.8 84.4 L249.2 84.6 L249.7 84.5 L250.1 84.4 L250.6 84.3 L251 84.3 L251.5 84.4 L251.9 84.1 L252.4 84.6 L252.8 84.4 L253.3 84.5 L253.7 84.5 L254.2 84.6 L254.6 84.3 L255.1 84.4 L255.5 84 L256 83.9 L256.4 83.9 L256.9 84.8 L257.3 84 L257.8 84.5 L258.2 84.8 L258.7 84.3 L259.1 84.8 L259.6 84.9 L260 84.6 L260.5 85 L260.9 84.6 L261.4 84.2 L261.8 84.6 L262.3 84.3 L262.7 84.1 L263.2 84.1 L263.6 85 L264.1 84.3 L264.5 84.5 L265 84.3 L265.4 84.5 L265.9 84.4 L266.3 84.4 L266.8 84.2 L267.2 84.1 L267.7 84.3 L268.1 84.6 L268.6 85 L269 84.8 L269.5 85 L269.9 84.7 L270.4 84.5 L270.8 84.2 L271.3 84.6 L271.7 84 L272.2 84.5 L272.6 85 L273.1 84.7 L273.5 84.9 L274 84.5 L274.4 84.3 L274.9 84.5 L275.3 84.5 L275.8 84.9 L276.2 85.1 L276.7 84.4 L277.1 84.5 L277.6 84.6 L278 84.6 L278.5 84.3 L278.9 84.7 L279.4 84.8 L279.8 84.8 L280.3 84.4 L280.7 84.7 L281.2 84.3 L281.6 84.9 L282.1 84.4 L282.5 84.6 L283 84.6 L283.4 84.6 L283.9 84.5 L284.3 84.3 L284.8 85.2 L285.2 84.8 L285.7 84.8 L286.1 85.3 L286.6 84.7 L287 84.9 L287.5 84.8 L287.9 85.1 L288.4 84.9 L288.8 84.9 L289.3 84.7 L289.7 84.9 L290.2 85.1 L290.6 84.3 L291.1 84.8 L291.5 84.7 L292 84.8 L292.4 84.4 L292.9 85 L293.3 84.7 L293.8 84.8 L294.2 84.8 L294.7 84.5 L295.1 84.8 L295.6 84.4 L296 84.7 L296.5 84.8 L296.9 84.9 L297.4 85 L297.8 84.9 L298.3 85.5 L298.7 85.1 L299.2 84.7 L299.6 84.8 L300.1 84.8 L300.5 85 L301 84.9 L301.4 84.9 L301.9 85.1 L302.3 85.2 L302.8 115.4 L303.2 145.5 L303.7 145.7 L304.1 145.5 L304.6 145.5 L305 145.5 L305.5 145.5 L305.9 145.7 L306.4 145.6 L306.8 145.6 L307.3 145.1 L307.7 145.5 L308.2 145.6 L308.6 145.7 L309.1 145.5 L309.5 145.3 L310 145.6 L310.4 145.4 L310.9 145.3 L311.3 145.4 L311.8 145.6 L312.2 145.6 L312.7 145.6 L313.1 145.4 L313.6 145.8 L314 145.3 L314.5 145.5 L314.9 145.3 L315.4 145.6 L315.8 145.5 L316.3 145.6 L316.7 145.5 L317.2 145.5 L317.6 145.5 L318.1 145.2 L318.5 145.6 L319 145.6 L319.4 145.4 L319.9 145.5 L320.3 145.5 L320.8 145.6 L321.2 145.5 L321.7 145.5 L322.1 145.4 L322.6 145.3 L323 145.4 L323.5 145.5 L323.9 145.4 L324.4 145.5 L324.8 145.5 L325.3 145.5 L325.7 145.5 L326.2 145.5 L326.6 145.5 L327.1 145.4 L327.5 145.5 L328 145.2 L328.4 145.6 L328.9 145.3 L329.3 145.5 L329.8 145.4 L330.2 145.6 L330.7 145.4 L331.1 145.3 L331.6 145.6 L332 145.5 L332.5 145.4 L332.9 145.4 L333.4 145.6 L333.8 145.5 L334.3 145.5 L334.7 145.2 L335.2 145.4 L335.6 145.4 L336.1 145.6 L336.5 145.5 L337 145.4 L337.4 145.6 L337.9 145.4 L338.3 145.4 L338.8 145.4 L339.2 145.2 L339.7 145.5 L340.1 145.5 L340.6 145.4 L341 145.3 L341.5 145.4 L341.9 145.6 L342.4 145.3 L342.8 145.3 L343.3 145.4 L343.7 136.2 L344.2 125.8 L344.6 116 L345.1 107 L345.5 98 L346 94.4 L346.4 92.4 L346.9 90.4 L347.3 88.4 L347.8 87 L348.2 85.9 L348.7 84.3 L349.1 84.1 L349.6 84.3 L350 83.9 L350.5 84 L350.9 84 L351.4 84.4 L351.8 84 L352.3 83.7 L352.7 83.5 L353.2 84 L353.6 84.3 L354.1 84.5 L354.5 84.2 L355 82.8 L355.4 83.3 L355.9 83.7 L356.3 84.1 L356.8 83.7 L357.2 84.4 L357.7 83.8 L358.1 83.5 L358.6 83.9 L359 84 L359.5 83.9 L359.9 84.1 L360.4 83.6 L360.8 83.3 L361.3 83.7 L361.7 84.1 L362.2 83.7 L362.6 84.2 L363.1 83.3 L363.5 84.2 L364 84.2 L364.4 83.9 L364.9 84 L365.3 84.2 L365.8 83.5 L366.2 83.4 L366.7 84 L367.1 84.8 L367.6 83.5 L368 83.9 L368.5 83.6 L368.9 83.8 L369.4 83.9 L369.8 84 L370.3 84.2 L370.7 83.9 L371.2 83.3 L371.6 84.3 L372.1 83.6 L372.5 84.2 L373 83.9 L373.4 84 L373.9 83.8 L374.3 84.2 L374.8 84.1 L375.2 84.3 L375.7 83.9 L376.1 84.2 L376.6 83.5 L377 84.3 L377.5 84.3 L377.9 84 L378.4 83.6 L378.8 83.7 L379.3 83.3 L379.7 83.5 L380.2 84.3 L380.6 83.4 L381.1 84.1 L381.5 83.5 L382 83.9 L382.4 84.1 L382.9 84.2 L383.3 83.8 L383.8 83.6 L384.2 83.7 L384.7 84.3 L385.1 84.5 L385.6 84.5 L386 84 L386.5 83.7 L386.9 83.3 L387.4 84.2 L387.8 84.5 L388.3 84 L388.7 84.2 L389.2 84.1 L389.6 84 L390.1 84.5 L390.5 84.5 L391 83.6 L391.4 83.8 L391.9 83.7 L392.3 84.2 L392.8 84 L393.2 84.2 L393.7 83.9 L394.1 84 L394.6 84 L395 84.4 L395.5 84.6 L395.9 84.4 L396.4 84.3 L396.8 84 L397.3 84.1 L397.7 84.7 L398.2 83.7 L398.6 84.4 L399.1 84.3 L399.5 84.4 L400 83.8 L400.4 84.5 L400.9 84.8 L401.3 84.3 L401.8 83.7 L402.2 83.9 L402.7 83.9 L403.1 84.7 L403.6 84.4 L404 85 L404.5 84.3 L404.9 83.9 L405.4 84.2 L405.8 84.3 L406.3 84.8 L406.7 84.9 L407.2 84.2 L407.6 84.5 L408.1 84.2 L408.5 84.8 L409 85.4 L409.4 84.1 L409.9 84.7 L410.3 84.7 L410.8 84 L411.2 84.4 L411.7 84.4 L412.1 84.8 L412.6 84.2 L413 84.5 L413.5 85 L413.9 85 L414.4 84.9 L414.8 84.5 L415.3 84.8 L415.7 84.5 L416.2 85.5 L416.6 85 L417.1 84.7 L417.5 84.9 L418 84.8 L418.4 84.3 L418.9 85.2 L419.3 84.8 L419.8 84.7 L420.2 85 L420.7 84.6 L421.1 85.2 L421.6 85.2 L422 85.8 L422.5 85 L422.9 84.5 L423.4 84.7 L423.8 85 L424.3 85.5 L424.7 85.3 L425.2 85.4 L425.6 85 L426.1 85.2 L426.5 85.5 L427 85.6 L427.4 85.5 L427.9 85.5 L428.3 85.4 L428.8 85.2 L429.2 85.1 L429.7 85.4 L430.1 85.6 L430.6 84.6 L431 85.2 L431.5 85.7 L431.9 85.6 L432.4 85.4 L432.8 86.1 L433.3 85.8 L433.7 85.5 L434.2 86.3 L434.6 86.6 L435.1 85.8 L435.5 86.8 L436 85.6 L436.4 86.1 L436.9 86.1 L437.3 86.7 L437.8 86.2 L438.2 86.5 L438.7 86.7 L439.1 86.8 L439.6 86.9 L440 87 L440.5 87.2 L440.9 112.2 L441.4 145.6 L441.8 145.6 L442.3 145.5 L442.7 145.7 L443.2 145.6 L443.6 145.6 L444.1 145.6 L444.5 145.6 L445 145.6 L445.4 145.5 L445.9 145.5 L446.3 145.6 L446.8 145.6 L447.2 145.4 L447.7 145.5 L448.1 145.5 L448.6 145.6 L449 145.6 L449.5 145.6 L449.9 145.5 L450.4 145.6 L450.8 145.4 L451.3 145.2 L451.7 145.5 L452.2 145.3 L452.6 145.4 L453.1 145.4 L453.5 145.6 L454 145.4 L454.4 145.6 L454.9 145.5 L455.3 145.4 L455.8 145.3 L456.2 145.6 L456.7 145.6 L457.1 145.6 L457.6 145.7 L458 145.5 L458.5 145.5 L458.9 145.5 L459.4 145.5 L459.8 145.5 L460.3 145.4 L460.7 145.7 L461.2 145.3 L461.6 145.5 L462.1 145.5 L462.5 145.5 L463 145.4 L463.4 145.5 L463.9 145.4 L464.3 145.3 L464.8 145.5 L465.2 145.4 L465.7 145.4 L466.1 145.5 L466.6 145.3 L467 145.5 L467.5 145.4 L467.9 145.5 L468.4 145.5 L468.8 145.5 L469.3 145.3 L469.7 145.4 L470.2 145.3 L470.6 145.5 L471.1 145.5 L471.5 145.6 L472 145.4 L472.4 145.4 L472.9 145.2 L473.3 145.2 L473.8 145.3 L474.2 145.3 L474.7 145.2 L475.1 145.2 L475.6 145.5 L476 145.3 L476.5 145.2 L476.9 145.7 L477.4 145.4 L477.8 145.4 L478.3 145.4 L478.7 135.2 L479.2 123.8 L479.6 113.3 L480.1 103.3 L480.5 97.1 L481 92.9 L481.4 90.2 L481.9 89.4 L482.3 88.8 L482.8 87.6 L483.2 87.8 L483.7 86.6 L484.1 86.4 L484.6 86.5 L485 86.1 L485.5 86.5 L485.9 85.4 L486.4 85.5 L486.8 85.7 L487.3 85.7 L487.7 85.8 L488.2 85.5 L488.6 86 L489.1 85.1 L489.5 85.3 L490 85.4 L490.4 85 L490.9 84.9 L491.3 84.8 L491.8 84.7 L492.2 84.5 L492.7 84.6 L493.1 84.2 L493.6 84.7 L494 84.1 L494.5 85.1 L494.9 84.9 L495.4 84.7 L495.8 84.2 L496.3 84 L496.7 84.5 L497.2 84.1 L497.6 84.2 L498.1 83.8 L498.5 84.4 L499 83.8 L499.4 84 L499.9 83.5 L500.3 83.8 L500.8 84.1 L501.2 83.8 L501.7 83.8 L502.1 84.1 L502.6 83.9 L503 84.2 L503.5 83.1 L503.9 84 L504.4 84 L504.8 83.4 L505.3 83.4 L505.7 84 L506.2 83.4 L506.6 83.6 L507.1 83.9 L507.5 83.6 L508 83.8 L508.4 83.4 L508.9 83.8 L509.3 84 L509.8 83.7 L510.2 83 L510.7 83.8 L511.1 83.6 L511.6 83.3 L512 84 L512.5 83 L512.9 84.1 L513.4 83.3 L513.8 84 L514.3 83.5 L514.7 83.1 L515.2 83.5 L515.6 83.5 L516.1 83.6 L516.5 83.7 L517 83.1 L517.4 83.5 L517.9 83.6 L518.3 83.3 L518.8 83 L519.2 83 L519.7 83.5 L520.1 83.5 L520.6 83 L521 82.9 L521.5 83.6 L521.9 82.8 L522.4 83.3 L522.8 83 L523.3 82.7 L523.7 83.3 L524.2 83.2 L524.6 83.7 L525.1 83.9 L525.5 83.2 L526 83.5 L526.4 83.5 L526.9 83 L527.3 82.9 L527.8 83.7 L528.2 83.1 L528.7 83.2 L529.1 83.1 L529.6 83.1 L530 83 L530.5 83.4 L530.9 83.5 L531.4 83 L531.8 82.7 L532.3 83.2 L532.7 82.7 L533.2 82.9 L533.6 83.5 L534.1 83.8 L534.5 83.2 L535 82.8 L535.4 83.3 L535.9 82.4 L536.3 82.9 L536.8 83.5 L537.2 83.3 L537.7 82.7 L538.1 82.6 L538.6 83.4 L539 83.2 L539.5 83 L539.9 83.4 L540.4 83.1 L540.8 82.7 L541.3 83.6 L541.7 83.1 L542.2 83.1 L542.6 83 L543.1 83.5 L543.5 83.2 L544 83.7 L544.4 83.4 L544.9 83.9 L545.3 83.5 L545.8 83.4 L546.2 83 L546.7 83.3 L547.1 83.9 L547.6 84.6 L548 83.4 L548.5 83.5 L548.9 83.9 L549.4 84 L549.8 83.7 L550.3 83.9 L550.7 83.4 L551.2 83.9 L551.6 84.2 L552.1 84.5 L552.5 84 L553 84 L553.4 84.2 L553.9 84.4 L554.3 84.3 L554.8 83.9 L555.2 84.3 L555.7 84.5 L556.1 84 L556.6 83.9 L557 84.5 L557.5 84.4 L557.9 84.7 L558.4 84.4 L558.8 84.2 L559.3 84.3 L559.7 84.2 L560.2 84.2 L560.6 84.4 L561.1 84.4 L561.5 84.9 L562 84.3 L562.4 84.6 L562.9 84.5 L563.3 85.2 L563.8 84.8 L564.2 84.7 L564.7 85.1 L565.1 84.9 L565.6 85 L566 111 L566.5 145.6 L566.9 145.6 L567.4 145.6 L567.8 145.5 L568.3 145.8 L568.7 145.7 L569.2 145.8 L569.6 145.7 L570.1 145.7 L570.5 145.6 L571 145.4 L571.4 145.7 L571.9 145.6 L572.3 145.6 L572.8 145.6 L573.2 145.5 L573.7 145.4 L574.1 145.6 L574.6 145.7 L575 145.5 L575.5 145.6 L575.9 145.7 L576.4 145.4 L576.8 145.5 L577.3 145.4 L577.7 145.7 L578.2 145.6 L578.6 145.5 L579.1 145.3 L579.5 145.5 L580 145.6 L580.4 145.5 L580.9 145.5 L581.3 145.6 L581.8 145.4 L582.2 145.5 L582.7 145.6 L583.1 145.4 L583.6 145.4 L584 145.5 L584.5 145.5 L584.9 145.5 L585.4 145.5 L585.8 145.5 L586.3 145.4 L586.7 145.4 L587.2 145.5 L587.6 145.6 L588.1 145.6 L588.5 145.4 L589 145.6 L589.4 145.6 L589.9 145.5 L590.3 145.5 L590.8 145.6 L591.2 145.7 L591.7 145.3 L592.1 145.5 L592.6 145.4 L593 145.4 L593.5 145.6 L593.9 145.5 L594.4 145.3 L594.8 145.4 L595.3 145.5 L595.7 145.3 L596.2 145.5 L596.6 145.4 L597.1 145.5 L597.5 145.5 L598 145.6 L598.4 145.4 L598.9 145.4 L599.3 145.6 L599.8 145.4 L600.2 145.4 L600.7 145.2 L601.1 145.5 L601.6 145.4 L602 145.5 L602.5 145.4 L602.9 145.4 L603.4 145.3 L603.8 145.3 L604.3 130.6 L604.7 107 L605.2 93.5 L605.6 90.8 L606.1 89.4 L606.5 88 L607 87.5 L607.4 87.1 L607.9 86.6 L608.3 86.5 L608.8 85.3 L609.2 85.2 L609.7 84.9 L610.1 85.4 L610.6 84.5 L611 84.9 L611.5 85 L611.9 84.3 L612.4 84.4 L612.8 83.4 L613.3 83.8 L613.7 83.4 L614.2 83.9 L614.6 83.8 L615.1 83.5 L615.5 83.9 L616 83.7 L616.4 83.4 L616.9 83.3 L617.3 83 L617.8 83.3 L618.2 83.9 L618.7 83 L619.1 83.3 L619.6 82.9 L620 83.3 L620.5 83.1 L620.9 82.8 L621.4 82.4 L621.8 82.7 L622.3 83.2 L622.7 82.8 L623.2 83 L623.6 82.7 L624.1 82.3 L624.5 82.9 L625 82.9 L625.4 82.6 L625.9 82.7 L626.3 82.9 L626.8 82.6 L627.2 82.9 L627.7 82.7 L628.1 82 L628.6 82.7 L629 82.5 L629.5 82.5 L629.9 82.8 L630.4 82.5 L630.8 82.8 L631.3 83 L631.7 82.7 L632.2 82.2 L632.6 82.4 L633.1 82.9 L633.5 82.5 L634 82.4 L634.4 82.6 L634.9 82.7 L635.3 82.7 L635.8 82.8 L636.2 82.3 L636.7 82.5 L637.1 82.5 L637.6 82.5 L638 81.9 L638.5 82.4 L638.9 82.1 L639.4 82.9 L639.8 82.9 L640.3 83 L640.7 82.7 L641.2 82.3 L641.6 82.7 L642.1 82.4 L642.5 82.6 L643 82.1 L643.4 82.2 L643.9 82.5 L644.3 82.9 L644.8 82.4 L645.2 83 L645.7 83.2 L646.1 82 L646.6 82.3 L647 82 L647.5 82.3" stroke="#ff3cff" stroke-width="1.1"/>
</g>
<g fill="none" stroke-linejoin="round">
<path d="M38 293.9 L38.5 293.2 L39 292.7 L39.5 292 L40 291.6 L40.5 291.2 L41 290.9 L41.5 290.6 L42 290.2 L42.5 290.6 L43 290.3 L43.5 290.4 L44 290 L44.5 290.4 L45 289.9 L45.5 289.8 L46 289.9 L46.5 290 L47 290 L47.5 289.6 L48 290 L48.5 290 L49 289.9 L49.5 290 L50 289.8 L50.5 289.7 L51 289.6 L51.5 289.8 L52 289.8 L52.5 289.6 L53 289.7 L53.5 289.7 L54 289.5 L54.5 289.2 L55 289 L55.5 289.3 L56 289.4 L56.5 289.3 L57 289.1 L57.5 289.2 L58 289.3 L58.5 289.8 L59 289.4 L59.5 289.2 L60 289.4 L60.5 289.5 L61 289.6 L61.5 289.2 L62 289.2 L62.5 288.6 L63 288.5 L63.5 288.9 L64 289.2 L64.5 288.8 L65 288.8 L65.5 288.6 L66 288.9 L66.5 289 L67 288.6 L67.5 288.6 L68 288.4 L68.5 288.7 L69 288.4 L69.5 288 L70 288.3 L70.5 288 L71 288.3 L71.5 287.9 L72 288 L72.5 288.1 L73 288.3 L73.5 288.2 L74 288.3 L74.5 287.9 L75 287.9 L75.5 288 L76 288.3 L76.5 288.2 L77 288.1 L77.5 288.1 L78 287.8 L78.5 288 L79 287.7 L79.5 287.8 L80 287.8 L80.5 287.8 L81 287.9 L81.5 288.1 L82 287.8 L82.5 288 L83 288 L83.5 288.1 L84 287.8 L84.5 288 L85 287.9 L85.5 287.4 L86 287.6 L86.5 287.6 L87 287.5 L87.5 287.2 L88 287.5 L88.5 287.6 L89 287.9 L89.5 287.5 L90 286.9 L90.5 287.7 L91 288 L91.5 287.6 L92 287.3 L92.5 287.6 L93 287.8 L93.5 287.5 L94 287.5 L94.5 287.5 L95 287 L95.5 287.3 L96 287.3 L96.5 287.2 L97 287 L97.5 286.9 L98 287.2 L98.5 287.2 L99 287.2 L99.5 287.4 L100 287.4 L100.5 286.8 L101 286.3 L101.5 286.8 L102 287.2 L102.5 286.8 L103 286.4 L103.5 286.6 L104 286.5 L104.5 286.8 L105 286.4 L105.5 286.4 L106 286.6 L106.5 286.8 L107 287.2 L107.5 286.8 L108 286.6 L108.5 286.1 L109 286.2 L109.5 286 L110 271.8 L110.5 257.7 L111 240.5 L111.5 229.4 L112 222.6 L112.5 215.6 L113 211.6 L113.5 209.6 L114 207.6 L114.5 205.5 L115 203.5 L115.5 202.5 L116 201.8 L116.5 201.1 L117 200 L117.5 203.7 L118 207.6 L118.5 212.9 L119 218.5 L119.5 224 L120 229.4 L120.5 234.9 L121 241.6 L121.5 248.5 L122 255.3 L122.5 258.5 L123 261.5 L123.5 264.5 L124 267.5 L124.5 270.5 L125 272.5 L125.5 274.1 L126 275.9 L126.5 277.8 L127 279.4 L127.5 281.1 L128 282.6 L128.5 283 L129 283.4 L129.5 283.8 L130 284.3 L130.5 284.6 L131 284.8 L131.5 285.2 L132 285.7 L132.5 285.9 L133 285.7 L133.5 285.8 L134 286 L134.5 286.1 L135 286.1 L135.5 286.2 L136 286.4 L136.5 286.6 L137 286.7 L137.5 285.9 L138 286 L138.5 286.3 L139 286.6 L139.5 286.8 L140 287 L140.5 287.2 L141 287.4 L141.5 287.5 L142 287.6 L142.5 287.7 L143 287.8 L143.5 287.8 L144 287.4 L144.5 286.6 L145 286 L145.5 286.1 L146 286.3 L146.5 286.4 L147 286.5 L147.5 286.4 L148 286.4 L148.5 286.5 L149 286.5 L149.5 286.5 L150 286.6 L150.5 286.8 L151 287 L151.5 286.8 L152 286 L152.5 285.3 L153 285.3 L153.5 285.3 L154 285.3 L154.5 285.4 L155 285.6 L155.5 285.7 L156 285.6 L156.5 285.7 L157 285.8 L157.5 285.8 L158 285.8 L158.5 285.9 L159 285.6 L159.5 285 L160 284.5 L160.5 284.3 L161 284.4 L161.5 284.8 L162 284.8 L162.5 284.7 L163 284.6 L163.5 284.5 L164 284.6 L164.5 284.7 L165 284.8 L165.5 284.9 L166 285.1 L166.5 284.7 L167 284 L167.5 283.6 L168 283.6 L168.5 283.6 L169 283.8 L169.5 284.1 L170 284.1 L170.5 284.1 L171 284.1 L171.5 284.2 L172 284.1 L172.5 284 L173 284.1 L173.5 284.3 L174 284 L174.5 283.5 L175 283.3 L175.5 283.2 L176 283.2 L176.5 283.3 L177 283.4 L177.5 283.3 L178 283.3 L178.5 283.5 L179 283.5 L179.5 283.5 L180 283.6 L180.5 283.8 L181 284 L181.5 283.4 L182 282.5 L182.5 282.4 L183 282.6 L183.5 282.6 L184 282.9 L184.5 283.1 L185 283 L185.5 282.8 L186 282.8 L186.5 282.9 L187 283.2 L187.5 283.4 L188 283.5 L188.5 283.6 L189 283 L189.5 282.2 L190 282 L190.5 282 L191 282.2 L191.5 282.3 L192 282.5 L192.5 282.8 L193 282.9 L193.5 282.9 L194 283.1 L194.5 283.2 L195 283.4 L195.5 283.6 L196 283.8 L196.5 283 L197 282.2 L197.5 282.1 L198 282.2 L198.5 282.4 L199 282.6 L199.5 282.7 L200 282.9 L200.5 283 L201 283 L201.5 283.2 L202 283.5 L202.5 283.6 L203 283.7 L203.5 283.9 L204 283.2 L204.5 282.4 L205 282.5 L205.5 282.6 L206 282.8 L206.5 282.9 L207 282.9 L207.5 283 L208 283.1 L208.5 283.3 L209 283.5 L209.5 283.6 L210 283.9 L210.5 284 L211 283.9 L211.5 283.3 L212 282.6 L212.5 282.7 L213 282.8 L213.5 282.9 L214 283.1 L214.5 283.4 L215 283.6 L215.5 283.8 L216 283.8 L216.5 287.8 L217 296.9 L217.5 306.1 L218 310.3 L218.5 309.1 L219 309.6 L219.5 308.6 L220 310.6 L220.5 308.7 L221 308.8 L221.5 308.7 L222 310.1 L222.5 309.4 L223 309.6 L223.5 309.1 L224 309.5 L224.5 311.1 L225 310.1 L225.5 311 L226 307.8 L226.5 306.9 L227 305.2 L227.5 305.8 L228 305.1 L228.5 300.3 L229 301.9 L229.5 299 L230 297 L230.5 295.7 L231 295.8 L231.5 295.4 L232 294.5 L232.5 293.9 L233 293.5 L233.5 293.3 L234 292 L234.5 291.8 L235 291.3 L235.5 290.4 L236 290.1 L236.5 290 L237 289.4 L237.5 290 L238 290.6 L238.5 290.9 L239 289.7 L239.5 289.1 L240 289.2 L240.5 289.3 L241 289.1 L241.5 289.2 L242 289.6 L242.5 289.2 L243 288.5 L243.5 288.4 L244 289.1 L244.5 289.2 L245 289.1 L245.5 288.5 L246 288.4 L246.5 289 L247 288.3 L247.5 288.9 L248 288.8 L248.5 289 L249 289 L249.5 289 L250 288.8 L250.5 288.9 L251 288.9 L251.5 289.1 L252 288.6 L252.5 288.6 L253 289.1 L253.5 289 L254 288.9 L254.5 288.9 L255 288.7 L255.5 288.9 L256 288.9 L256.5 288.8 L257 288.6 L257.5 289 L258 288.5 L258.5 288.5 L259 288.9 L259.5 288.5 L260 288.9 L260.5 288.7 L261 288.5 L261.5 288.5 L262 288.1 L262.5 288.3 L263 288.2 L263.5 288.4 L264 288.5 L264.5 289.1 L265 288.8 L265.5 288.5 L266 288.3 L266.5 288.3 L267 288.3 L267.5 288.3 L268 288 L268.5 288.1 L269 288.5 L269.5 288.5 L270 288.1 L270.5 287.7 L271 288.4 L271.5 288.5 L272 288.8 L272.5 288.6 L273 288 L273.5 287.7 L274 288.4 L274.5 288.1 L275 288.6 L275.5 288.9 L276 289.4 L276.5 289.7 L277 287.9 L277.5 283.4 L278 279.1 L278.5 274.8 L279 270.2 L279.5 265.5 L280 264.2 L280.5 262.9 L281 261.7 L281.5 260.5 L282 259.2 L282.5 259 L283 260.4 L283.5 261.9 L284 263.6 L284.5 265.3 L285 266.7 L285.5 268.1 L286 269.6 L286.5 271.3 L287 272.3 L287.5 273.2 L288 274.1 L288.5 275 L289 276 L289.5 277.1 L290 278 L290.5 278.9 L291 280.1 L291.5 281.3 L292 282.1 L292.5 282.5 L293 282.9 L293.5 283.3 L294 283.7 L294.5 284.1 L295 284.1 L295.5 284.7 L296 285.2 L296.5 285.7 L297 286.2 L297.5 286.5 L298 286.6 L298.5 286.8 L299 287.1 L299.5 287.2 L300 287.2 L300.5 287.1 L301 286.3 L301.5 285.4 L302 285.4 L302.5 285.6 L303 285.7 L303.5 285.7 L304 285.7 L304.5 285.9 L305 286 L305.5 286.2 L306 286.2 L306.5 286.1 L307 286.2 L307.5 286.1 L308 285.2 L308.5 284.5 L309 284.7 L309.5 284.9 L310 285 L310.5 285 L311 285.1 L311.5 285.3 L312 285.3 L312.5 285.2 L313 285.2 L313.5 285.4 L314 285.6 L314.5 285.2 L315 284.3 L315.5 283.9 L316 284.1 L316.5 284.2 L317 284.3 L317.5 284.2 L318 284.2 L318.5 284.4 L319 284.7 L319.5 284.8 L320 284.6 L320.5 284.6 L321 284.8 L321.5 284.3 L322 283.4 L322.5 283.1 L323 283.3 L323.5 283.4 L324 283.5 L324.5 283.6 L325 283.6 L325.5 283.7 L326 283.9 L326.5 283.9 L327 284 L327.5 284 L328 284 L328.5 283.5 L329 282.8 L329.5 282.5 L330 282.7 L330.5 283 L331 283 L331.5 282.9 L332 283 L332.5 283.4 L333 283.7 L333.5 283.8 L334 283.8 L334.5 283.9 L335 284 L335.5 283.2 L336 282.4 L336.5 282.5 L337 282.8 L337.5 283 L338 283 L338.5 283 L339 283.2 L339.5 283.4 L340 283.6 L340.5 283.8 L341 283.9 L341.5 283.8 L342 283.7 L342.5 283.1 L343 282.6 L343.5 282.7 L344 282.8 L344.5 283 L345 283.3 L345.5 283.5 L346 283.5 L346.5 283.5 L347 283.6 L347.5 283.7 L348 284 L348.5 284.2 L349 283.8 L349.5 283.1 L350 282.8 L350.5 283 L351 283 L351.5 283 L352 283.1 L352.5 283.1 L353 283.4 L353.5 283.8 L354 284 L354.5 284 L355 284.1 L355.5 284.4 L356 284 L356.5 283.3 L357 283.1 L357.5 283.2 L358 283.2 L358.5 283.3 L359 283.7 L359.5 284 L360 284.1 L360.5 284.1 L361 284.3 L361.5 284.4 L362 284.5 L362.5 284.6 L363 284.1 L363.5 283.5 L364 283.6 L364.5 283.7 L365 283.7 L365.5 283.8 L366 283.9 L366.5 284 L367 284.2 L367.5 284.5 L368 284.6 L368.5 284.8 L369 285 L369.5 285.1 L370 284.2 L370.5 283.5 L371 283.8 L371.5 283.9 L372 284.1 L372.5 284.2 L373 284.4 L373.5 284.6 L374 284.7 L374.5 284.8 L375 284.8 L375.5 285.5 L376 286.7 L376.5 289.4 L377 292.9 L377.5 296.5 L378 301.5 L378.5 304.7 L379 307.9 L379.5 307.3 L380 307.7 L380.5 308.5 L381 309.4 L381.5 307.3 L382 310.7 L382.5 309.4 L383 310.3 L383.5 310.1 L384 306.9 L384.5 309.6 L385 310.4 L385.5 310.8 L386 307 L386.5 307.9 L387 307.4 L387.5 305.1 L388 304.5 L388.5 303.3 L389 303 L389.5 301.6 L390 298.5 L390.5 299.1 L391 298.8 L391.5 296.6 L392 294.5 L392.5 294.2 L393 294.8 L393.5 295.2 L394 294.5 L394.5 294.3 L395 293.7 L395.5 293.5 L396 292.9 L396.5 293.1 L397 292.4 L397.5 292.2 L398 291.6 L398.5 291.4 L399 290.7 L399.5 290.5 L400 290.6 L400.5 290.2 L401 290.4 L401.5 290.4 L402 290.4 L402.5 289.8 L403 290.5 L403.5 291.1 L404 290.3 L404.5 290.1 L405 289.7 L405.5 289.8 L406 289.4 L406.5 290 L407 290.3 L407.5 290.2 L408 289.8 L408.5 289 L409 289.3 L409.5 289.5 L410 289.3 L410.5 289.4 L411 290.1 L411.5 289.7 L412 289.3 L412.5 289.4 L413 289.7 L413.5 289.4 L414 289.6 L414.5 289.1 L415 289.1 L415.5 288.6 L416 288.6 L416.5 289.1 L417 289.4 L417.5 289.3 L418 289 L418.5 288.8 L419 288.7 L419.5 288.7 L420 288.5 L420.5 288.6 L421 288.7 L421.5 288.9 L422 288.6 L422.5 288 L423 288.1 L423.5 288.2 L424 288.2 L424.5 288.3 L425 287.7 L425.5 287.8 L426 287.4 L426.5 288 L427 288.4 L427.5 287.8 L428 287.7 L428.5 288.1 L429 287.7 L429.5 287.5 L430 284.5 L430.5 279.3 L431 273.9 L431.5 268.5 L432 268.3 L432.5 268.2 L433 268.2 L433.5 268.1 L434 267.9 L434.5 268 L435 268.1 L435.5 268.1 L436 268.2 L436.5 268.5 L437 268.6 L437.5 268.5 L438 268.6 L438.5 269.8 L439 271.2 L439.5 272.4 L440 273.8 L440.5 275.1 L441 276.2 L441.5 277.3 L442 278.5 L442.5 279.8 L443 281.1 L443.5 281.8 L444 282.2 L444.5 282.6 L445 283.1 L445.5 283.6 L446 284 L446.5 284.5 L447 285 L447.5 285.6 L448 286.2 L448.5 286.5 L449 285.6 L449.5 285.6 L450 285.8 L450.5 286 L451 286.1 L451.5 286.2 L452 286.3 L452.5 286.3 L453 286.3 L453.5 286.3 L454 286.4 L454.5 286.4 L455 285.5 L455.5 284.8 L456 284.9 L456.5 284.9 L457 285.1 L457.5 285.3 L458 285.4 L458.5 285.5 L459 285.6 L459.5 285.5 L460 285.5 L460.5 285.6 L461 285.6 L461.5 285 L462 284.4 L462.5 284.3 L463 284.3 L463.5 284.5 L464 284.6 L464.5 284.7 L465 284.7 L465.5 284.8 L466 284.9 L466.5 284.9 L467 285.1 L467.5 285.2 L468 285.1 L468.5 284.3 L469 283.4 L469.5 283.5 L470 283.7 L470.5 283.6 L471 283.6 L471.5 283.7 L472 283.9 L472.5 284 L473 284.2 L473.5 284.3 L474 284.5 L474.5 284.4 L475 283.9 L475.5 283.2 L476 282.9 L476.5 283 L477 283.2 L477.5 283.2 L478 283.3 L478.5 283.4 L479 283.5 L479.5 283.8 L480 284.1 L480.5 284.3 L481 284.4 L481.5 284.5 L482 283.8 L482.5 283 L483 283 L483.5 283.3 L484 283.5 L484.5 283.7 L485 283.8 L485.5 284 L486 284 L486.5 284.2 L487 284.3 L487.5 284.3 L488 284.5 L488.5 284.7 L489 284.2 L489.5 283.5 L490 283.6 L490.5 283.9 L491 284 L491.5 284 L492 284.2 L492.5 284.5 L493 284.6 L493.5 284.7 L494 284.8 L494.5 284.9 L495 285.1 L495.5 284.7 L496 284 L496.5 283.8 L497 283.9 L497.5 284.2 L498 284.3 L498.5 284.4 L499 284.6 L499.5 284.7 L500 284.9 L500.5 285.1 L501 285.3 L501.5 285.5 L502 285.5 L502.5 284.7 L503 284.1 L503.5 284.3 L504 284.4 L504.5 284.7 L505 284.9 L505.5 285.1 L506 285.2 L506.5 285.4 L507 285.4 L507.5 285.6 L508 285.9 L508.5 286.1 L509 285.9 L509.5 285.1 L510 284.8 L510.5 284.8 L511 285 L511.5 285.3 L512 285.6 L512.5 285.7 L513 285.8 L513.5 285.8 L514 286.1 L514.5 286.5 L515 286.7 L515.5 286.9 L516 286.2 L516.5 285.4 L517 285.3 L517.5 285.5 L518 285.8 L518.5 286 L519 286.1 L519.5 286.2 L520 286.4 L520.5 286.6 L521 286.8 L521.5 286.9 L522 287 L522.5 286.9 L523 286.2 L523.5 285.6 L524 285.8 L524.5 285.9 L525 286.4 L525.5 286.6 L526 286.6 L526.5 286.7 L527 286.9 L527.5 287 L528 287.1 L528.5 287.2 L529 287.3 L529.5 286.9 L530 286.2 L530.5 286.1 L531 286.2 L531.5 286.5 L532 286.8 L532.5 287 L533 287 L533.5 287.1 L534 287.3 L534.5 287.4 L535 287.5 L535.5 288 L536 287.7 L536.5 288.2 L537 296.6 L537.5 304.9 L538 304.2 L538.5 305 L539 305 L539.5 306 L540 306.5 L540.5 305.5 L541 306.5 L541.5 307.5 L542 305.4 L542.5 305 L543 306.4 L543.5 307.4 L544 306.8 L544.5 306.8 L545 307.3 L545.5 306.8 L546 305.9 L546.5 305.2 L547 306.5 L547.5 304.3 L548 303.4 L548.5 303.9 L549 302.3 L549.5 301.3 L550 299.2 L550.5 299.7 L551 299.6 L551.5 296.6 L552 295.1 L552.5 295.4 L553 295.5 L553.5 293.9 L554 292.5 L554.5 292.1 L555 291.2 L555.5 291.2 L556 291.3 L556.5 291 L557 290.4 L557.5 290 L558 290.3 L558.5 290.1 L559 290.1 L559.5 289.5 L560 288.4 L560.5 288.9 L561 288.7 L561.5 288.4 L562 288.6 L562.5 288.6 L563 288.5 L563.5 288.4 L564 288.5 L564.5 288 L565 287.8 L565.5 288.3 L566 287.7 L566.5 287.8 L567 288.1 L567.5 288.4 L568 288.4 L568.5 288.1 L569 287.8 L569.5 287.7 L570 288.2 L570.5 287.9 L571 287.7 L571.5 288 L572 287.3 L572.5 288.1 L573 287.9 L573.5 287.7 L574 287.4 L574.5 287.2 L575 287.4 L575.5 287.6 L576 287.6 L576.5 287.4 L577 287.1 L577.5 287.2 L578 287.3 L578.5 286.8 L579 287.1 L579.5 287.2 L580 287.1 L580.5 286.9 L581 287 L581.5 286.8 L582 287 L582.5 286.6 L583 286.5 L583.5 286.4 L584 285.9 L584.5 286.3 L585 286.3 L585.5 286.1 L586 286.6 L586.5 285.8 L587 286.4 L587.5 286.3 L588 286.6 L588.5 286.4 L589 285.8 L589.5 285.8 L590 285.5 L590.5 284.9 L591 280.9 L591.5 277 L592 273 L592.5 272 L593 272 L593.5 271.8 L594 271.6 L594.5 271.5 L595 271.1 L595.5 270.8 L596 270.8 L596.5 270.6 L597 270.4 L597.5 270.4 L598 270.6 L598.5 270.8 L599 271 L599.5 271.3 L600 271.6 L600.5 272.2 L601 272.7 L601.5 273.2 L602 274 L602.5 275.2 L603 276.2 L603.5 277.3 L604 278.6 L604.5 279.7 L605 280.8 L605.5 281.9 L606 283.1 L606.5 284.2 L607 285.3 L607.5 286.3 L608 286.5 L608.5 286.6 L609 286.2 L609.5 286.6 L610 286.9 L610.5 287.1 L611 287.3 L611.5 287.4 L612 287.5 L612.5 287.9 L613 288.2 L613.5 288.3 L614 288.4 L614.5 288.1 L615 287.2 L615.5 286.8 L616 287 L616.5 287.2 L617 287.3 L617.5 287.2 L618 287.2 L618.5 287.4 L619 287.6 L619.5 287.7 L620 287.7 L620.5 287.6 L621 287.4 L621.5 286.7 L622 286.3 L622.5 286.4 L623 286.6 L623.5 286.6 L624 286.5 L624.5 286.6 L625 286.6 L625.5 286.8 L626 287.1 L626.5 287.2 L627 287.1 L627.5 287 L628 286.3 L628.5 285.7 L629 285.8 L629.5 285.9 L630 286 L630.5 286 L631 286.1 L631.5 286.2 L632 286.2 L632.5 286.4 L633 286.5 L633.5 286.5 L634 286.5 L634.5 285.5 L635 284.7 L635.5 284.9 L636 285.2 L636.5 285.4 L637 285.4 L637.5 285.4 L638 285.6 L638.5 285.8 L639 285.7 L639.5 285.7 L640 285.9 L640.5 286 L641 285.1 L641.5 284.4 L642 284.6 L642.5 284.6 L643 284.6 L643.5 284.7 L644 284.9 L644.5 285 L645 284.9 L645.5 285 L646 285.1 L646.5 285.2 L647 285.1 L647.5 284.2" stroke="#9b4cff" stroke-width="1.4"/>
<path d="M38 293.8 L38.5 293.1 L39 292.2 L39.5 292.3 L40 292.2 L40.5 292.2 L41 292 L41.5 291 L42 291.2 L42.5 290.9 L43 291.1 L43.5 290.7 L44 290.8 L44.5 291.4 L45 290.5 L45.5 290.9 L46 290.4 L46.5 290.3 L47 290.3 L47.5 290.5 L48 291 L48.5 291.3 L49 290.1 L49.5 289.9 L50 291.1 L50.5 290.9 L51 290.8 L51.5 290.3 L52 290.1 L52.5 290.7 L53 290.9 L53.5 290.2 L54 290.6 L54.5 290.1 L55 290.7 L55.5 291.1 L56 290.1 L56.5 290.4 L57 289.8 L57.5 291 L58 291 L58.5 291.1 L59 290.8 L59.5 291.3 L60 290.6 L60.5 289.9 L61 290.4 L61.5 290.4 L62 289.8 L62.5 290.3 L63 289.8 L63.5 290.1 L64 290.1 L64.5 289.9 L65 291.1 L65.5 290.5 L66 290.2 L66.5 289.8 L67 289.5 L67.5 289.5 L68 290.2 L68.5 290.5 L69 290.2 L69.5 290.4 L70 290.4 L70.5 290 L71 289.9 L71.5 290.6 L72 289.6 L72.5 289.6 L73 290.1 L73.5 289.4 L74 289.9 L74.5 289.7 L75 290.8 L75.5 289.9 L76 290.2 L76.5 289.8 L77 290 L77.5 290 L78 290.1 L78.5 290.2 L79 289.4 L79.5 290.2 L80 290.1 L80.5 290.5 L81 289.9 L81.5 290.1 L82 289.1 L82.5 289.6 L83 289.6 L83.5 289.3 L84 289.4 L84.5 289.6 L85 289.7 L85.5 290.2 L86 290 L86.5 290 L87 290.5 L87.5 290 L88 289.9 L88.5 289.7 L89 289.8 L89.5 290.1 L90 290.1 L90.5 290.6 L91 290 L91.5 289.7 L92 289.9 L92.5 290.3 L93 290.2 L93.5 289.7 L94 290.4 L94.5 290.3 L95 290.2 L95.5 289.9 L96 290 L96.5 290.6 L97 290.5 L97.5 289.3 L98 290 L98.5 290.3 L99 290.2 L99.5 289.6 L100 289.6 L100.5 288.7 L101 289.4 L101.5 290.5 L102 289.2 L102.5 289 L103 289.4 L103.5 289.1 L104 288.8 L104.5 289.8 L105 289.3 L105.5 289.3 L106 289.4 L106.5 288.9 L107 290.5 L107.5 289.1 L108 289.3 L108.5 288.4 L109 288.9 L109.5 288.9 L110 274.9 L110.5 257.7 L111 241.1 L111.5 224.5 L112 204 L112.5 191.1 L113 190.3 L113.5 189.2 L114 188.1 L114.5 187.1 L115 185.8 L115.5 183.9 L116 182.1 L116.5 184.4 L117 186.7 L117.5 196 L118 214.5 L118.5 222.8 L119 226.7 L119.5 230 L120 233.2 L120.5 236 L121 238.7 L121.5 242 L122 246.8 L122.5 251.9 L123 256 L123.5 259.6 L124 262.1 L124.5 264.7 L125 266.7 L125.5 268.4 L126 269.8 L126.5 271.2 L127 272.7 L127.5 274 L128 275.1 L128.5 275.7 L129 276.2 L129.5 276.7 L130 277 L130.5 277.2 L131 277.5 L131.5 277.6 L132 277.7 L132.5 278 L133 278.3 L133.5 278.4 L134 278.1 L134.5 277.8 L135 277.7 L135.5 277.6 L136 277.3 L136.5 277 L137 276.6 L137.5 275.6 L138 275.6 L138.5 275.4 L139 275.3 L139.5 275.3 L140 275.4 L140.5 275.4 L141 275.4 L141.5 275.4 L142 275.2 L142.5 274.9 L143 274.7 L143.5 274.6 L144 274.2 L144.5 273 L145 272.1 L145.5 272 L146 271.7 L146.5 271.6 L147 271.7 L147.5 271.8 L148 271.6 L148.5 271.5 L149 271.3 L149.5 271.3 L150 271.2 L150.5 271 L151 271 L151.5 270.5 L152 269.4 L152.5 268.6 L153 268.6 L153.5 268.7 L154 268.8 L154.5 268.8 L155 268.8 L155.5 268.7 L156 268.4 L156.5 268.5 L157 268.8 L157.5 268.7 L158 268.5 L158.5 268.5 L159 267.8 L159.5 266.9 L160 266.3 L160.5 266.5 L161 266.6 L161.5 266.6 L162 266.5 L162.5 266.2 L163 266.2 L163.5 266.4 L164 266.5 L164.5 266.2 L165 266.2 L165.5 266.5 L166 266.6 L166.5 265.9 L167 265 L167.5 264.6 L168 264.9 L168.5 265.1 L169 265 L169.5 265 L170 265.1 L170.5 265.1 L171 265.1 L171.5 265.1 L172 265.2 L172.5 265.4 L173 265.5 L173.5 265.6 L174 264.9 L174.5 264.1 L175 263.9 L175.5 264.2 L176 264.3 L176.5 264.3 L177 264.7 L177.5 265.2 L178 265.4 L178.5 265.5 L179 265.8 L179.5 266.1 L180 266.3 L180.5 266.5 L181 266.9 L181.5 266.6 L182 266 L182.5 265.7 L183 266 L183.5 266.3 L184 266.5 L184.5 266.6 L185 267 L185.5 267.4 L186 267.6 L186.5 267.7 L187 267.8 L187.5 268 L188 268.3 L188.5 268.4 L189 267.6 L189.5 266.7 L190 266.6 L190.5 266.6 L191 266.7 L191.5 267.1 L192 267.5 L192.5 267.5 L193 267.7 L193.5 267.9 L194 268.1 L194.5 268.2 L195 268.4 L195.5 268.7 L196 268.8 L196.5 268 L197 267.3 L197.5 267.4 L198 267.8 L198.5 268.3 L199 268.5 L199.5 268.6 L200 268.7 L200.5 269 L201 269.3 L201.5 269.5 L202 269.6 L202.5 269.7 L203 270.1 L203.5 270.3 L204 269.7 L204.5 269 L205 268.9 L205.5 269 L206 269.3 L206.5 269.5 L207 269.7 L207.5 269.9 L208 270.1 L208.5 270.2 L209 270.6 L209.5 270.8 L210 270.8 L210.5 270.9 L211 271 L211.5 270.1 L212 269.2 L212.5 269.5 L213 269.8 L213.5 269.9 L214 270.1 L214.5 270.3 L215 270.4 L215.5 270.8 L216 271.1 L216.5 276.2 L217 300.1 L217.5 306.8 L218 311.5 L218.5 315 L219 316.6 L219.5 316.7 L220 315.3 L220.5 315.3 L221 317.8 L221.5 315.1 L222 317.7 L222.5 315.2 L223 316 L223.5 315.9 L224 312.5 L224.5 314.6 L225 313.8 L225.5 316.4 L226 312.3 L226.5 313 L227 309.2 L227.5 308 L228 306.7 L228.5 304.7 L229 305 L229.5 299.8 L230 301.8 L230.5 299.5 L231 295.1 L231.5 294.5 L232 292.9 L232.5 292.3 L233 292.3 L233.5 292.6 L234 291 L234.5 290.8 L235 289.9 L235.5 290.7 L236 290.1 L236.5 291.5 L237 291.2 L237.5 290.2 L238 290.3 L238.5 289.4 L239 289.4 L239.5 289.9 L240 289.5 L240.5 290.6 L241 291 L241.5 289.7 L242 290.1 L242.5 290.5 L243 290.1 L243.5 289.5 L244 289.4 L244.5 288.3 L245 288.7 L245.5 289 L246 289.8 L246.5 289.9 L247 289.3 L247.5 289.5 L248 289.7 L248.5 289.2 L249 289.2 L249.5 289.6 L250 288.8 L250.5 290.3 L251 289.7 L251.5 289.4 L252 290.4 L252.5 289.2 L253 290.9 L253.5 290.5 L254 289.7 L254.5 289.9 L255 289.6 L255.5 289.3 L256 290.4 L256.5 290.5 L257 290.5 L257.5 290.5 L258 289.7 L258.5 290.5 L259 290.6 L259.5 290.3 L260 290.6 L260.5 290.4 L261 290.2 L261.5 290.3 L262 290.2 L262.5 290.5 L263 290.5 L263.5 291.6 L264 290.7 L264.5 290.5 L265 290.8 L265.5 290.7 L266 290.7 L266.5 290.5 L267 290.8 L267.5 290.3 L268 291.5 L268.5 290.4 L269 290.3 L269.5 291.3 L270 291.6 L270.5 291.4 L271 290.9 L271.5 291.3 L272 291.8 L272.5 291.3 L273 291.2 L273.5 290.7 L274 290 L274.5 282.9 L275 276 L275.5 268.4 L276 256.4 L276.5 244.1 L277 236.4 L277.5 235.7 L278 234.7 L278.5 233.9 L279 234 L279.5 234.5 L280 234.8 L280.5 235.2 L281 235.7 L281.5 236.8 L282 237.6 L282.5 240.7 L283 247.1 L283.5 253.4 L284 256.3 L284.5 258.2 L285 260 L285.5 261.9 L286 263.8 L286.5 265.5 L287 266 L287.5 266.6 L288 267.4 L288.5 268 L289 268.5 L289.5 268.8 L290 269.2 L290.5 269.9 L291 270.6 L291.5 271.3 L292 271.8 L292.5 271.9 L293 272 L293.5 271.9 L294 271.8 L294.5 271.9 L295 271.2 L295.5 271.4 L296 271.6 L296.5 271.9 L297 272.2 L297.5 272.4 L298 272.6 L298.5 272.9 L299 273.1 L299.5 273.2 L300 273.3 L300.5 273.4 L301 272.7 L301.5 272 L302 272.2 L302.5 272.5 L303 272.6 L303.5 272.6 L304 272.8 L304.5 273 L305 273.3 L305.5 273.4 L306 273.3 L306.5 273.2 L307 273.4 L307.5 273.5 L308 272.4 L308.5 271.6 L309 271.9 L309.5 272 L310 272.2 L310.5 272.5 L311 272.5 L311.5 272.6 L312 272.4 L312.5 272.5 L313 272.8 L313.5 273 L314 273.2 L314.5 272.9 L315 271.9 L315.5 271.4 L316 271.8 L316.5 272.2 L317 272.5 L317.5 272.9 L318 272.9 L318.5 273 L319 273.2 L319.5 273.5 L320 273.7 L320.5 273.9 L321 274.1 L321.5 273.5 L322 272.8 L322.5 272.7 L323 272.9 L323.5 272.9 L324 273.2 L324.5 273.6 L325 273.5 L325.5 273.5 L326 273.9 L326.5 274 L327 273.7 L327.5 273.5 L328 273.5 L328.5 272.7 L329 271.6 L329.5 271.5 L330 271.7 L330.5 271.9 L331 272.2 L331.5 272.3 L332 272.4 L332.5 272.8 L333 273 L333.5 273.1 L334 273.3 L334.5 273.6 L335 273.7 L335.5 272.9 L336 272.2 L336.5 272.4 L337 272.5 L337.5 272.6 L338 272.8 L338.5 273.1 L339 273.4 L339.5 273.7 L340 273.8 L340.5 273.9 L341 274.1 L341.5 274.3 L342 274.2 L342.5 273.4 L343 272.8 L343.5 273 L344 273.3 L344.5 273.5 L345 273.8 L345.5 273.9 L346 274.3 L346.5 274.6 L347 274.7 L347.5 274.8 L348 274.9 L348.5 275 L349 274.7 L349.5 273.9 L350 273.6 L350.5 273.7 L351 273.8 L351.5 274.1 L352 274.5 L352.5 274.7 L353 274.7 L353.5 275.2 L354 275.7 L354.5 275.9 L355 275.8 L355.5 275.7 L356 275.4 L356.5 274.9 L357 274.8 L357.5 275 L358 275.3 L358.5 275.5 L359 275.6 L359.5 275.8 L360 276.2 L360.5 276.4 L361 276.5 L361.5 276.9 L362 277.2 L362.5 277.3 L363 276.5 L363.5 275.8 L364 275.8 L364.5 275.9 L365 276.1 L365.5 276.4 L366 276.6 L366.5 276.8 L367 277 L367.5 277.4 L368 277.8 L368.5 278 L369 278.1 L369.5 278.1 L370 277.2 L370.5 276.6 L371 277 L371.5 277.5 L372 277.9 L372.5 277.9 L373 277.7 L373.5 277.8 L374 278.1 L374.5 278.5 L375 278.9 L375.5 280.4 L376 282.9 L376.5 287.2 L377 292.4 L377.5 297.4 L378 304.4 L378.5 307.5 L379 311.1 L379.5 315.3 L380 319.3 L380.5 315.3 L381 317.8 L381.5 316.4 L382 315.6 L382.5 315 L383 311.4 L383.5 314.1 L384 315.8 L384.5 312.4 L385 311.4 L385.5 306.7 L386 305.9 L386.5 309.2 L387 308.1 L387.5 308.3 L388 304.1 L388.5 303.3 L389 305.7 L389.5 301.7 L390 302.1 L390.5 301.5 L391 299.3 L391.5 296.8 L392 294.9 L392.5 299.1 L393 296.9 L393.5 295.8 L394 293.8 L394.5 292.1 L395 291.2 L395.5 291.7 L396 291.9 L396.5 291.5 L397 291.1 L397.5 290.9 L398 290.9 L398.5 291.3 L399 290.5 L399.5 290.2 L400 289.7 L400.5 289.8 L401 289.5 L401.5 289 L402 289.3 L402.5 288.3 L403 290.1 L403.5 288.6 L404 289 L404.5 288.3 L405 288.4 L405.5 289.1 L406 288.3 L406.5 288.3 L407 289.2 L407.5 289.5 L408 288.6 L408.5 288.8 L409 289.7 L409.5 289.2 L410 289.1 L410.5 288.5 L411 288.1 L411.5 288.1 L412 288.6 L412.5 289.2 L413 289.3 L413.5 288.2 L414 288 L414.5 288.4 L415 288.1 L415.5 287.4 L416 288.5 L416.5 288 L417 288.1 L417.5 288.5 L418 288.7 L418.5 288.6 L419 288.2 L419.5 287.2 L420 288.1 L420.5 288.3 L421 288.9 L421.5 288.6 L422 288 L422.5 287.9 L423 287.1 L423.5 288.1 L424 287.4 L424.5 287.8 L425 288.3 L425.5 288.4 L426 287 L426.5 287.6 L427 288 L427.5 286.4 L428 287.3 L428.5 287.3 L429 287.8 L429.5 287.8 L430 282.1 L430.5 273 L431 264.3 L431.5 255.4 L432 254.2 L432.5 253.1 L433 251.8 L433.5 250.8 L434 249.9 L434.5 250.1 L435 250.3 L435.5 250.9 L436 251.4 L436.5 251.6 L437 253.8 L437.5 256.5 L438 259 L438.5 261.4 L439 264.2 L439.5 266.1 L440 267.5 L440.5 268.7 L441 269.5 L441.5 270.5 L442 271.5 L442.5 272.5 L443 273.5 L443.5 274 L444 274.3 L444.5 274.8 L445 275.3 L445.5 275.6 L446 275.9 L446.5 276.5 L447 277.3 L447.5 278 L448 278.3 L448.5 278.4 L449 277.3 L449.5 277.5 L450 277.7 L450.5 277.5 L451 277.3 L451.5 277.3 L452 277.3 L452.5 277.3 L453 277.2 L453.5 277.1 L454 277.1 L454.5 276.9 L455 275.9 L455.5 275.2 L456 275.2 L456.5 275.2 L457 275.2 L457.5 275.2 L458 275.4 L458.5 275.5 L459 275.6 L459.5 275.6 L460 275.7 L460.5 275.7 L461 275.7 L461.5 275.1 L462 274.3 L462.5 274.1 L463 274.1 L463.5 274.3 L464 274.3 L464.5 274.4 L465 274.6 L465.5 274.7 L466 274.8 L466.5 274.9 L467 274.8 L467.5 274.7 L468 274.7 L468.5 274 L469 273.3 L469.5 273.3 L470 273.3 L470.5 273.4 L471 273.6 L471.5 273.7 L472 273.7 L472.5 273.8 L473 273.9 L473.5 273.9 L474 274.1 L474.5 274.4 L475 274.1 L475.5 273.1 L476 272.7 L476.5 272.9 L477 273 L477.5 273.2 L478 273.2 L478.5 273.2 L479 273.3 L479.5 273.4 L480 273.7 L480.5 274.1 L481 274.3 L481.5 274.3 L482 273.4 L482.5 272.3 L483 272.2 L483.5 272.5 L484 272.7 L484.5 272.7 L485 273 L485.5 273.4 L486 273.6 L486.5 273.7 L487 273.9 L487.5 274.2 L488 274.4 L488.5 274.1 L489 273.1 L489.5 272.3 L490 272.5 L490.5 272.7 L491 273.2 L491.5 273.5 L492 273.7 L492.5 274 L493 274.2 L493.5 274.3 L494 274.5 L494.5 275 L495 275.2 L495.5 274.7 L496 273.9 L496.5 273.6 L497 273.6 L497.5 273.7 L498 273.8 L498.5 274.1 L499 274.4 L499.5 274.8 L500 275 L500.5 275 L501 275.2 L501.5 275.4 L502 275.6 L502.5 274.9 L503 274 L503.5 274.2 L504 274.5 L504.5 274.8 L505 275.1 L505.5 275.6 L506 275.9 L506.5 276 L507 276 L507.5 276.1 L508 276.4 L508.5 276.6 L509 276.2 L509.5 275.6 L510 275.4 L510.5 275.5 L511 275.6 L511.5 275.9 L512 276.3 L512.5 276.5 L513 276.6 L513.5 276.8 L514 277.2 L514.5 277.5 L515 277.6 L515.5 278 L516 277.3 L516.5 276.3 L517 276.2 L517.5 276.5 L518 276.7 L518.5 276.8 L519 277.3 L519.5 277.8 L520 278.1 L520.5 278.2 L521 278.2 L521.5 278.6 L522 279.2 L522.5 279.2 L523 278.1 L523.5 277.5 L524 277.7 L524.5 277.9 L525 278.1 L525.5 278.3 L526 278.7 L526.5 279.1 L527 279.5 L527.5 279.6 L528 279.7 L528.5 279.9 L529 280.2 L529.5 279.9 L530 279.3 L530.5 279.3 L531 279.5 L531.5 279.6 L532 280.1 L532.5 280.5 L533 280.8 L533.5 281.2 L534 281.6 L534.5 282 L535 282.4 L535.5 282.9 L536 282.8 L536.5 283.1 L537 292.6 L537.5 302.2 L538 312 L538.5 303.5 L539 311.3 L539.5 310.1 L540 306.9 L540.5 308.5 L541 307.8 L541.5 309.4 L542 310.5 L542.5 309.4 L543 309.6 L543.5 310.4 L544 307.1 L544.5 313 L545 308.4 L545.5 306.4 L546 307.6 L546.5 306.3 L547 307.4 L547.5 304.4 L548 304.8 L548.5 313.1 L549 314.1 L549.5 313.8 L550 313.1 L550.5 306.6 L551 304.1 L551.5 306.3 L552 296.2 L552.5 297.1 L553 298.3 L553.5 300.6 L554 296 L554.5 296.4 L555 296 L555.5 294.2 L556 294.8 L556.5 293.9 L557 294 L557.5 293.9 L558 292.6 L558.5 293.3 L559 293.1 L559.5 293.1 L560 292.8 L560.5 292.8 L561 293.5 L561.5 292.3 L562 292 L562.5 292.7 L563 292 L563.5 291.3 L564 292.2 L564.5 291.4 L565 293.4 L565.5 292.3 L566 292.1 L566.5 292.1 L567 291.8 L567.5 292.4 L568 291.5 L568.5 292.5 L569 291.7 L569.5 291.9 L570 291.5 L570.5 291.7 L571 290.7 L571.5 291.6 L572 291.5 L572.5 291.4 L573 292.1 L573.5 291.3 L574 290.8 L574.5 291.9 L575 290.8 L575.5 291.1 L576 291.3 L576.5 291.1 L577 291.1 L577.5 291.3 L578 291.7 L578.5 291.2 L579 290.8 L579.5 290.8 L580 290.5 L580.5 290.9 L581 291.6 L581.5 291.9 L582 290.7 L582.5 291.1 L583 290 L583.5 289.6 L584 290.7 L584.5 291.4 L585 290.9 L585.5 291.1 L586 291 L586.5 291 L587 290.7 L587.5 290.9 L588 290.4 L588.5 289.9 L589 290.7 L589.5 289.7 L590 288.9 L590.5 284.2 L591 277.5 L591.5 270.9 L592 264.6 L592.5 262.9 L593 262.5 L593.5 262.2 L594 261.7 L594.5 261.5 L595 261.5 L595.5 261.2 L596 260.9 L596.5 261.9 L597 263 L597.5 263.9 L598 264.8 L598.5 265.9 L599 267.2 L599.5 268.4 L600 269.7 L600.5 270.8 L601 271.8 L601.5 273.2 L602 274.6 L602.5 275.5 L603 276.4 L603.5 277.7 L604 278.9 L604.5 280.1 L605 281.4 L605.5 282 L606 282.3 L606.5 282.6 L607 283.1 L607.5 283.7 L608 284.2 L608.5 284.7 L609 284.4 L609.5 285.1 L610 286 L610.5 286.2 L611 285.9 L611.5 285.9 L612 286 L612.5 286 L613 286 L613.5 286.2 L614 286.4 L614.5 285.9 L615 284.7 L615.5 284.1 L616 284 L616.5 284 L617 283.8 L617.5 283.8 L618 284 L618.5 284.3 L619 284.2 L619.5 284 L620 284 L620.5 284.1 L621 283.9 L621.5 282.9 L622 282.5 L622.5 282.7 L623 282.9 L623.5 282.9 L624 282.8 L624.5 283.1 L625 283.5 L625.5 283.6 L626 283.7 L626.5 283.8 L627 283.8 L627.5 283.7 L628 283 L628.5 282.4 L629 282.4 L629.5 282.4 L630 282.5 L630.5 282.5 L631 282.7 L631.5 282.9 L632 283.1 L632.5 283.3 L633 283.5 L633.5 283.5 L634 283.6 L634.5 282.7 L635 281.9 L635.5 282.1 L636 282.4 L636.5 282.7 L637 282.9 L637.5 283 L638 283.2 L638.5 283.5 L639 283.7 L639.5 284.1 L640 284.3 L640.5 284.3 L641 283.3 L641.5 282.4 L642 282.6 L642.5 283 L643 283.3 L643.5 283.4 L644 283.6 L644.5 283.6 L645 283.8 L645.5 284.3 L646 284.5 L646.5 284.7 L647 285 L647.5 284.1" stroke="#eaa232" stroke-width="1.4"/>
<path d="M38 313.9 L38.5 309 L39 304.3 L39.5 300.3 L40 297.1 L40.5 295.2 L41 292.3 L41.5 292 L42 291 L42.5 292.6 L43 292.2 L43.5 292.2 L44 292.3 L44.5 291.7 L45 290.4 L45.5 291.3 L46 291.3 L46.5 291.4 L47 291.5 L47.5 291.2 L48 291.2 L48.5 291 L49 290.9 L49.5 291.6 L50 291.1 L50.5 291 L51 291 L51.5 291 L52 291.6 L52.5 291.6 L53 291.5 L53.5 291.1 L54 290.7 L54.5 291.1 L55 291.9 L55.5 291.1 L56 292.4 L56.5 291.6 L57 291.7 L57.5 291.5 L58 290.8 L58.5 290.6 L59 291 L59.5 291.6 L60 291.9 L60.5 290.9 L61 291.3 L61.5 291.3 L62 291.8 L62.5 291.1 L63 291.8 L63.5 291.2 L64 290.8 L64.5 290.4 L65 290.6 L65.5 290.8 L66 291.5 L66.5 290.7 L67 290.9 L67.5 291.2 L68 290.9 L68.5 291.2 L69 291.2 L69.5 291.7 L70 291.8 L70.5 291.6 L71 290.9 L71.5 291.1 L72 291.5 L72.5 290.5 L73 290.1 L73.5 291.3 L74 290.8 L74.5 290.8 L75 290.7 L75.5 290.7 L76 289.9 L76.5 290.5 L77 291.3 L77.5 290.8 L78 290.8 L78.5 291 L79 291 L79.5 291.2 L80 290.2 L80.5 289.7 L81 290.9 L81.5 291 L82 290.6 L82.5 290.8 L83 290.7 L83.5 291.2 L84 291.5 L84.5 291.2 L85 290.9 L85.5 291.5 L86 292.1 L86.5 290.8 L87 290.5 L87.5 291.1 L88 291 L88.5 290.1 L89 290 L89.5 290.6 L90 290.2 L90.5 290.4 L91 290 L91.5 290.1 L92 290.3 L92.5 291.3 L93 290.3 L93.5 290.1 L94 291.1 L94.5 291.7 L95 290.3 L95.5 290.5 L96 290.9 L96.5 290.5 L97 291.1 L97.5 289.8 L98 290 L98.5 289.9 L99 290 L99.5 290.5 L100 290.3 L100.5 290.3 L101 290.1 L101.5 291.5 L102 290.5 L102.5 290.1 L103 290.6 L103.5 290.8 L104 290.4 L104.5 290.3 L105 290.3 L105.5 290.7 L106 290.3 L106.5 290.3 L107 289.9 L107.5 290.3 L108 290.9 L108.5 290.4 L109 290.2 L109.5 285.8 L110 262.7 L110.5 248.2 L111 236.2 L111.5 224 L112 215.9 L112.5 209 L113 205.6 L113.5 204.7 L114 203.7 L114.5 202.5 L115 201.4 L115.5 200.5 L116 199.8 L116.5 199 L117 198 L117.5 196.6 L118 195 L118.5 200.4 L119 207.6 L119.5 216.5 L120 226.5 L120.5 236 L121 244 L121.5 251.1 L122 256.4 L122.5 260.8 L123 264.9 L123.5 268.5 L124 270.5 L124.5 272.1 L125 273.8 L125.5 275.9 L126 277 L126.5 277.3 L127 278 L127.5 278.8 L128 279.4 L128.5 279.5 L129 280 L129.5 280.6 L130 280.9 L130.5 281.3 L131 281.7 L131.5 282.1 L132 282.5 L132.5 282.5 L133 282.3 L133.5 282.3 L134 282.2 L134.5 282 L135 282 L135.5 282 L136 281.5 L136.5 281.3 L137 281.2 L137.5 280.2 L138 280.2 L138.5 280.1 L139 280.1 L139.5 280.1 L140 280.1 L140.5 280.1 L141 280.2 L141.5 280.2 L142 280.3 L142.5 280.5 L143 280.6 L143.5 280.5 L144 280 L144.5 279.2 L145 278.6 L145.5 278.7 L146 278.6 L146.5 278.6 L147 278.8 L147.5 278.8 L148 278.8 L148.5 278.8 L149 278.8 L149.5 279.1 L150 279.3 L150.5 279.1 L151 279 L151.5 278.7 L152 278 L152.5 277.4 L153 277.5 L153.5 277.4 L154 277.4 L154.5 277.3 L155 277.2 L155.5 277.4 L156 277.7 L156.5 277.7 L157 277.6 L157.5 277.6 L158 277.6 L158.5 277.7 L159 277.3 L159.5 276.6 L160 276 L160.5 275.9 L161 276.1 L161.5 276.4 L162 276.4 L162.5 276.3 L163 276.3 L163.5 276.4 L164 276.4 L164.5 276.4 L165 276.5 L165.5 276.6 L166 276.7 L166.5 276.3 L167 275.8 L167.5 275.4 L168 275.3 L168.5 275.5 L169 275.7 L169.5 275.8 L170 275.8 L170.5 275.9 L171 276.1 L171.5 276.2 L172 276.2 L172.5 276.4 L173 276.5 L173.5 276.5 L174 276.1 L174.5 275.5 L175 275.3 L175.5 275.4 L176 275.2 L176.5 275 L177 275.3 L177.5 275.5 L178 275.7 L178.5 276.1 L179 276.4 L179.5 276.2 L180 276.2 L180.5 276.4 L181 276.6 L181.5 276 L182 275.5 L182.5 275.2 L183 275.3 L183.5 275.5 L184 275.7 L184.5 276 L185 276 L185.5 275.7 L186 275.8 L186.5 276.2 L187 276.5 L187.5 276.7 L188 276.8 L188.5 276.7 L189 276.2 L189.5 275.6 L190 275.5 L190.5 275.6 L191 275.9 L191.5 276 L192 276 L192.5 276.4 L193 276.5 L193.5 276.6 L194 276.8 L194.5 277.1 L195 277.2 L195.5 277.3 L196 277.5 L196.5 276.7 L197 276.1 L197.5 276.2 L198 276.3 L198.5 276.5 L199 276.7 L199.5 276.9 L200 276.9 L200.5 277 L201 277.2 L201.5 277.4 L202 277.6 L202.5 277.9 L203 278.1 L203.5 278 L204 277.1 L204.5 276.4 L205 276.6 L205.5 276.8 L206 277.1 L206.5 277.4 L207 277.7 L207.5 278 L208 278 L208.5 278 L209 278.2 L209.5 278.3 L210 278.5 L210.5 278.7 L211 278.8 L211.5 278.1 L212 277.2 L212.5 277.3 L213 277.6 L213.5 277.8 L214 278 L214.5 278.2 L215 278.5 L215.5 279 L216 279.1 L216.5 284.6 L217 299.1 L217.5 314.5 L218 320.1 L218.5 324.2 L219 328.3 L219.5 331.9 L220 328.3 L220.5 328.9 L221 326.5 L221.5 327.5 L222 323.9 L222.5 321.4 L223 324.7 L223.5 321.1 L224 320.6 L224.5 318 L225 319.7 L225.5 317.7 L226 313.8 L226.5 315.9 L227 312.5 L227.5 311.4 L228 306.5 L228.5 309 L229 303 L229.5 305.1 L230 304.7 L230.5 304.7 L231 303.1 L231.5 302.1 L232 302.2 L232.5 301.1 L233 299.8 L233.5 299.7 L234 299.7 L234.5 298.6 L235 299.4 L235.5 298.8 L236 298.3 L236.5 297 L237 297.5 L237.5 297.9 L238 298.2 L238.5 298.5 L239 297.7 L239.5 297.4 L240 297.2 L240.5 297.5 L241 297.9 L241.5 296.4 L242 296.5 L242.5 295.6 L243 296.8 L243.5 295.9 L244 295.8 L244.5 295.8 L245 295.6 L245.5 295.7 L246 295.4 L246.5 295.7 L247 296.1 L247.5 295.2 L248 295.6 L248.5 295.5 L249 295 L249.5 295.4 L250 295.3 L250.5 295.1 L251 294.7 L251.5 295 L252 294 L252.5 294.8 L253 294.8 L253.5 294.1 L254 294.6 L254.5 294.2 L255 294.2 L255.5 294.1 L256 293.9 L256.5 294.3 L257 294.3 L257.5 293.5 L258 293.6 L258.5 295 L259 294.4 L259.5 294.6 L260 293.3 L260.5 294.3 L261 294.2 L261.5 294 L262 294 L262.5 293.9 L263 293.2 L263.5 293.3 L264 293.3 L264.5 294.1 L265 293.3 L265.5 293.9 L266 293.6 L266.5 293.9 L267 293.2 L267.5 293.2 L268 293.3 L268.5 293.6 L269 292.9 L269.5 292.5 L270 293.4 L270.5 292.6 L271 293.7 L271.5 293.4 L272 293.2 L272.5 294.1 L273 292.8 L273.5 291.8 L274 291.5 L274.5 290.2 L275 288.8 L275.5 287.8 L276 274.9 L276.5 261.8 L277 253.6 L277.5 252 L278 250.1 L278.5 249.4 L279 249.5 L279.5 249.3 L280 249.1 L280.5 248.6 L281 248.2 L281.5 248.1 L282 247.9 L282.5 249 L283 251.7 L283.5 254.1 L284 256.8 L284.5 259.8 L285 262.9 L285.5 264.7 L286 266.4 L286.5 268.2 L287 269.6 L287.5 271 L288 272.6 L288.5 274.3 L289 276 L289.5 277 L290 277.9 L290.5 278.8 L291 279.5 L291.5 280.2 L292 280.8 L292.5 281.5 L293 282.3 L293.5 283.3 L294 284.3 L294.5 285.1 L295 284.3 L295.5 284.4 L296 284.1 L296.5 284 L297 283.9 L297.5 284 L298 284.1 L298.5 284.1 L299 284 L299.5 284 L300 284.2 L300.5 284.2 L301 283.1 L301.5 282.1 L302 282.3 L302.5 282.3 L303 282.3 L303.5 282.5 L304 282.6 L304.5 282.5 L305 282.3 L305.5 282.5 L306 282.8 L306.5 283 L307 282.9 L307.5 282.7 L308 282 L308.5 281.5 L309 281.5 L309.5 281.6 L310 281.7 L310.5 281.6 L311 281.5 L311.5 281.7 L312 282 L312.5 282.1 L313 282.2 L313.5 282.2 L314 282.2 L314.5 281.8 L315 280.9 L315.5 280.4 L316 280.4 L316.5 280.5 L317 280.8 L317.5 280.9 L318 280.9 L318.5 280.8 L319 281 L319.5 281.2 L320 281.3 L320.5 281.4 L321 281.4 L321.5 281 L322 280.3 L322.5 280.1 L323 279.9 L323.5 279.8 L324 280 L324.5 280.2 L325 280.3 L325.5 280.2 L326 280.3 L326.5 280.4 L327 280.5 L327.5 280.5 L328 280.3 L328.5 279.7 L329 278.8 L329.5 278.6 L330 278.7 L330.5 278.9 L331 279.1 L331.5 279.2 L332 279.2 L332.5 279.4 L333 279.6 L333.5 279.8 L334 279.9 L334.5 280.1 L335 280.2 L335.5 279.4 L336 278.8 L336.5 278.8 L337 278.8 L337.5 279.1 L338 279.4 L338.5 279.6 L339 279.8 L339.5 279.8 L340 279.8 L340.5 280 L341 280 L341.5 280.2 L342 280.4 L342.5 279.7 L343 278.9 L343.5 278.8 L344 278.9 L344.5 278.9 L345 279.1 L345.5 279.4 L346 279.5 L346.5 279.5 L347 279.7 L347.5 280.1 L348 280.3 L348.5 280.2 L349 280 L349.5 279.3 L350 278.7 L350.5 278.8 L351 279.1 L351.5 279.3 L352 279.5 L352.5 279.9 L353 280.1 L353.5 280.1 L354 280.1 L354.5 280.2 L355 280.4 L355.5 280.6 L356 280.3 L356.5 279.5 L357 279.1 L357.5 279.4 L358 279.6 L358.5 279.6 L359 279.6 L359.5 279.7 L360 279.9 L360.5 280.1 L361 280.2 L361.5 280.4 L362 280.7 L362.5 280.9 L363 279.9 L363.5 279.1 L364 279.2 L364.5 279.4 L365 279.5 L365.5 279.6 L366 279.7 L366.5 279.9 L367 280.3 L367.5 280.5 L368 280.2 L368.5 280.1 L369 280.4 L369.5 280.7 L370 280 L370.5 279.3 L371 279.6 L371.5 279.9 L372 279.7 L372.5 279.8 L373 279.9 L373.5 279.9 L374 280.2 L374.5 280.3 L375 280.3 L375.5 281.5 L376 283.7 L376.5 287.8 L377 294 L377.5 299.8 L378 307 L378.5 313.2 L379 317.3 L379.5 321 L380 321.5 L380.5 320.3 L381 322 L381.5 322.2 L382 321.8 L382.5 319.4 L383 318.9 L383.5 318.7 L384 316.2 L384.5 316.7 L385 314.2 L385.5 313.5 L386 314.2 L386.5 314.3 L387 312.1 L387.5 311.2 L388 312.9 L388.5 308.1 L389 307.5 L389.5 306.5 L390 304.7 L390.5 305.8 L391 300.3 L391.5 302.2 L392 299.6 L392.5 300.9 L393 301.7 L393.5 301.2 L394 300.3 L394.5 300.4 L395 301 L395.5 300.6 L396 300.3 L396.5 299 L397 298.3 L397.5 299 L398 298.9 L398.5 298.3 L399 298.1 L399.5 296.4 L400 296.2 L400.5 296.6 L401 297.2 L401.5 297.3 L402 296 L402.5 296.9 L403 296.9 L403.5 296.8 L404 296.2 L404.5 297.1 L405 295.6 L405.5 296 L406 295.5 L406.5 295.9 L407 295.4 L407.5 295.4 L408 295.4 L408.5 294.8 L409 294.2 L409.5 294.8 L410 295.3 L410.5 295.3 L411 294 L411.5 294 L412 293.7 L412.5 294 L413 294 L413.5 294 L414 294.3 L414.5 295.3 L415 294.9 L415.5 295.3 L416 294 L416.5 294.3 L417 293.4 L417.5 293.5 L418 294.2 L418.5 294.3 L419 294.5 L419.5 293.2 L420 293.1 L420.5 293.5 L421 293.8 L421.5 293.5 L422 293.9 L422.5 294.5 L423 294 L423.5 292.9 L424 294.1 L424.5 293.9 L425 293.1 L425.5 293.6 L426 293.3 L426.5 294.2 L427 293.9 L427.5 292.9 L428 292.9 L428.5 292.3 L429 292.8 L429.5 292.8 L430 287.3 L430.5 278.3 L431 270 L431.5 261.4 L432 260.4 L432.5 259.3 L433 258.8 L433.5 258.5 L434 257.8 L434.5 257.8 L435 258.1 L435.5 258.3 L436 258.2 L436.5 258.1 L437 259.6 L437.5 261.6 L438 263.6 L438.5 265.7 L439 267.9 L439.5 269.5 L440 270.9 L440.5 272.5 L441 273.8 L441.5 275.3 L442 276.9 L442.5 278.4 L443 279.7 L443.5 280.5 L444 281.3 L444.5 282.1 L445 282.9 L445.5 283.6 L446 284.4 L446.5 285.1 L447 286 L447.5 286.9 L448 287.5 L448.5 287.8 L449 286.9 L449.5 286.9 L450 287 L450.5 287 L451 286.8 L451.5 286.7 L452 286.6 L452.5 286.5 L453 286.6 L453.5 286.7 L454 286.6 L454.5 286.2 L455 285.3 L455.5 284.5 L456 284.6 L456.5 284.8 L457 284.8 L457.5 284.8 L458 285 L458.5 284.9 L459 284.7 L459.5 284.8 L460 285.1 L460.5 285.3 L461 285.3 L461.5 284.7 L462 283.7 L462.5 283.4 L463 283.4 L463.5 283.4 L464 283.5 L464.5 283.5 L465 283.7 L465.5 283.7 L466 283.8 L466.5 284 L467 284.1 L467.5 284.3 L468 284.2 L468.5 283.2 L469 282.3 L469.5 282.4 L470 282.6 L470.5 282.6 L471 282.3 L471.5 282.2 L472 282.4 L472.5 282.6 L473 282.7 L473.5 282.7 L474 282.7 L474.5 282.9 L475 282.5 L475.5 281.6 L476 281.1 L476.5 281.1 L477 281.1 L477.5 281.1 L478 281.1 L478.5 281.1 L479 281.1 L479.5 281.3 L480 281.5 L480.5 281.5 L481 281.2 L481.5 281.2 L482 280.6 L482.5 279.9 L483 279.7 L483.5 279.7 L484 279.7 L484.5 279.6 L485 279.8 L485.5 279.9 L486 280.2 L486.5 280.4 L487 280.4 L487.5 280.4 L488 280.6 L488.5 280.4 L489 279.4 L489.5 279.1 L490 279.2 L490.5 279 L491 279 L491.5 279 L492 279.2 L492.5 279.4 L493 279.5 L493.5 279.5 L494 279.5 L494.5 279.6 L495 279.8 L495.5 279.4 L496 278.6 L496.5 278.4 L497 278.4 L497.5 278.5 L498 278.6 L498.5 278.5 L499 278.6 L499.5 278.7 L500 278.9 L500.5 279.2 L501 279.4 L501.5 279.4 L502 279.5 L502.5 278.7 L503 278 L503.5 278.1 L504 278.1 L504.5 278.1 L505 278.3 L505.5 278.7 L506 278.7 L506.5 278.8 L507 279 L507.5 279.2 L508 279.4 L508.5 279.6 L509 279.3 L509.5 278.5 L510 278.2 L510.5 278.3 L511 278.2 L511.5 278.3 L512 278.5 L512.5 278.6 L513 278.9 L513.5 279.1 L514 279.2 L514.5 279.2 L515 279.4 L515.5 279.7 L516 279.1 L516.5 278.3 L517 278.4 L517.5 278.7 L518 278.7 L518.5 278.7 L519 278.9 L519.5 279 L520 279.4 L520.5 279.7 L521 279.7 L521.5 280 L522 280.3 L522.5 280.3 L523 279.4 L523.5 278.8 L524 279 L524.5 279.2 L525 279.5 L525.5 279.7 L526 279.8 L526.5 279.8 L527 280.1 L527.5 280.3 L528 280.5 L528.5 280.7 L529 281 L529.5 280.7 L530 280 L530.5 279.8 L531 280.1 L531.5 280.5 L532 280.7 L532.5 280.8 L533 281 L533.5 281.2 L534 281.4 L534.5 281.8 L535 282.2 L535.5 282.9 L536 283.1 L536.5 283.4 L537 298.9 L537.5 314.9 L538 317.2 L538.5 319.6 L539 318.4 L539.5 321.3 L540 317.1 L540.5 320.3 L541 319.8 L541.5 320 L542 316.7 L542.5 320.7 L543 317.2 L543.5 322.2 L544 320.7 L544.5 318.9 L545 320.1 L545.5 319.8 L546 316.9 L546.5 316.7 L547 316.4 L547.5 315 L548 313.6 L548.5 312.9 L549 312.9 L549.5 311.7 L550 313 L550.5 308.7 L551 309.5 L551.5 305.3 L552 305.1 L552.5 303.8 L553 304.2 L553.5 297.1 L554 298.6 L554.5 298.8 L555 298 L555.5 298.2 L556 298.2 L556.5 297.6 L557 296.1 L557.5 297.5 L558 296.4 L558.5 295.6 L559 296.4 L559.5 295.4 L560 294 L560.5 294.6 L561 293.8 L561.5 294.7 L562 293.8 L562.5 292.9 L563 294.5 L563.5 294.6 L564 293.2 L564.5 293.7 L565 293.5 L565.5 294.3 L566 293.4 L566.5 293.9 L567 293 L567.5 293 L568 293.4 L568.5 293.3 L569 294 L569.5 293.3 L570 293 L570.5 293.3 L571 293.6 L571.5 293.2 L572 292.1 L572.5 293.5 L573 293.7 L573.5 292.7 L574 293.1 L574.5 293.5 L575 291.6 L575.5 293.2 L576 292.1 L576.5 292.3 L577 292.1 L577.5 293.5 L578 291.7 L578.5 292.3 L579 291.1 L579.5 291.4 L580 291.3 L580.5 291.1 L581 291 L581.5 291.9 L582 291.8 L582.5 291.4 L583 291.5 L583.5 291.5 L584 290.5 L584.5 291.7 L585 290.8 L585.5 291.8 L586 291.4 L586.5 291.2 L587 291.6 L587.5 290.6 L588 290.9 L588.5 290.9 L589 290.4 L589.5 291.1 L590 289.1 L590.5 284.6 L591 278.3 L591.5 271.9 L592 265.7 L592.5 264.5 L593 264.2 L593.5 263.7 L594 263.5 L594.5 263.2 L595 263.2 L595.5 263.1 L596 262.8 L596.5 263.5 L597 264.5 L597.5 265.2 L598 265.7 L598.5 266.2 L599 267.1 L599.5 267.8 L600 268.6 L600.5 269.7 L601 271 L601.5 272.5 L602 273.7 L602.5 274.7 L603 275.7 L603.5 276.5 L604 277.3 L604.5 278.6 L605 279.9 L605.5 281 L606 282 L606.5 283.1 L607 284 L607.5 284.9 L608 285.7 L608.5 286.3 L609 286.1 L609.5 286.6 L610 287 L610.5 287.3 L611 287.5 L611.5 287.5 L612 287.6 L612.5 287.6 L613 287.5 L613.5 287.3 L614 287.4 L614.5 287.3 L615 286.4 L615.5 285.8 L616 285.9 L616.5 285.9 L617 285.7 L617.5 285.7 L618 285.8 L618.5 285.9 L619 285.9 L619.5 286 L620 286.2 L620.5 286.2 L621 285.7 L621.5 284.7 L622 284.1 L622.5 284.2 L623 284.3 L623.5 284.3 L624 284.4 L624.5 284.5 L625 284.6 L625.5 284.5 L626 284.5 L626.5 284.7 L627 284.7 L627.5 284.5 L628 283.5 L628.5 282.9 L629 283 L629.5 283.1 L630 283.3 L630.5 283.3 L631 283.2 L631.5 283.1 L632 283.1 L632.5 283.1 L633 283.1 L633.5 283.5 L634 283.6 L634.5 282.7 L635 281.9 L635.5 281.9 L636 282 L636.5 282.1 L637 282.2 L637.5 282.2 L638 282.2 L638.5 282.2 L639 282.1 L639.5 282.2 L640 282.5 L640.5 282.8 L641 281.9 L641.5 281.1 L642 281.1 L642.5 281.2 L643 281.4 L643.5 281.2 L644 281.2 L644.5 281.5 L645 281.7 L645.5 281.7 L646 281.8 L646.5 282 L647 282.1 L647.5 281.1" stroke="#3f951f" stroke-width="1.4"/>
<path d="M38 312.5 L38.3 313.3 L38.6 312.8 L38.9 314.9 L39.2 316.3 L39.5 317.3 L39.8 317.8 L40.1 317 L40.4 315.5 L40.7 314.9 L41 315 L41.3 317.3 L41.6 317.5 L41.9 319.7 L42.2 320.1 L42.5 319.6 L42.8 318.8 L43.1 317.9 L43.4 317.3 L43.7 317.5 L44 318.7 L44.3 319.2 L44.6 321.4 L44.9 321.8 L45.2 321.5 L45.5 320.4 L45.8 318.8 L46.1 317.9 L46.4 318.9 L46.7 319.8 L47 322.2 L47.3 322.6 L47.6 322.7 L47.9 322.9 L48.2 321.1 L48.5 320.4 L48.8 319.7 L49.1 320 L49.4 322.6 L49.7 322.7 L50 324.3 L50.3 323.6 L50.6 323.3 L50.9 321.3 L51.2 320.4 L51.5 320.8 L51.8 321.6 L52.1 322.6 L52.4 324.4 L52.7 324.8 L53 324.8 L53.3 323.1 L53.6 322 L53.9 320.7 L54.2 322 L54.5 322.2 L54.8 324 L55.1 325.4 L55.4 325.8 L55.7 324.9 L56 323.7 L56.3 322.3 L56.6 322.6 L56.9 322.9 L57.2 324.2 L57.5 325.9 L57.8 326.1 L58.1 326.1 L58.4 324.5 L58.7 323.1 L59 322.1 L59.3 322.9 L59.6 323.1 L59.9 324.3 L60.2 326.4 L60.5 327.1 L60.8 326.9 L61.1 324.3 L61.4 323.2 L61.7 322.4 L62 322.5 L62.3 325.2 L62.6 326.3 L62.9 327 L63.2 327.1 L63.5 326 L63.8 324 L64.1 323.6 L64.4 322.6 L64.7 324.4 L65 326 L65.3 326.6 L65.6 327.7 L65.9 327.5 L66.2 325.9 L66.5 324.9 L66.8 324 L67.1 324.1 L67.4 324 L67.7 326 L68 327.3 L68.3 327 L68.6 326.8 L68.9 325 L69.2 323.2 L69.5 323.8 L69.8 324 L70.1 324.9 L70.4 326.3 L70.7 327.3 L71 327.3 L71.3 326.4 L71.6 324.7 L71.9 323.5 L72.2 323.2 L72.5 323.7 L72.8 325.5 L73.1 326.5 L73.4 328.1 L73.7 327.7 L74 326.2 L74.3 324.8 L74.6 324.2 L74.9 323.9 L75.2 325.4 L75.5 325.7 L75.8 327.3 L76.1 328.3 L76.4 327 L76.7 326 L77 325 L77.3 323.8 L77.6 324.8 L77.9 324.6 L78.2 327.1 L78.5 328.1 L78.8 327.7 L79.1 326.4 L79.4 325.4 L79.7 324.7 L80 324.1 L80.3 324.7 L80.6 326.5 L80.9 327.2 L81.2 327.5 L81.5 328 L81.8 326.2 L82.1 324.7 L82.4 325.1 L82.7 324.4 L83 324.1 L83.3 326.2 L83.6 327.1 L83.9 328.1 L84.2 327.5 L84.5 325.3 L84.8 325.3 L85.1 324.4 L85.4 323.8 L85.7 325.4 L86 327.2 L86.3 327.8 L86.6 327.9 L86.9 327.4 L87.2 325.7 L87.5 324.9 L87.8 324.3 L88.1 324.4 L88.4 326.3 L88.7 328.3 L89 327.7 L89.3 327.9 L89.6 327.1 L89.9 326.3 L90.2 325.2 L90.5 324.7 L90.8 325.8 L91.1 326.4 L91.4 326.9 L91.7 327.7 L92 327.6 L92.3 326.5 L92.6 323.9 L92.9 324.5 L93.2 324.7 L93.5 325.6 L93.8 327.3 L94.1 327.4 L94.4 328.2 L94.7 327.3 L95 325.9 L95.3 324.9 L95.6 324.3 L95.9 326.4 L96.2 326.5 L96.5 326.9 L96.8 327.7 L97.1 327.7 L97.4 325.8 L97.7 325.6 L98 324.3 L98.3 324 L98.6 324.6 L98.9 326.6 L99.2 326.8 L99.5 327.3 L99.8 326.6 L100.1 325.9 L100.4 324.7 L100.7 323.5 L101 324.6 L101.3 326.1 L101.6 327.6 L101.9 327.9 L102.2 326.9 L102.5 326.2 L102.8 325.5 L103.1 323.6 L103.4 323.9 L103.7 324.5 L104 325.3 L104.3 326.6 L104.6 327.7 L104.9 326.8 L105.2 326 L105.5 324.5 L105.8 324.1 L106.1 324 L106.4 323.6 L106.7 325.6 L107 327.4 L107.3 326.9 L107.6 326.5 L107.9 324.5 L108.2 323.5 L108.5 321.3 L108.8 319.1 L109.1 317.6 L109.4 318.2 L109.7 317.8 L110 315.9 L110.3 312.8 L110.6 310.5 L110.9 308.6 L111.2 307.1 L111.5 307.4 L111.8 308.6 L112.1 309.9 L112.4 309.1 L112.7 308.8 L113 308 L113.3 305.9 L113.6 304.8 L113.9 305.1 L114.2 306.2 L114.5 307.4 L114.8 308.8 L115.1 309.1 L115.4 308.8 L115.7 306.7 L116 305.2 L116.3 303.8 L116.6 304.4 L116.9 302.7 L117.2 301.2 L117.5 297.2 L117.8 293.1 L118.1 288.9 L118.4 283.6 L118.7 277.9 L119 272.1 L119.3 267.3 L119.6 262 L119.9 255.8 L120.2 251.1 L120.5 248 L120.8 241 L121.1 237 L121.4 232.7 L121.7 230.1 L122 228.1 L122.3 225.5 L122.6 223.6 L122.9 221.6 L123.2 219.3 L123.5 217.7 L123.8 215.7 L124.1 213.4 L124.4 211.3 L124.7 208.3 L125 207.1 L125.3 203.1 L125.6 200 L125.9 197.8 L126.2 196.9 L126.5 195.4 L126.8 193.7 L127.1 192.6 L127.4 192.7 L127.7 193 L128 191.2 L128.3 189.4 L128.6 188.8 L128.9 187.6 L129.2 187.9 L129.5 189.2 L129.8 190 L130.1 188.2 L130.4 187.7 L130.7 187 L131 186.8 L131.3 189.3 L131.6 188.4 L131.9 188.1 L132.2 187 L132.5 185.7 L132.8 185.9 L133.1 187.7 L133.4 188.6 L133.7 188.4 L134 186.6 L134.3 187.2 L134.6 185.7 L134.9 187.5 L135.2 188 L135.5 188.3 L135.8 186.9 L136.1 186 L136.4 185.1 L136.7 186.3 L137 187.6 L137.3 190.1 L137.6 189.1 M216.2 194.6 L216.5 193.1 L216.8 194.2 L217.1 191.6 L217.4 190.8 L217.7 191 L218 187.3 L218.3 190.7 L218.6 191.2 L218.9 190.4 L219.2 191.1 L219.5 188.2 L219.8 188.1 L220.1 187.1 L220.4 188.4 L220.7 189.5 L221 190.5 L221.3 189.2 L221.6 187.2 L221.9 187.7 L222.2 188.2 L222.5 188.5 L222.8 189.4 L223.1 189.3 L223.4 188.6 L223.7 186.5 L224 187.2 L224.3 190.3 L224.6 189.6 L224.9 190.5 L225.2 189.8 L225.5 192.7 L225.8 198.3 L226.1 206.6 L226.4 218.2 L226.7 228.4 L227 236.2 L227.3 245.8 L227.6 255.5 L227.9 257.7 L228.2 262.9 L228.5 268.3 L228.8 271.7 L229.1 276.1 L229.4 279.7 L229.7 281.5 L230 281.5 L230.3 284.3 L230.6 285.7 L230.9 287.6 L231.2 290.8 L231.5 294 L231.8 296 L232.1 297.9 L232.4 299.6 L232.7 299 L233 299.1 L233.3 299.9 L233.6 303 L233.9 304.9 L234.2 305.9 L234.5 308.2 L234.8 309.2 L235.1 309.2 L235.4 309.2 L235.7 308.8 L236 308.1 L236.3 309.1 L236.6 310.4 L236.9 312 L237.2 313.1 L237.5 312.8 L237.8 310.9 L238.1 310.9 L238.4 310.4 L238.7 310 L239 311.4 L239.3 312.6 L239.6 313.9 L239.9 314.5 L240.2 314.8 L240.5 313.1 L240.8 312.6 L241.1 312.3 L241.4 312.9 L241.7 314.3 L242 315.1 L242.3 316.2 L242.6 316.2 L242.9 315.8 L243.2 313.8 L243.5 313.1 L243.8 314.1 L244.1 314.3 L244.4 315.9 L244.7 316.6 L245 318 L245.3 317.2 L245.6 316.3 L245.9 314.5 L246.2 315.7 L246.5 314.8 L246.8 316.5 L247.1 317.6 L247.4 318.5 L247.7 319.3 L248 317.8 L248.3 316.1 L248.6 316.2 L248.9 315.5 L249.2 315.8 L249.5 317.1 L249.8 319.8 L250.1 320.1 L250.4 320.1 L250.7 319.1 L251 318.1 L251.3 316.8 L251.6 316.7 L251.9 317 L252.2 318.9 L252.5 320.2 L252.8 320.9 L253.1 320.1 L253.4 320.3 L253.7 318.2 L254 317.7 L254.3 317.1 L254.6 319.9 L254.9 320.4 L255.2 321.2 L255.5 322.4 L255.8 320.2 L256.1 320 L256.4 319.4 L256.7 318.9 L257 318.9 L257.3 319.6 L257.6 321.3 L257.9 322.9 L258.2 322.7 L258.5 321.3 L258.8 319.7 L259.1 318.8 L259.4 318.9 L259.7 319.8 L260 320.7 L260.3 322.7 L260.6 323.4 L260.9 322.9 L261.2 322.6 L261.5 321.4 L261.8 320.3 L262.1 320.4 L262.4 321 L262.7 322.6 L263 323.7 L263.3 324.3 L263.6 322.6 L263.9 322.5 L264.2 320.9 L264.5 320.8 L264.8 320.7 L265.1 322.1 L265.4 323.3 L265.7 324.5 L266 324.7 L266.3 323.9 L266.6 322.6 L266.9 321.3 L267.2 321 L267.5 321.5 L267.8 323 L268.1 324.8 L268.4 324.8 L268.7 325.4 L269 323.9 L269.3 322.4 L269.6 321.9 L269.9 321.8 L270.2 322.2 L270.5 324.7 L270.8 324.9 L271.1 325.5 L271.4 325.5 L271.7 324.6 L272 323.4 L272.3 322.5 L272.6 321.9 L272.9 323.2 L273.2 325.2 L273.5 325.2 L273.8 325.1 L274.1 322.2 L274.4 319.6 L274.7 316.8 L275 314.2 L275.3 313.5 L275.6 314.7 L275.9 314.2 L276.2 315.3 L276.5 314.3 L276.8 311.8 L277.1 310.5 L277.4 308.5 L277.7 308.8 L278 309.8 L278.3 309.7 L278.6 310.9 L278.9 310.8 L279.2 309.8 L279.5 308.1 L279.8 306.7 L280.1 306.2 L280.4 306 L280.7 306.8 L281 308.6 L281.3 309 L281.6 308.3 L281.9 306.6 L282.2 305.1 L282.5 301.8 L282.8 299.1 L283.1 298.6 L283.4 295.2 L283.7 291.7 L284 287.8 L284.3 282.6 L284.6 277 L284.9 265.7 L285.2 255.6 L285.5 245.7 L285.8 241.6 L286.1 237.3 L286.4 233.4 L286.7 229.8 L287 225.3 L287.3 221 L287.6 218.2 L287.9 216 L288.2 214.1 L288.5 212.3 L288.8 210.4 L289.1 209.1 L289.4 207.8 L289.7 206.6 L290 205.4 L290.3 203.6 L290.6 202.4 L290.9 200.1 L291.2 201.3 L291.5 198.8 L291.8 196 L292.1 194.1 L292.4 194.1 L292.7 195.4 L293 195.3 L293.3 193.7 L293.6 192.1 L293.9 188.9 L294.2 189 L294.5 189.8 L294.8 191.4 L295.1 192 L295.4 191.1 L295.7 190.9 L296 190.2 L296.3 191.7 M376.4 193.1 L376.7 192.8 L377 191.5 L377.3 190 L377.6 188.3 L377.9 191 L378.2 189.7 L378.5 192.3 L378.8 191.6 L379.1 189 L379.4 189.8 L379.7 189.3 L380 189.8 L380.3 191 L380.6 191.1 L380.9 189.8 L381.2 188.9 L381.5 189 L381.8 189.2 L382.1 190.2 L382.4 190.9 L382.7 191.3 L383 189.5 L383.3 189.4 L383.6 189.1 L383.9 191.9 L384.2 191 L384.5 191.9 L384.8 191.1 L385.1 188.8 L385.4 188.4 L385.7 191.2 L386 192.2 L386.3 191.8 L386.6 191.5 L386.9 189.9 L387.2 189.3 L387.5 190 L387.8 191.5 L388.1 191.1 L388.4 196.1 L388.7 207.5 L389 222.4 L389.3 236.7 L389.6 248.4 L389.9 255.6 L390.2 261.2 L390.5 264.6 L390.8 267.8 L391.1 270.2 L391.4 273.2 L391.7 275.1 L392 277.8 L392.3 278.4 L392.6 281.9 L392.9 284.7 L393.2 289.9 L393.5 291 L393.8 292.6 L394.1 293.9 L394.4 294.1 L394.7 295.4 L395 298.7 L395.3 302.4 L395.6 304.5 L395.9 306.2 L396.2 306.5 L396.5 305.6 L396.8 305 L397.1 304.5 L397.4 305.4 L397.7 306.5 L398 308.6 L398.3 309.4 L398.6 309.9 L398.9 309.3 L399.2 308.5 L399.5 308.2 L399.8 307.5 L400.1 308.4 L400.4 310.8 L400.7 311.9 L401 313.3 L401.3 312.8 L401.6 313.4 L401.9 312.3 L402.2 311.8 L402.5 311.4 L402.8 313.9 L403.1 313.4 L403.4 316.5 L403.7 316.1 L404 314.8 L404.3 313.9 L404.6 313.4 L404.9 313.3 L405.2 313.6 L405.5 315 L405.8 316 L406.1 317.3 L406.4 316.4 L406.7 317 L407 314.8 L407.3 314.1 L407.6 314.3 L407.9 314.4 L408.2 315.8 L408.5 316.8 L408.8 317.8 L409.1 317.2 L409.4 316.9 L409.7 315.9 L410 315 L410.3 315.4 L410.6 315.9 L410.9 317 L411.2 319.3 L411.5 319.2 L411.8 319.3 L412.1 317.9 L412.4 315.7 L412.7 315.1 L413 316.4 L413.3 317.7 L413.6 318.9 L413.9 319.4 L414.2 319.8 L414.5 319.8 L414.8 318.1 L415.1 317.3 L415.4 316.9 L415.7 317.3 L416 319 L416.3 319.5 L416.6 320.5 L416.9 320.7 L417.2 319.7 L417.5 319 L417.8 317.7 L418.1 318.3 L418.4 319 L418.7 320 L419 321.7 L419.3 322.2 L419.6 321.7 L419.9 320.2 L420.2 319.8 L420.5 319.1 L420.8 319.1 L421.1 319.8 L421.4 322 L421.7 323.7 L422 323.2 L422.3 322.2 L422.6 321.7 L422.9 320.1 L423.2 320.1 L423.5 321.3 L423.8 322.3 L424.1 324 L424.4 323.8 L424.7 324.4 L425 322.7 L425.3 321.5 L425.6 320.5 L425.9 321 L426.2 322.8 L426.5 323.3 L426.8 325.4 L427.1 325.5 L427.4 325.1 L427.7 324.5 L428 323.7 L428.3 322.4 L428.6 322.4 L428.9 323.8 L429.2 323.7 L429.5 323.9 L429.8 322.3 L430.1 320.3 L430.4 317.6 L430.7 314.9 L431 312.5 L431.3 312.3 L431.6 313.4 L431.9 314.1 L432.2 314.8 L432.5 313.8 L432.8 310.5 L433.1 309.9 L433.4 307.8 L433.7 307.5 L434 307.9 L434.3 308.5 L434.6 308.7 L434.9 309 L435.2 308.4 L435.5 306.8 L435.8 305.2 L436.1 305.3 L436.4 305.9 L436.7 305.2 L437 307.8 L437.3 308.6 L437.6 308.2 L437.9 306.9 L438.2 302.5 L438.5 298.2 L438.8 294.3 L439.1 292.9 L439.4 287.3 L439.7 281.9 L440 275.8 L440.3 269.9 L440.6 264.8 L440.9 259 L441.2 254.7 L441.5 250.3 L441.8 244.7 L442.1 242.7 L442.4 238.8 L442.7 235.5 L443 232.9 L443.3 230.6 L443.6 228.2 L443.9 224.6 L444.2 221.9 L444.5 219.1 L444.8 216.5 L445.1 212.8 L445.4 210.4 L445.7 207.1 L446 205 L446.3 201.6 L446.6 198.8 L446.9 198.9 L447.2 197.9 L447.5 194.9 L447.8 191.4 L448.1 190.6 L448.4 189.5 L448.7 191.3 L449 190.3 L449.3 190.1 L449.6 190.8 L449.9 190.3 L450.2 191.7 M536.3 193.8 L536.6 193.7 L536.9 191.9 L537.2 190 L537.5 191.3 L537.8 191.1 L538.1 192.1 L538.4 191.2 L538.7 189.7 L539 187.7 L539.3 187.8 L539.6 189.4 L539.9 191.4 L540.2 190.8 L540.5 189.4 L540.8 188.8 L541.1 188.5 L541.4 188.8 L541.7 189.9 L542 190.9 L542.3 191.4 L542.6 188.7 L542.9 189.9 L543.2 190.5 L543.5 191.1 L543.8 191 L544.1 191 L544.4 190.9 L544.7 190 L545 189 L545.3 189.7 L545.6 193.5 L545.9 191.1 L546.2 191.9 L546.5 190.6 L546.8 195.5 L547.1 202.7 L547.4 208.1 L547.7 219.8 L548 234.9 L548.3 242.5 L548.6 247.1 L548.9 252 L549.2 256.4 L549.5 261 L549.8 265 L550.1 269.2 L550.4 275.4 L550.7 279 L551 280.7 L551.3 281.9 L551.6 283.6 L551.9 285.2 L552.2 287.3 L552.5 288.3 L552.8 287.7 L553.1 289.2 L553.4 290.1 L553.7 292.6 L554 296.2 L554.3 298.7 L554.6 300.1 L554.9 301.3 L555.2 302.3 L555.5 302.3 L555.8 302.9 L556.1 304.6 L556.4 306.2 L556.7 307.7 L557 308.9 L557.3 308.8 L557.6 307.5 L557.9 306.9 L558.2 306.7 L558.5 306.7 L558.8 308.4 L559.1 309.4 L559.4 310.5 L559.7 310.8 L560 312.3 L560.3 310.8 L560.6 309.9 L560.9 309 L561.2 310.1 L561.5 311.1 L561.8 312.5 L562.1 314.3 L562.4 314.1 L562.7 313.5 L563 311.6 L563.3 312.1 L563.6 312.1 L563.9 312.9 L564.2 312.9 L564.5 316 L564.8 316.4 L565.1 316.8 L565.4 315 L565.7 313.8 L566 313.3 L566.3 313.4 L566.6 313.4 L566.9 314.6 L567.2 316.7 L567.5 317 L567.8 316.6 L568.1 316.3 L568.4 314.9 L568.7 313.7 L569 313.7 L569.3 315.5 L569.6 318.1 L569.9 318.1 L570.2 317.9 L570.5 317.7 L570.8 315 L571.1 315.1 L571.4 314.9 L571.7 315.9 L572 317 L572.3 318.1 L572.6 319.3 L572.9 319.3 L573.2 318.3 L573.5 316.9 L573.8 316.1 L574.1 317.1 L574.4 316.3 L574.7 318.8 L575 320.2 L575.3 319.9 L575.6 319.3 L575.9 318.4 L576.2 317 L576.5 317.1 L576.8 316.8 L577.1 318.6 L577.4 319.8 L577.7 321.7 L578 321.2 L578.3 321.4 L578.6 320.1 L578.9 317.5 L579.2 318.2 L579.5 318.3 L579.8 320.9 L580.1 321.4 L580.4 322.1 L580.7 322.1 L581 321.1 L581.3 319.7 L581.6 320 L581.9 319.5 L582.2 320.9 L582.5 321.1 L582.8 323.6 L583.1 323.9 L583.4 323.3 L583.7 321.1 L584 320.1 L584.3 320.2 L584.6 321.6 L584.9 322.7 L585.2 323.4 L585.5 324.6 L585.8 324.1 L586.1 324.9 L586.4 322.9 L586.7 322.2 L587 321.9 L587.3 322.9 L587.6 323.9 L587.9 325.3 L588.2 326.6 L588.5 325.5 L588.8 322.9 L589.1 321.3 L589.4 319.9 L589.7 319.2 L590 320 L590.3 318.5 L590.6 319.6 L590.9 319.6 L591.2 317.9 L591.5 315.2 L591.8 312.6 L592.1 311.3 L592.4 310.6 L592.7 311 L593 310.9 L593.3 310.3 L593.6 310.6 L593.9 309.5 L594.2 306.7 L594.5 306 L594.8 306.5 L595.1 306.6 L595.4 307.8 L595.7 308.9 L596 310.1 L596.3 309 L596.6 308.3 L596.9 305.2 L597.2 305.9 L597.5 304.1 L597.8 302.1 L598.1 302.4 L598.4 301.7 L598.7 300.2 L599 297.8 L599.3 295.2 L599.6 292.2 L599.9 288.1 L600.2 283.7 L600.5 277.8 L600.8 271.7 L601.1 266.5 L601.4 259.8 L601.7 253.7 L602 249 L602.3 242.7 L602.6 238.1 L602.9 234.4 L603.2 232.1 L603.5 228.2 L603.8 224.7 L604.1 221.5 L604.4 218.7 L604.7 215.2 L605 212.7 L605.3 210 L605.6 209.5 L605.9 207.2 L606.2 205.6 L606.5 203.3 L606.8 202.3 L607.1 198.9 L607.4 195.4 L607.7 194 L608 192.3 L608.3 190.7 L608.6 192.1 L608.9 190 L609.2 189.1 L609.5 189.7 L609.8 190.9 L610.1 191.1" stroke="#ff1a1a" stroke-width="1.25" stroke-dasharray="2 1.9"/>
<path d="M137.3 190.1 L137.6 189.1 L137.9 189.7 L138.2 189.9 L138.5 190.1 L138.8 190.7 L139.1 190.7 L139.4 191.3 L139.7 191.6 L140 191.8 L140.3 192.2 L140.6 192.6 L140.9 193.1 L141.2 193.4 L141.5 193.4 L141.8 193.9 L142.1 194.5 L142.4 194.7 L142.7 195.1 L143 195.4 L143.3 195.8 L143.6 196.2 L143.9 196.4 L144.2 196.5 L144.5 195.1 L144.8 191.2 L145.1 189.4 L145.4 190 L145.7 190.2 L146 190.6 L146.3 190.8 L146.6 191.4 L146.9 191.7 L147.2 192.1 L147.5 192.3 L147.8 192.6 L148.1 193.2 L148.4 193.5 L148.7 193.7 L149 194 L149.3 194.5 L149.6 194.7 L149.9 195.2 L150.2 195.4 L150.5 195.9 L150.8 196.2 L151.1 196.5 L151.4 196.9 L151.7 197.1 L152 194.5 L152.3 189.9 L152.6 188.7 L152.9 189 L153.2 189.3 L153.5 189.6 L153.8 190.1 L154.1 190.3 L154.4 190.7 L154.7 191.1 L155 191.4 L155.3 191.6 L155.6 192.1 L155.9 192.6 L156.2 192.6 L156.5 193.1 L156.8 193.3 L157.1 193.7 L157.4 193.9 L157.7 194.3 L158 194.6 L158.3 195 L158.6 195.3 L158.9 195.9 L159.2 195.9 L159.5 193.1 L159.8 189.5 L160.1 188.9 L160.4 189.3 L160.7 190 L161 190.1 L161.3 190.5 L161.6 190.6 L161.9 191.2 L162.2 191.6 L162.5 192.2 L162.8 192.6 L163.1 192.7 L163.4 193.3 L163.7 193.5 L164 193.8 L164.3 194.2 L164.6 194.5 L164.9 194.7 L165.2 195.3 L165.5 195.5 L165.8 196 L166.1 196.7 L166.4 196.6 L166.7 197.3 L167 192.7 L167.3 188.6 L167.6 189.1 L167.9 189.4 L168.2 189.9 L168.5 190.2 L168.8 190.4 L169.1 190.7 L169.4 191.2 L169.7 191.6 L170 192.1 L170.3 192 L170.6 192.7 L170.9 193 L171.2 193.2 L171.5 193.5 L171.8 193.9 L172.1 194.3 L172.4 194.9 L172.7 195.1 L173 195.4 L173.3 195.8 L173.6 196.2 L173.9 196.6 L174.2 196.2 L174.5 192.4 L174.8 189.4 L175.1 189.8 L175.4 190.1 L175.7 190.4 L176 190.8 L176.3 191.3 L176.6 191.6 L176.9 191.9 L177.2 192.4 L177.5 192.6 L177.8 193 L178.1 193.2 L178.4 193.8 L178.7 194 L179 194.2 L179.3 194.5 L179.6 195 L179.9 195.3 L180.2 195.5 L180.5 196 L180.8 196.3 L181.1 196.7 L181.4 196.9 L181.7 195.8 L182 191.6 L182.3 188.6 L182.6 188.9 L182.9 189.5 L183.2 189.6 L183.5 190.2 L183.8 190.5 L184.1 190.8 L184.4 191.3 L184.7 191.9 L185 191.9 L185.3 192.2 L185.6 192.9 L185.9 193 L186.2 193.5 L186.5 193.8 L186.8 194.2 L187.1 194.7 L187.4 194.9 L187.7 195.3 L188 195.8 L188.3 196.2 L188.6 196.7 L188.9 196.9 L189.2 195.2 L189.5 191.2 L189.8 189.3 L190.1 189.7 L190.4 189.9 L190.7 190.1 L191 190.7 L191.3 190.8 L191.6 191.3 L191.9 191.5 L192.2 191.8 L192.5 192.3 L192.8 192.5 L193.1 193 L193.4 193.3 L193.7 193.7 L194 194.2 L194.3 194.5 L194.6 194.7 L194.9 195.2 L195.2 195.5 L195.5 195.7 L195.8 195.9 L196.1 196.4 L196.4 197 L196.7 194.3 L197 190.5 L197.3 189.6 L197.6 189.7 L197.9 190.2 L198.2 190.2 L198.5 190.7 L198.8 190.9 L199.1 191.5 L199.4 191.9 L199.7 192.1 L200 192.5 L200.3 193.3 L200.6 193.3 L200.9 193.7 L201.2 193.9 L201.5 194.3 L201.8 194.7 L202.1 195 L202.4 195.4 L202.7 195.7 L203 195.9 L203.3 196.5 L203.6 196.8 L203.9 197.2 L204.2 194.2 L204.5 190.7 L204.8 190.1 L205.1 190.4 L205.4 190.9 L205.7 191 L206 191.5 L206.3 191.6 L206.6 192 L206.9 192.2 L207.2 192.6 L207.5 193.2 L207.8 193.5 L208.1 193.6 L208.4 194 L208.7 194.4 L209 194.4 L209.3 194.8 L209.6 195.2 L209.9 195.3 L210.2 195.7 L210.5 196.1 L210.8 196.4 L211.1 196.7 L211.4 196.8 L211.7 193 L212 188.7 L212.3 189.4 L212.6 190.1 L212.9 190.6 L213.2 191.5 L213.5 191.7 L213.8 192.5 L214.1 193.2 L214.4 194 L214.7 194.4 L215 195.2 L215.3 195.8 L215.6 196.6 L215.9 196.2 L216.2 194.6 L216.5 193.1 M296 190.2 L296.3 191.7 L296.6 191.9 L296.9 192.5 L297.2 192.8 L297.5 193.3 L297.8 193.3 L298.1 193.8 L298.4 194.3 L298.7 194.6 L299 194.7 L299.3 195 L299.6 195.5 L299.9 196.2 L300.2 196.2 L300.5 196.5 L300.8 197 L301.1 194.7 L301.4 191.2 L301.7 189.9 L302 190.3 L302.3 190.7 L302.6 190.9 L302.9 191.3 L303.2 191.5 L303.5 191.8 L303.8 192.2 L304.1 192.5 L304.4 192.8 L304.7 193.2 L305 193.5 L305.3 194 L305.6 194.4 L305.9 194.4 L306.2 195 L306.5 195.2 L306.8 195.2 L307.1 195.8 L307.4 195.9 L307.7 196.5 L308 194.2 L308.3 191 L308.6 190.1 L308.9 190.1 L309.2 190.4 L309.5 190.9 L309.8 191 L310.1 191.4 L310.4 191.8 L310.7 200.5 L311 206.5 L311.3 204.5 L311.6 198.5 L311.9 193.3 L312.2 193.5 L312.5 193.6 L312.8 194.2 L313.1 194.5 L313.4 194.9 L313.7 195.1 L314 195.3 L314.3 195.6 L314.6 196 L314.9 193.8 L315.2 190.5 L315.5 189.8 L315.8 190.1 L316.1 190.5 L316.4 190.6 L316.7 191 L317 191.2 L317.3 191.5 L317.6 192 L317.9 192.4 L318.2 192.4 L318.5 192.8 L318.8 193 L319.1 193.2 L319.4 193.6 L319.7 193.9 L320 194.2 L320.3 194.4 L320.6 194.9 L320.9 195.3 L321.2 195.4 L321.5 195.8 L321.8 193.9 L322.1 191 L322.4 190.1 L322.7 190.5 L323 190.7 L323.3 190.9 L323.6 191.2 L323.9 191.6 L324.2 191.8 L324.5 192.2 L324.8 192.6 L325.1 192.9 L325.4 193.2 L325.7 193.6 L326 194.1 L326.3 194 L326.6 194.4 L326.9 194.7 L327.2 195.2 L327.5 195.5 L327.8 195.6 L328.1 196.1 L328.4 196.2 L328.7 194.2 L329 190.8 L329.3 189.9 L329.6 190 L329.9 190.5 L330.2 190.8 L330.5 191.2 L330.8 191.4 L331.1 191.7 L331.4 191.9 L331.7 192.3 L332 192.7 L332.3 192.9 L332.6 193.3 L332.9 193.4 L333.2 193.6 L333.5 194.1 L333.8 194.5 L334.1 194.8 L334.4 194.9 L334.7 195.5 L335 195.7 L335.3 196 L335.6 193.7 L335.9 190.7 L336.2 189.8 L336.5 190.3 L336.8 190.3 L337.1 190.6 L337.4 191.1 L337.7 191.4 L338 191.7 L338.3 191.8 L338.6 192.1 L338.9 192.6 L339.2 192.9 L339.5 193.3 L339.8 193.4 L340.1 193.6 L340.4 194.2 L340.7 194.4 L341 194.7 L341.3 195.1 L341.6 195.2 L341.9 195.7 L342.2 195.9 L342.5 194 L342.8 190.8 L343.1 190 L343.4 190.1 L343.7 190.5 L344 190.7 L344.3 191.3 L344.6 191.6 L344.9 191.8 L345.2 192.2 L345.5 192.4 L345.8 192.6 L346.1 193.2 L346.4 193.3 L346.7 193.8 L347 194.2 L347.3 194.1 L347.6 194.6 L347.9 194.8 L348.2 195.2 L348.5 195.2 L348.8 195.8 L349.1 196 L349.4 194.1 L349.7 190.9 L350 190 L350.3 190.3 L350.6 190.6 L350.9 190.9 L351.2 191.1 L351.5 191.5 L351.8 191.9 L352.1 192.2 L352.4 192.6 L352.7 192.9 L353 193.4 L353.3 193.8 L353.6 193.8 L353.9 194.3 L354.2 194.6 L354.5 194.9 L354.8 195.3 L355.1 195.3 L355.4 196 L355.7 196.2 L356 196.3 L356.3 194.4 L356.6 191.4 L356.9 190.2 L357.2 190.7 L357.5 191 L357.8 191.1 L358.1 191.3 L358.4 191.7 L358.7 192.1 L359 192.4 L359.3 192.5 L359.6 192.6 L359.9 193.2 L360.2 193.1 L360.5 193.5 L360.8 193.9 L361.1 194.2 L361.4 194.3 L361.7 194.7 L362 195.1 L362.3 195.3 L362.6 195.4 L362.9 195.9 L363.2 193.8 L363.5 190.4 L363.8 189.6 L364.1 190.2 L364.4 190.3 L364.7 190.7 L365 190.9 L365.3 191.2 L365.6 191.5 L365.9 191.8 L366.2 192.2 L366.5 192.6 L366.8 192.8 L367.1 193 L367.4 193.3 L367.7 193.4 L368 194.1 L368.3 194.2 L368.6 194.4 L368.9 194.7 L369.2 195.3 L369.5 195.4 L369.8 195.9 L370.1 194 L370.4 191.1 L370.7 190.3 L371 190.3 L371.3 191.1 L371.6 191.1 L371.9 191.8 L372.2 192 L372.5 192.2 L372.8 192.5 L373.1 192.8 L373.4 193.3 L373.7 193.7 L374 193.8 L374.3 194.1 L374.6 194.8 L374.9 195 L375.2 195.1 L375.5 195.8 L375.8 196.1 L376.1 194.5 L376.4 193.1 L376.7 192.8 M449.9 190.3 L450.2 191.7 L450.5 191.9 L450.8 192.2 L451.1 192.6 L451.4 192.8 L451.7 193.2 L452 193.6 L452.3 193.7 L452.6 193.9 L452.9 194.5 L453.2 194.7 L453.5 195.1 L453.8 195.4 L454.1 195.6 L454.4 196 L454.7 196.2 L455 194.2 L455.3 190.8 L455.6 190 L455.9 190.4 L456.2 190.6 L456.5 190.8 L456.8 191.2 L457.1 191.5 L457.4 191.8 L457.7 192.2 L458 192.3 L458.3 192.7 L458.6 193.2 L458.9 193.6 L459.2 193.8 L459.5 194.1 L459.8 194.6 L460.1 194.8 L460.4 195.3 L460.7 195.5 L461 195.7 L461.3 195.9 L461.6 196.5 L461.9 192.9 L462.2 189.4 L462.5 189.5 L462.8 189.8 L463.1 190.5 L463.4 190.7 L463.7 190.7 L464 191.5 L464.3 191.6 L464.6 192.3 L464.9 192.6 L465.2 192.6 L465.5 193.2 L465.8 193.5 L466.1 194 L466.4 194.1 L466.7 194.4 L467 195.1 L467.3 195.1 L467.6 195.7 L467.9 196.1 L468.2 196.5 L468.5 195.5 L468.8 192 L469.1 189.6 L469.4 189.8 L469.7 190.1 L470 190.4 L470.3 190.9 L470.6 191.4 L470.9 191.6 L471.2 191.9 L471.5 192.1 L471.8 192.3 L472.1 192.9 L472.4 193.2 L472.7 193.7 L473 193.9 L473.3 194.4 L473.6 194.7 L473.9 195 L474.2 195.4 L474.5 195.7 L474.8 196.1 L475.1 196.3 L475.4 194.3 L475.7 190.5 L476 189.8 L476.3 190.2 L476.6 190.6 L476.9 190.9 L477.2 191.4 L477.5 191.6 L477.8 192.3 L478.1 192.3 L478.4 192.5 L478.7 192.8 L479 193.2 L479.3 193.8 L479.6 193.9 L479.9 194.3 L480.2 195 L480.5 195 L480.8 195.6 L481.1 196.1 L481.4 196.5 L481.7 196.7 L482 196.9 L482.3 193.2 L482.6 189.8 L482.9 190.1 L483.2 190.2 L483.5 190.7 L483.8 191 L484.1 191.2 L484.4 191.7 L484.7 191.8 L485 192.3 L485.3 192.6 L485.6 192.9 L485.9 193.2 L486.2 193.7 L486.5 193.8 L486.8 194.1 L487.1 194.4 L487.4 194.8 L487.7 195.2 L488 195.4 L488.3 196 L488.6 196.2 L488.9 195.2 L489.2 191.1 L489.5 188.8 L489.8 189.4 L490.1 189.7 L490.4 190 L490.7 190.5 L491 190.8 L491.3 191.1 L491.6 191.5 L491.9 191.9 L492.2 192.2 L492.5 192.9 L492.8 193.3 L493.1 193.4 L493.4 193.8 L493.7 194.5 L494 194.6 L494.3 195 L494.6 195.4 L494.9 195.8 L495.2 196.1 L495.5 196.6 L495.8 193.7 L496.1 189.8 L496.4 188.8 L496.7 189 L497 189.4 L497.3 190.1 L497.6 190.2 L497.9 190.6 L498.2 191.2 L498.5 191.4 L498.8 191.7 L499.1 192.3 L499.4 192.7 L499.7 193.1 L500 193.5 L500.3 193.9 L500.6 194.4 L500.9 194.5 L501.2 195.3 L501.5 195.6 L501.8 196 L502.1 196.4 L502.4 197 L502.7 193.2 L503 189.8 L503.3 189.6 L503.6 190.3 L503.9 190.6 L504.2 190.5 L504.5 191.2 L504.8 191.4 L505.1 191.7 L505.4 192.1 L505.7 192.4 L506 192.7 L506.3 192.9 L506.6 193.5 L506.9 193.7 L507.2 194.1 L507.5 194.6 L507.8 194.5 L508.1 194.8 L508.4 195.2 L508.7 195.6 L509 196.1 L509.3 195.1 L509.6 191.8 L509.9 189.8 L510.2 189.7 L510.5 190.2 L510.8 190.5 L511.1 191 L511.4 191.1 L511.7 191.8 L512 191.9 L512.3 192.2 L512.6 192.5 L512.9 192.8 L513.2 193.2 L513.5 193.5 L513.8 194 L514.1 194.2 L514.4 194.6 L514.7 194.9 L515 195.4 L515.3 195.7 L515.6 195.8 L515.9 196.4 L516.2 194.1 L516.5 190.7 L516.8 190.1 L517.1 190.1 L517.4 190.5 L517.7 190.7 L518 191 L518.3 191.6 L518.6 191.7 L518.9 192.4 L519.2 192.7 L519.5 192.8 L519.8 193 L520.1 193.4 L520.4 193.7 L520.7 194.2 L521 194.2 L521.3 194.7 L521.6 195 L521.9 195.4 L522.2 195.7 L522.5 195.9 L522.8 196.4 L523.1 192.5 L523.4 189.1 L523.7 189.4 L524 189.7 L524.3 190.2 L524.6 190.3 L524.9 190.6 L525.2 191.2 L525.5 191.5 L525.8 191.8 L526.1 192.1 L526.4 192.6 L526.7 193 L527 193.2 L527.3 193.5 L527.6 194.1 L527.9 194.2 L528.2 194.8 L528.5 195.2 L528.8 195.3 L529.1 196 L529.4 196.1 L529.7 195.2 L530 191.7 L530.3 189.6 L530.6 190 L530.9 190.3 L531.2 190.5 L531.5 190.9 L531.8 191.1 L532.1 191.6 L532.4 192.1 L532.7 192.4 L533 192.7 L533.3 193.2 L533.6 193.4 L533.9 193.9 L534.2 194.3 L534.5 194.7 L534.8 195.1 L535.1 195.2 L535.4 195.7 L535.7 195.9 L536 195.6 L536.3 193.8 L536.6 193.7 M609.8 190.9 L610.1 191.1 L610.4 191.5 L610.7 191.8 L611 192.3 L611.3 192.6 L611.6 193 L611.9 193.1 L612.2 193.5 L612.5 193.9 L612.8 194.2 L613.1 194.5 L613.4 195 L613.7 195.2 L614 195.2 L614.3 195.8 L614.6 196.2 L614.9 193.4 L615.2 190 L615.5 189.7 L615.8 190.2 L616.1 190.3 L616.4 190.8 L616.7 191.2 L617 191.6 L617.3 192.1 L617.6 192 L617.9 192.4 L618.2 192.9 L618.5 193.2 L618.8 193.6 L619.1 193.8 L619.4 194.2 L619.7 194.8 L620 195 L620.3 195.3 L620.6 195.7 L620.9 196.2 L621.2 196.3 L621.5 192.5 L621.8 188.5 L622.1 189 L622.4 189.5 L622.7 189.9 L623 190.1 L623.3 190.4 L623.6 190.9 L623.9 191.1 L624.2 191.6 L624.5 192.1 L624.8 192.5 L625.1 193 L625.4 193.2 L625.7 193.5 L626 194 L626.3 194.3 L626.6 194.8 L626.9 195.2 L627.2 195.2 L627.5 195.8 L627.8 195.8 L628.1 191.9 L628.4 188.6 L628.7 188.7 L629 189.5 L629.3 189.9 L629.6 190.2 L629.9 190.7 L630.2 191.1 L630.5 191.5 L630.8 191.8 L631.1 192.2 L631.4 192.7 L631.7 193 L632 193.3 L632.3 193.7 L632.6 194.3 L632.9 194.6 L633.2 195 L633.5 195.4 L633.8 196 L634.1 196.1 L634.4 195.1 L634.7 191.7 L635 189.3 L635.3 189.9 L635.6 190 L635.9 190.3 L636.2 190.8 L636.5 191.2 L636.8 191.6 L637.1 191.9 L637.4 192.5 L637.7 192.6 L638 193 L638.3 193.3 L638.6 193.5 L638.9 193.9 L639.2 194.3 L639.5 194.8 L639.8 195 L640.1 195.7 L640.4 195.9 L640.7 196.1 L641 194.4 L641.3 190.5 L641.6 188.6 L641.9 189 L642.2 189.4 L642.5 189.9 L642.8 190.5 L643.1 190.4 L643.4 191.1 L643.7 191.5 L644 191.8 L644.3 192.6 L644.6 192.7 L644.9 192.9 L645.2 193.6 L645.5 193.8 L645.8 194.4 L646.1 194.7 L646.4 195.3 L646.7 195.4 L647 196 L647.3 196.5 L647.6 193.8 L647.9 189.7 L648.2 195.3" stroke="#ff1a1a" stroke-width="1.2" stroke-dasharray="3.6 1.3"/>
</g>
<line x1="37.5" y1="0.9" x2="37.5" y2="149.5" stroke="#747474" stroke-width="1.1"/>
<line x1="648.5" y1="0.9" x2="648.5" y2="149.5" stroke="#747474" stroke-width="1.1"/>
<line x1="37.5" y1="149.5" x2="652" y2="149.5" stroke="#808080" stroke-width="1"/>
<line x1="34.6" y1="148.1" x2="37.5" y2="148.1" stroke="#505050" stroke-width="1"/>
<line x1="34.6" y1="145.1" x2="37.5" y2="145.1" stroke="#505050" stroke-width="1"/>
<line x1="34.6" y1="142.2" x2="37.5" y2="142.2" stroke="#505050" stroke-width="1"/>
<line x1="31" y1="139.2" x2="37.5" y2="139.2" stroke="#505050" stroke-width="1"/>
<line x1="34.6" y1="136.2" x2="37.5" y2="136.2" stroke="#505050" stroke-width="1"/>
<line x1="34.6" y1="133.3" x2="37.5" y2="133.3" stroke="#505050" stroke-width="1"/>
<line x1="34.6" y1="130.3" x2="37.5" y2="130.3" stroke="#505050" stroke-width="1"/>
<line x1="34.6" y1="127.3" x2="37.5" y2="127.3" stroke="#505050" stroke-width="1"/>
<line x1="33.1" y1="124.3" x2="37.5" y2="124.3" stroke="#505050" stroke-width="1"/>
<line x1="34.6" y1="121.4" x2="37.5" y2="121.4" stroke="#505050" stroke-width="1"/>
<line x1="34.6" y1="118.4" x2="37.5" y2="118.4" stroke="#505050" stroke-width="1"/>
<line x1="34.6" y1="115.4" x2="37.5" y2="115.4" stroke="#505050" stroke-width="1"/>
<line x1="34.6" y1="112.5" x2="37.5" y2="112.5" stroke="#505050" stroke-width="1"/>
<line x1="31" y1="109.5" x2="37.5" y2="109.5" stroke="#505050" stroke-width="1"/>
<line x1="34.6" y1="106.5" x2="37.5" y2="106.5" stroke="#505050" stroke-width="1"/>
<line x1="34.6" y1="103.6" x2="37.5" y2="103.6" stroke="#505050" stroke-width="1"/>
<line x1="34.6" y1="100.6" x2="37.5" y2="100.6" stroke="#505050" stroke-width="1"/>
<line x1="34.6" y1="97.6" x2="37.5" y2="97.6" stroke="#505050" stroke-width="1"/>
<line x1="33.1" y1="94.6" x2="37.5" y2="94.6" stroke="#505050" stroke-width="1"/>
<line x1="34.6" y1="91.7" x2="37.5" y2="91.7" stroke="#505050" stroke-width="1"/>
<line x1="34.6" y1="88.7" x2="37.5" y2="88.7" stroke="#505050" stroke-width="1"/>
<line x1="34.6" y1="85.7" x2="37.5" y2="85.7" stroke="#505050" stroke-width="1"/>
<line x1="34.6" y1="82.8" x2="37.5" y2="82.8" stroke="#505050" stroke-width="1"/>
<line x1="31" y1="79.8" x2="37.5" y2="79.8" stroke="#505050" stroke-width="1"/>
<line x1="34.6" y1="76.8" x2="37.5" y2="76.8" stroke="#505050" stroke-width="1"/>
<line x1="34.6" y1="73.9" x2="37.5" y2="73.9" stroke="#505050" stroke-width="1"/>
<line x1="34.6" y1="70.9" x2="37.5" y2="70.9" stroke="#505050" stroke-width="1"/>
<line x1="34.6" y1="67.9" x2="37.5" y2="67.9" stroke="#505050" stroke-width="1"/>
<line x1="33.1" y1="64.9" x2="37.5" y2="64.9" stroke="#505050" stroke-width="1"/>
<line x1="34.6" y1="62" x2="37.5" y2="62" stroke="#505050" stroke-width="1"/>
<line x1="34.6" y1="59" x2="37.5" y2="59" stroke="#505050" stroke-width="1"/>
<line x1="34.6" y1="56" x2="37.5" y2="56" stroke="#505050" stroke-width="1"/>
<line x1="34.6" y1="53.1" x2="37.5" y2="53.1" stroke="#505050" stroke-width="1"/>
<line x1="31" y1="50.1" x2="37.5" y2="50.1" stroke="#505050" stroke-width="1"/>
<line x1="34.6" y1="47.1" x2="37.5" y2="47.1" stroke="#505050" stroke-width="1"/>
<line x1="34.6" y1="44.2" x2="37.5" y2="44.2" stroke="#505050" stroke-width="1"/>
<line x1="34.6" y1="41.2" x2="37.5" y2="41.2" stroke="#505050" stroke-width="1"/>
<line x1="34.6" y1="38.2" x2="37.5" y2="38.2" stroke="#505050" stroke-width="1"/>
<line x1="33.1" y1="35.2" x2="37.5" y2="35.2" stroke="#505050" stroke-width="1"/>
<line x1="34.6" y1="32.3" x2="37.5" y2="32.3" stroke="#505050" stroke-width="1"/>
<line x1="34.6" y1="29.3" x2="37.5" y2="29.3" stroke="#505050" stroke-width="1"/>
<line x1="34.6" y1="26.3" x2="37.5" y2="26.3" stroke="#505050" stroke-width="1"/>
<line x1="34.6" y1="23.4" x2="37.5" y2="23.4" stroke="#505050" stroke-width="1"/>
<line x1="31" y1="20.4" x2="37.5" y2="20.4" stroke="#505050" stroke-width="1"/>
<line x1="34.6" y1="17.4" x2="37.5" y2="17.4" stroke="#505050" stroke-width="1"/>
<line x1="34.6" y1="14.5" x2="37.5" y2="14.5" stroke="#505050" stroke-width="1"/>
<line x1="34.6" y1="11.5" x2="37.5" y2="11.5" stroke="#505050" stroke-width="1"/>
<line x1="34.6" y1="8.5" x2="37.5" y2="8.5" stroke="#505050" stroke-width="1"/>
<line x1="33.1" y1="5.5" x2="37.5" y2="5.5" stroke="#505050" stroke-width="1"/>
<line x1="34.6" y1="2.6" x2="37.5" y2="2.6" stroke="#505050" stroke-width="1"/>
<line x1="648.5" y1="144.1" x2="651.9" y2="144.1" stroke="#505050" stroke-width="1"/>
<line x1="648.5" y1="138.1" x2="655" y2="138.1" stroke="#505050" stroke-width="1"/>
<line x1="648.5" y1="132.1" x2="651.9" y2="132.1" stroke="#505050" stroke-width="1"/>
<line x1="648.5" y1="126.1" x2="651.9" y2="126.1" stroke="#505050" stroke-width="1"/>
<line x1="648.5" y1="120.1" x2="651.9" y2="120.1" stroke="#505050" stroke-width="1"/>
<line x1="648.5" y1="114.1" x2="651.9" y2="114.1" stroke="#505050" stroke-width="1"/>
<line x1="648.5" y1="108.2" x2="655" y2="108.2" stroke="#505050" stroke-width="1"/>
<line x1="648.5" y1="102.2" x2="651.9" y2="102.2" stroke="#505050" stroke-width="1"/>
<line x1="648.5" y1="96.2" x2="651.9" y2="96.2" stroke="#505050" stroke-width="1"/>
<line x1="648.5" y1="90.2" x2="651.9" y2="90.2" stroke="#505050" stroke-width="1"/>
<line x1="648.5" y1="84.2" x2="651.9" y2="84.2" stroke="#505050" stroke-width="1"/>
<line x1="648.5" y1="78.2" x2="655" y2="78.2" stroke="#505050" stroke-width="1"/>
<line x1="648.5" y1="72.2" x2="651.9" y2="72.2" stroke="#505050" stroke-width="1"/>
<line x1="648.5" y1="66.2" x2="651.9" y2="66.2" stroke="#505050" stroke-width="1"/>
<line x1="648.5" y1="60.2" x2="651.9" y2="60.2" stroke="#505050" stroke-width="1"/>
<line x1="648.5" y1="54.2" x2="651.9" y2="54.2" stroke="#505050" stroke-width="1"/>
<line x1="648.5" y1="48.2" x2="655" y2="48.2" stroke="#505050" stroke-width="1"/>
<line x1="648.5" y1="42.3" x2="651.9" y2="42.3" stroke="#505050" stroke-width="1"/>
<line x1="648.5" y1="36.3" x2="651.9" y2="36.3" stroke="#505050" stroke-width="1"/>
<line x1="648.5" y1="30.3" x2="651.9" y2="30.3" stroke="#505050" stroke-width="1"/>
<line x1="648.5" y1="24.3" x2="651.9" y2="24.3" stroke="#505050" stroke-width="1"/>
<line x1="648.5" y1="18.3" x2="655" y2="18.3" stroke="#505050" stroke-width="1"/>
<line x1="648.5" y1="12.3" x2="651.9" y2="12.3" stroke="#505050" stroke-width="1"/>
<line x1="648.5" y1="6.3" x2="651.9" y2="6.3" stroke="#505050" stroke-width="1"/>
<line x1="37.7" y1="149.5" x2="37.7" y2="156.5" stroke="#555" stroke-width="1"/>
<line x1="42.9" y1="149.5" x2="42.9" y2="151.7" stroke="#555" stroke-width="1"/>
<line x1="48.1" y1="149.5" x2="48.1" y2="151.7" stroke="#555" stroke-width="1"/>
<line x1="53.3" y1="149.5" x2="53.3" y2="151.7" stroke="#555" stroke-width="1"/>
<line x1="58.4" y1="149.5" x2="58.4" y2="151.7" stroke="#555" stroke-width="1"/>
<line x1="63.6" y1="149.5" x2="63.6" y2="152.8" stroke="#555" stroke-width="1"/>
<line x1="68.8" y1="149.5" x2="68.8" y2="151.7" stroke="#555" stroke-width="1"/>
<line x1="74" y1="149.5" x2="74" y2="151.7" stroke="#555" stroke-width="1"/>
<line x1="79.2" y1="149.5" x2="79.2" y2="151.7" stroke="#555" stroke-width="1"/>
<line x1="84.4" y1="149.5" x2="84.4" y2="151.7" stroke="#555" stroke-width="1"/>
<line x1="89.6" y1="149.5" x2="89.6" y2="154.5" stroke="#555" stroke-width="1"/>
<line x1="94.8" y1="149.5" x2="94.8" y2="151.7" stroke="#555" stroke-width="1"/>
<line x1="99.9" y1="149.5" x2="99.9" y2="151.7" stroke="#555" stroke-width="1"/>
<line x1="105.1" y1="149.5" x2="105.1" y2="151.7" stroke="#555" stroke-width="1"/>
<line x1="110.3" y1="149.5" x2="110.3" y2="151.7" stroke="#555" stroke-width="1"/>
<line x1="115.5" y1="149.5" x2="115.5" y2="152.8" stroke="#555" stroke-width="1"/>
<line x1="120.7" y1="149.5" x2="120.7" y2="151.7" stroke="#555" stroke-width="1"/>
<line x1="125.9" y1="149.5" x2="125.9" y2="151.7" stroke="#555" stroke-width="1"/>
<line x1="131.1" y1="149.5" x2="131.1" y2="151.7" stroke="#555" stroke-width="1"/>
<line x1="136.3" y1="149.5" x2="136.3" y2="151.7" stroke="#555" stroke-width="1"/>
<line x1="141.4" y1="149.5" x2="141.4" y2="156.5" stroke="#555" stroke-width="1"/>
<line x1="146.6" y1="149.5" x2="146.6" y2="151.7" stroke="#555" stroke-width="1"/>
<line x1="151.8" y1="149.5" x2="151.8" y2="151.7" stroke="#555" stroke-width="1"/>
<line x1="157" y1="149.5" x2="157" y2="151.7" stroke="#555" stroke-width="1"/>
<line x1="162.2" y1="149.5" x2="162.2" y2="151.7" stroke="#555" stroke-width="1"/>
<line x1="167.4" y1="149.5" x2="167.4" y2="152.8" stroke="#555" stroke-width="1"/>
<line x1="172.6" y1="149.5" x2="172.6" y2="151.7" stroke="#555" stroke-width="1"/>
<line x1="177.7" y1="149.5" x2="177.7" y2="151.7" stroke="#555" stroke-width="1"/>
<line x1="182.9" y1="149.5" x2="182.9" y2="151.7" stroke="#555" stroke-width="1"/>
<line x1="188.1" y1="149.5" x2="188.1" y2="151.7" stroke="#555" stroke-width="1"/>
<line x1="193.3" y1="149.5" x2="193.3" y2="154.5" stroke="#555" stroke-width="1"/>
<line x1="198.5" y1="149.5" x2="198.5" y2="151.7" stroke="#555" stroke-width="1"/>
<line x1="203.7" y1="149.5" x2="203.7" y2="151.7" stroke="#555" stroke-width="1"/>
<line x1="208.9" y1="149.5" x2="208.9" y2="151.7" stroke="#555" stroke-width="1"/>
<line x1="214.1" y1="149.5" x2="214.1" y2="151.7" stroke="#555" stroke-width="1"/>
<line x1="219.2" y1="149.5" x2="219.2" y2="152.8" stroke="#555" stroke-width="1"/>
<line x1="224.4" y1="149.5" x2="224.4" y2="151.7" stroke="#555" stroke-width="1"/>
<line x1="229.6" y1="149.5" x2="229.6" y2="151.7" stroke="#555" stroke-width="1"/>
<line x1="234.8" y1="149.5" x2="234.8" y2="151.7" stroke="#555" stroke-width="1"/>
<line x1="240" y1="149.5" x2="240" y2="151.7" stroke="#555" stroke-width="1"/>
<line x1="245.2" y1="149.5" x2="245.2" y2="156.5" stroke="#555" stroke-width="1"/>
<line x1="250.4" y1="149.5" x2="250.4" y2="151.7" stroke="#555" stroke-width="1"/>
<line x1="255.6" y1="149.5" x2="255.6" y2="151.7" stroke="#555" stroke-width="1"/>
<line x1="260.7" y1="149.5" x2="260.7" y2="151.7" stroke="#555" stroke-width="1"/>
<line x1="265.9" y1="149.5" x2="265.9" y2="151.7" stroke="#555" stroke-width="1"/>
<line x1="271.1" y1="149.5" x2="271.1" y2="152.8" stroke="#555" stroke-width="1"/>
<line x1="276.3" y1="149.5" x2="276.3" y2="151.7" stroke="#555" stroke-width="1"/>
<line x1="281.5" y1="149.5" x2="281.5" y2="151.7" stroke="#555" stroke-width="1"/>
<line x1="286.7" y1="149.5" x2="286.7" y2="151.7" stroke="#555" stroke-width="1"/>
<line x1="291.9" y1="149.5" x2="291.9" y2="151.7" stroke="#555" stroke-width="1"/>
<line x1="297.1" y1="149.5" x2="297.1" y2="154.5" stroke="#555" stroke-width="1"/>
<line x1="302.2" y1="149.5" x2="302.2" y2="151.7" stroke="#555" stroke-width="1"/>
<line x1="307.4" y1="149.5" x2="307.4" y2="151.7" stroke="#555" stroke-width="1"/>
<line x1="312.6" y1="149.5" x2="312.6" y2="151.7" stroke="#555" stroke-width="1"/>
<line x1="317.8" y1="149.5" x2="317.8" y2="151.7" stroke="#555" stroke-width="1"/>
<line x1="323" y1="149.5" x2="323" y2="152.8" stroke="#555" stroke-width="1"/>
<line x1="328.2" y1="149.5" x2="328.2" y2="151.7" stroke="#555" stroke-width="1"/>
<line x1="333.4" y1="149.5" x2="333.4" y2="151.7" stroke="#555" stroke-width="1"/>
<line x1="338.5" y1="149.5" x2="338.5" y2="151.7" stroke="#555" stroke-width="1"/>
<line x1="343.7" y1="149.5" x2="343.7" y2="151.7" stroke="#555" stroke-width="1"/>
<line x1="348.9" y1="149.5" x2="348.9" y2="156.5" stroke="#555" stroke-width="1"/>
<line x1="354.1" y1="149.5" x2="354.1" y2="151.7" stroke="#555" stroke-width="1"/>
<line x1="359.3" y1="149.5" x2="359.3" y2="151.7" stroke="#555" stroke-width="1"/>
<line x1="364.5" y1="149.5" x2="364.5" y2="151.7" stroke="#555" stroke-width="1"/>
<line x1="369.7" y1="149.5" x2="369.7" y2="151.7" stroke="#555" stroke-width="1"/>
<line x1="374.9" y1="149.5" x2="374.9" y2="152.8" stroke="#555" stroke-width="1"/>
<line x1="380" y1="149.5" x2="380" y2="151.7" stroke="#555" stroke-width="1"/>
<line x1="385.2" y1="149.5" x2="385.2" y2="151.7" stroke="#555" stroke-width="1"/>
<line x1="390.4" y1="149.5" x2="390.4" y2="151.7" stroke="#555" stroke-width="1"/>
<line x1="395.6" y1="149.5" x2="395.6" y2="151.7" stroke="#555" stroke-width="1"/>
<line x1="400.8" y1="149.5" x2="400.8" y2="154.5" stroke="#555" stroke-width="1"/>
<line x1="406" y1="149.5" x2="406" y2="151.7" stroke="#555" stroke-width="1"/>
<line x1="411.2" y1="149.5" x2="411.2" y2="151.7" stroke="#555" stroke-width="1"/>
<line x1="416.4" y1="149.5" x2="416.4" y2="151.7" stroke="#555" stroke-width="1"/>
<line x1="421.5" y1="149.5" x2="421.5" y2="151.7" stroke="#555" stroke-width="1"/>
<line x1="426.7" y1="149.5" x2="426.7" y2="152.8" stroke="#555" stroke-width="1"/>
<line x1="431.9" y1="149.5" x2="431.9" y2="151.7" stroke="#555" stroke-width="1"/>
<line x1="437.1" y1="149.5" x2="437.1" y2="151.7" stroke="#555" stroke-width="1"/>
<line x1="442.3" y1="149.5" x2="442.3" y2="151.7" stroke="#555" stroke-width="1"/>
<line x1="447.5" y1="149.5" x2="447.5" y2="151.7" stroke="#555" stroke-width="1"/>
<line x1="452.7" y1="149.5" x2="452.7" y2="156.5" stroke="#555" stroke-width="1"/>
<line x1="457.8" y1="149.5" x2="457.8" y2="151.7" stroke="#555" stroke-width="1"/>
<line x1="463" y1="149.5" x2="463" y2="151.7" stroke="#555" stroke-width="1"/>
<line x1="468.2" y1="149.5" x2="468.2" y2="151.7" stroke="#555" stroke-width="1"/>
<line x1="473.4" y1="149.5" x2="473.4" y2="151.7" stroke="#555" stroke-width="1"/>
<line x1="478.6" y1="149.5" x2="478.6" y2="152.8" stroke="#555" stroke-width="1"/>
<line x1="483.8" y1="149.5" x2="483.8" y2="151.7" stroke="#555" stroke-width="1"/>
<line x1="489" y1="149.5" x2="489" y2="151.7" stroke="#555" stroke-width="1"/>
<line x1="494.2" y1="149.5" x2="494.2" y2="151.7" stroke="#555" stroke-width="1"/>
<line x1="499.3" y1="149.5" x2="499.3" y2="151.7" stroke="#555" stroke-width="1"/>
<line x1="504.5" y1="149.5" x2="504.5" y2="154.5" stroke="#555" stroke-width="1"/>
<line x1="509.7" y1="149.5" x2="509.7" y2="151.7" stroke="#555" stroke-width="1"/>
<line x1="514.9" y1="149.5" x2="514.9" y2="151.7" stroke="#555" stroke-width="1"/>
<line x1="520.1" y1="149.5" x2="520.1" y2="151.7" stroke="#555" stroke-width="1"/>
<line x1="525.3" y1="149.5" x2="525.3" y2="151.7" stroke="#555" stroke-width="1"/>
<line x1="530.5" y1="149.5" x2="530.5" y2="152.8" stroke="#555" stroke-width="1"/>
<line x1="535.7" y1="149.5" x2="535.7" y2="151.7" stroke="#555" stroke-width="1"/>
<line x1="540.8" y1="149.5" x2="540.8" y2="151.7" stroke="#555" stroke-width="1"/>
<line x1="546" y1="149.5" x2="546" y2="151.7" stroke="#555" stroke-width="1"/>
<line x1="551.2" y1="149.5" x2="551.2" y2="151.7" stroke="#555" stroke-width="1"/>
<line x1="556.4" y1="149.5" x2="556.4" y2="156.5" stroke="#555" stroke-width="1"/>
<line x1="561.6" y1="149.5" x2="561.6" y2="151.7" stroke="#555" stroke-width="1"/>
<line x1="566.8" y1="149.5" x2="566.8" y2="151.7" stroke="#555" stroke-width="1"/>
<line x1="572" y1="149.5" x2="572" y2="151.7" stroke="#555" stroke-width="1"/>
<line x1="577.1" y1="149.5" x2="577.1" y2="151.7" stroke="#555" stroke-width="1"/>
<line x1="582.3" y1="149.5" x2="582.3" y2="152.8" stroke="#555" stroke-width="1"/>
<line x1="587.5" y1="149.5" x2="587.5" y2="151.7" stroke="#555" stroke-width="1"/>
<line x1="592.7" y1="149.5" x2="592.7" y2="151.7" stroke="#555" stroke-width="1"/>
<line x1="597.9" y1="149.5" x2="597.9" y2="151.7" stroke="#555" stroke-width="1"/>
<line x1="603.1" y1="149.5" x2="603.1" y2="151.7" stroke="#555" stroke-width="1"/>
<line x1="608.3" y1="149.5" x2="608.3" y2="154.5" stroke="#555" stroke-width="1"/>
<line x1="613.5" y1="149.5" x2="613.5" y2="151.7" stroke="#555" stroke-width="1"/>
<line x1="618.6" y1="149.5" x2="618.6" y2="151.7" stroke="#555" stroke-width="1"/>
<line x1="623.8" y1="149.5" x2="623.8" y2="151.7" stroke="#555" stroke-width="1"/>
<line x1="629" y1="149.5" x2="629" y2="151.7" stroke="#555" stroke-width="1"/>
<line x1="634.2" y1="149.5" x2="634.2" y2="152.8" stroke="#555" stroke-width="1"/>
<line x1="639.4" y1="149.5" x2="639.4" y2="151.7" stroke="#555" stroke-width="1"/>
<line x1="644.6" y1="149.5" x2="644.6" y2="151.7" stroke="#555" stroke-width="1"/>
<line x1="37.5" y1="182.7" x2="37.5" y2="332.5" stroke="#747474" stroke-width="1.1"/>
<line x1="648.5" y1="182.7" x2="648.5" y2="332.5" stroke="#747474" stroke-width="1.1"/>
<line x1="37.5" y1="332.5" x2="652" y2="332.5" stroke="#808080" stroke-width="1"/>
<line x1="34.6" y1="330.8" x2="37.5" y2="330.8" stroke="#505050" stroke-width="1"/>
<line x1="34.6" y1="326.5" x2="37.5" y2="326.5" stroke="#505050" stroke-width="1"/>
<line x1="31" y1="322.2" x2="37.5" y2="322.2" stroke="#505050" stroke-width="1"/>
<line x1="34.6" y1="317.9" x2="37.5" y2="317.9" stroke="#505050" stroke-width="1"/>
<line x1="34.6" y1="313.6" x2="37.5" y2="313.6" stroke="#505050" stroke-width="1"/>
<line x1="34.6" y1="309.3" x2="37.5" y2="309.3" stroke="#505050" stroke-width="1"/>
<line x1="34.6" y1="305" x2="37.5" y2="305" stroke="#505050" stroke-width="1"/>
<line x1="33.1" y1="300.7" x2="37.5" y2="300.7" stroke="#505050" stroke-width="1"/>
<line x1="34.6" y1="296.4" x2="37.5" y2="296.4" stroke="#505050" stroke-width="1"/>
<line x1="34.6" y1="292.1" x2="37.5" y2="292.1" stroke="#505050" stroke-width="1"/>
<line x1="34.6" y1="287.8" x2="37.5" y2="287.8" stroke="#505050" stroke-width="1"/>
<line x1="34.6" y1="283.5" x2="37.5" y2="283.5" stroke="#505050" stroke-width="1"/>
<line x1="31" y1="279.2" x2="37.5" y2="279.2" stroke="#505050" stroke-width="1"/>
<line x1="34.6" y1="274.9" x2="37.5" y2="274.9" stroke="#505050" stroke-width="1"/>
<line x1="34.6" y1="270.6" x2="37.5" y2="270.6" stroke="#505050" stroke-width="1"/>
<line x1="34.6" y1="266.3" x2="37.5" y2="266.3" stroke="#505050" stroke-width="1"/>
<line x1="34.6" y1="262" x2="37.5" y2="262" stroke="#505050" stroke-width="1"/>
<line x1="33.1" y1="257.7" x2="37.5" y2="257.7" stroke="#505050" stroke-width="1"/>
<line x1="34.6" y1="253.4" x2="37.5" y2="253.4" stroke="#505050" stroke-width="1"/>
<line x1="34.6" y1="249.1" x2="37.5" y2="249.1" stroke="#505050" stroke-width="1"/>
<line x1="34.6" y1="244.8" x2="37.5" y2="244.8" stroke="#505050" stroke-width="1"/>
<line x1="34.6" y1="240.5" x2="37.5" y2="240.5" stroke="#505050" stroke-width="1"/>
<line x1="31" y1="236.2" x2="37.5" y2="236.2" stroke="#505050" stroke-width="1"/>
<line x1="34.6" y1="231.9" x2="37.5" y2="231.9" stroke="#505050" stroke-width="1"/>
<line x1="34.6" y1="227.6" x2="37.5" y2="227.6" stroke="#505050" stroke-width="1"/>
<line x1="34.6" y1="223.3" x2="37.5" y2="223.3" stroke="#505050" stroke-width="1"/>
<line x1="34.6" y1="219" x2="37.5" y2="219" stroke="#505050" stroke-width="1"/>
<line x1="33.1" y1="214.7" x2="37.5" y2="214.7" stroke="#505050" stroke-width="1"/>
<line x1="34.6" y1="210.4" x2="37.5" y2="210.4" stroke="#505050" stroke-width="1"/>
<line x1="34.6" y1="206.1" x2="37.5" y2="206.1" stroke="#505050" stroke-width="1"/>
<line x1="34.6" y1="201.8" x2="37.5" y2="201.8" stroke="#505050" stroke-width="1"/>
<line x1="34.6" y1="197.5" x2="37.5" y2="197.5" stroke="#505050" stroke-width="1"/>
<line x1="31" y1="193.2" x2="37.5" y2="193.2" stroke="#505050" stroke-width="1"/>
<line x1="34.6" y1="188.9" x2="37.5" y2="188.9" stroke="#505050" stroke-width="1"/>
<line x1="34.6" y1="184.6" x2="37.5" y2="184.6" stroke="#505050" stroke-width="1"/>
<line x1="648.5" y1="331.8" x2="651.9" y2="331.8" stroke="#505050" stroke-width="1"/>
<line x1="648.5" y1="325.8" x2="651.9" y2="325.8" stroke="#505050" stroke-width="1"/>
<line x1="648.5" y1="319.8" x2="655" y2="319.8" stroke="#505050" stroke-width="1"/>
<line x1="648.5" y1="313.8" x2="651.9" y2="313.8" stroke="#505050" stroke-width="1"/>
<line x1="648.5" y1="307.8" x2="651.9" y2="307.8" stroke="#505050" stroke-width="1"/>
<line x1="648.5" y1="301.9" x2="651.9" y2="301.9" stroke="#505050" stroke-width="1"/>
<line x1="648.5" y1="295.9" x2="651.9" y2="295.9" stroke="#505050" stroke-width="1"/>
<line x1="648.5" y1="289.9" x2="655" y2="289.9" stroke="#505050" stroke-width="1"/>
<line x1="648.5" y1="283.9" x2="651.9" y2="283.9" stroke="#505050" stroke-width="1"/>
<line x1="648.5" y1="277.9" x2="651.9" y2="277.9" stroke="#505050" stroke-width="1"/>
<line x1="648.5" y1="272" x2="651.9" y2="272" stroke="#505050" stroke-width="1"/>
<line x1="648.5" y1="266" x2="651.9" y2="266" stroke="#505050" stroke-width="1"/>
<line x1="648.5" y1="260" x2="655" y2="260" stroke="#505050" stroke-width="1"/>
<line x1="648.5" y1="254" x2="651.9" y2="254" stroke="#505050" stroke-width="1"/>
<line x1="648.5" y1="248" x2="651.9" y2="248" stroke="#505050" stroke-width="1"/>
<line x1="648.5" y1="242.1" x2="651.9" y2="242.1" stroke="#505050" stroke-width="1"/>
<line x1="648.5" y1="236.1" x2="651.9" y2="236.1" stroke="#505050" stroke-width="1"/>
<line x1="648.5" y1="230.1" x2="655" y2="230.1" stroke="#505050" stroke-width="1"/>
<line x1="648.5" y1="224.1" x2="651.9" y2="224.1" stroke="#505050" stroke-width="1"/>
<line x1="648.5" y1="218.1" x2="651.9" y2="218.1" stroke="#505050" stroke-width="1"/>
<line x1="648.5" y1="212.2" x2="651.9" y2="212.2" stroke="#505050" stroke-width="1"/>
<line x1="648.5" y1="206.2" x2="651.9" y2="206.2" stroke="#505050" stroke-width="1"/>
<line x1="648.5" y1="200.2" x2="655" y2="200.2" stroke="#505050" stroke-width="1"/>
<line x1="648.5" y1="194.2" x2="651.9" y2="194.2" stroke="#505050" stroke-width="1"/>
<line x1="648.5" y1="188.2" x2="651.9" y2="188.2" stroke="#505050" stroke-width="1"/>
<line x1="37.7" y1="332.5" x2="37.7" y2="339.5" stroke="#555" stroke-width="1"/>
<line x1="44.4" y1="332.5" x2="44.4" y2="335.1" stroke="#555" stroke-width="1"/>
<line x1="51.1" y1="332.5" x2="51.1" y2="335.1" stroke="#555" stroke-width="1"/>
<line x1="57.7" y1="332.5" x2="57.7" y2="335.1" stroke="#555" stroke-width="1"/>
<line x1="64.4" y1="332.5" x2="64.4" y2="335.1" stroke="#555" stroke-width="1"/>
<line x1="71.1" y1="332.5" x2="71.1" y2="335.1" stroke="#555" stroke-width="1"/>
<line x1="77.8" y1="332.5" x2="77.8" y2="336.4" stroke="#555" stroke-width="1"/>
<line x1="84.4" y1="332.5" x2="84.4" y2="335.1" stroke="#555" stroke-width="1"/>
<line x1="91.1" y1="332.5" x2="91.1" y2="335.1" stroke="#555" stroke-width="1"/>
<line x1="97.8" y1="332.5" x2="97.8" y2="335.1" stroke="#555" stroke-width="1"/>
<line x1="104.5" y1="332.5" x2="104.5" y2="335.1" stroke="#555" stroke-width="1"/>
<line x1="111.1" y1="332.5" x2="111.1" y2="335.1" stroke="#555" stroke-width="1"/>
<line x1="117.8" y1="332.5" x2="117.8" y2="338.2" stroke="#555" stroke-width="1"/>
<line x1="124.5" y1="332.5" x2="124.5" y2="335.1" stroke="#555" stroke-width="1"/>
<line x1="131.2" y1="332.5" x2="131.2" y2="335.1" stroke="#555" stroke-width="1"/>
<line x1="137.9" y1="332.5" x2="137.9" y2="335.1" stroke="#555" stroke-width="1"/>
<line x1="144.5" y1="332.5" x2="144.5" y2="335.1" stroke="#555" stroke-width="1"/>
<line x1="151.2" y1="332.5" x2="151.2" y2="335.1" stroke="#555" stroke-width="1"/>
<line x1="157.9" y1="332.5" x2="157.9" y2="336.4" stroke="#555" stroke-width="1"/>
<line x1="164.6" y1="332.5" x2="164.6" y2="335.1" stroke="#555" stroke-width="1"/>
<line x1="171.2" y1="332.5" x2="171.2" y2="335.1" stroke="#555" stroke-width="1"/>
<line x1="177.9" y1="332.5" x2="177.9" y2="335.1" stroke="#555" stroke-width="1"/>
<line x1="184.6" y1="332.5" x2="184.6" y2="335.1" stroke="#555" stroke-width="1"/>
<line x1="191.3" y1="332.5" x2="191.3" y2="335.1" stroke="#555" stroke-width="1"/>
<line x1="197.9" y1="332.5" x2="197.9" y2="339.5" stroke="#555" stroke-width="1"/>
<line x1="204.6" y1="332.5" x2="204.6" y2="335.1" stroke="#555" stroke-width="1"/>
<line x1="211.3" y1="332.5" x2="211.3" y2="335.1" stroke="#555" stroke-width="1"/>
<line x1="218" y1="332.5" x2="218" y2="335.1" stroke="#555" stroke-width="1"/>
<line x1="224.7" y1="332.5" x2="224.7" y2="335.1" stroke="#555" stroke-width="1"/>
<line x1="231.3" y1="332.5" x2="231.3" y2="335.1" stroke="#555" stroke-width="1"/>
<line x1="238" y1="332.5" x2="238" y2="336.4" stroke="#555" stroke-width="1"/>
<line x1="244.7" y1="332.5" x2="244.7" y2="335.1" stroke="#555" stroke-width="1"/>
<line x1="251.4" y1="332.5" x2="251.4" y2="335.1" stroke="#555" stroke-width="1"/>
<line x1="258" y1="332.5" x2="258" y2="335.1" stroke="#555" stroke-width="1"/>
<line x1="264.7" y1="332.5" x2="264.7" y2="335.1" stroke="#555" stroke-width="1"/>
<line x1="271.4" y1="332.5" x2="271.4" y2="335.1" stroke="#555" stroke-width="1"/>
<line x1="278.1" y1="332.5" x2="278.1" y2="338.2" stroke="#555" stroke-width="1"/>
<line x1="284.7" y1="332.5" x2="284.7" y2="335.1" stroke="#555" stroke-width="1"/>
<line x1="291.4" y1="332.5" x2="291.4" y2="335.1" stroke="#555" stroke-width="1"/>
<line x1="298.1" y1="332.5" x2="298.1" y2="335.1" stroke="#555" stroke-width="1"/>
<line x1="304.8" y1="332.5" x2="304.8" y2="335.1" stroke="#555" stroke-width="1"/>
<line x1="311.5" y1="332.5" x2="311.5" y2="335.1" stroke="#555" stroke-width="1"/>
<line x1="318.1" y1="332.5" x2="318.1" y2="336.4" stroke="#555" stroke-width="1"/>
<line x1="324.8" y1="332.5" x2="324.8" y2="335.1" stroke="#555" stroke-width="1"/>
<line x1="331.5" y1="332.5" x2="331.5" y2="335.1" stroke="#555" stroke-width="1"/>
<line x1="338.2" y1="332.5" x2="338.2" y2="335.1" stroke="#555" stroke-width="1"/>
<line x1="344.8" y1="332.5" x2="344.8" y2="335.1" stroke="#555" stroke-width="1"/>
<line x1="351.5" y1="332.5" x2="351.5" y2="335.1" stroke="#555" stroke-width="1"/>
<line x1="358.2" y1="332.5" x2="358.2" y2="339.5" stroke="#555" stroke-width="1"/>
<line x1="364.9" y1="332.5" x2="364.9" y2="335.1" stroke="#555" stroke-width="1"/>
<line x1="371.5" y1="332.5" x2="371.5" y2="335.1" stroke="#555" stroke-width="1"/>
<line x1="378.2" y1="332.5" x2="378.2" y2="335.1" stroke="#555" stroke-width="1"/>
<line x1="384.9" y1="332.5" x2="384.9" y2="335.1" stroke="#555" stroke-width="1"/>
<line x1="391.6" y1="332.5" x2="391.6" y2="335.1" stroke="#555" stroke-width="1"/>
<line x1="398.3" y1="332.5" x2="398.3" y2="336.4" stroke="#555" stroke-width="1"/>
<line x1="404.9" y1="332.5" x2="404.9" y2="335.1" stroke="#555" stroke-width="1"/>
<line x1="411.6" y1="332.5" x2="411.6" y2="335.1" stroke="#555" stroke-width="1"/>
<line x1="418.3" y1="332.5" x2="418.3" y2="335.1" stroke="#555" stroke-width="1"/>
<line x1="425" y1="332.5" x2="425" y2="335.1" stroke="#555" stroke-width="1"/>
<line x1="431.6" y1="332.5" x2="431.6" y2="335.1" stroke="#555" stroke-width="1"/>
<line x1="438.3" y1="332.5" x2="438.3" y2="338.2" stroke="#555" stroke-width="1"/>
<line x1="445" y1="332.5" x2="445" y2="335.1" stroke="#555" stroke-width="1"/>
<line x1="451.7" y1="332.5" x2="451.7" y2="335.1" stroke="#555" stroke-width="1"/>
<line x1="458.4" y1="332.5" x2="458.4" y2="335.1" stroke="#555" stroke-width="1"/>
<line x1="465" y1="332.5" x2="465" y2="335.1" stroke="#555" stroke-width="1"/>
<line x1="471.7" y1="332.5" x2="471.7" y2="335.1" stroke="#555" stroke-width="1"/>
<line x1="478.4" y1="332.5" x2="478.4" y2="336.4" stroke="#555" stroke-width="1"/>
<line x1="485.1" y1="332.5" x2="485.1" y2="335.1" stroke="#555" stroke-width="1"/>
<line x1="491.7" y1="332.5" x2="491.7" y2="335.1" stroke="#555" stroke-width="1"/>
<line x1="498.4" y1="332.5" x2="498.4" y2="335.1" stroke="#555" stroke-width="1"/>
<line x1="505.1" y1="332.5" x2="505.1" y2="335.1" stroke="#555" stroke-width="1"/>
<line x1="511.8" y1="332.5" x2="511.8" y2="335.1" stroke="#555" stroke-width="1"/>
<line x1="518.4" y1="332.5" x2="518.4" y2="339.5" stroke="#555" stroke-width="1"/>
<line x1="525.1" y1="332.5" x2="525.1" y2="335.1" stroke="#555" stroke-width="1"/>
<line x1="531.8" y1="332.5" x2="531.8" y2="335.1" stroke="#555" stroke-width="1"/>
<line x1="538.5" y1="332.5" x2="538.5" y2="335.1" stroke="#555" stroke-width="1"/>
<line x1="545.2" y1="332.5" x2="545.2" y2="335.1" stroke="#555" stroke-width="1"/>
<line x1="551.8" y1="332.5" x2="551.8" y2="335.1" stroke="#555" stroke-width="1"/>
<line x1="558.5" y1="332.5" x2="558.5" y2="336.4" stroke="#555" stroke-width="1"/>
<line x1="565.2" y1="332.5" x2="565.2" y2="335.1" stroke="#555" stroke-width="1"/>
<line x1="571.9" y1="332.5" x2="571.9" y2="335.1" stroke="#555" stroke-width="1"/>
<line x1="578.5" y1="332.5" x2="578.5" y2="335.1" stroke="#555" stroke-width="1"/>
<line x1="585.2" y1="332.5" x2="585.2" y2="335.1" stroke="#555" stroke-width="1"/>
<line x1="591.9" y1="332.5" x2="591.9" y2="335.1" stroke="#555" stroke-width="1"/>
<line x1="598.6" y1="332.5" x2="598.6" y2="338.2" stroke="#555" stroke-width="1"/>
<line x1="605.2" y1="332.5" x2="605.2" y2="335.1" stroke="#555" stroke-width="1"/>
<line x1="611.9" y1="332.5" x2="611.9" y2="335.1" stroke="#555" stroke-width="1"/>
<line x1="618.6" y1="332.5" x2="618.6" y2="335.1" stroke="#555" stroke-width="1"/>
<line x1="625.3" y1="332.5" x2="625.3" y2="335.1" stroke="#555" stroke-width="1"/>
<line x1="632" y1="332.5" x2="632" y2="335.1" stroke="#555" stroke-width="1"/>
<line x1="638.6" y1="332.5" x2="638.6" y2="336.4" stroke="#555" stroke-width="1"/>
<line x1="645.3" y1="332.5" x2="645.3" y2="335.1" stroke="#555" stroke-width="1"/>
<text transform="translate(28.7,142.7) scale(0.93,1)" font-size="10.3" text-anchor="end">0</text>
<text transform="translate(28.7,113) scale(0.93,1)" font-size="10.3" text-anchor="end">1</text>
<text transform="translate(28.7,83.3) scale(0.93,1)" font-size="10.3" text-anchor="end">2</text>
<text transform="translate(28.7,53.6) scale(0.93,1)" font-size="10.3" text-anchor="end">3</text>
<text transform="translate(28.7,23.9) scale(0.93,1)" font-size="10.3" text-anchor="end">4</text>
<text transform="translate(657.9,141.6) scale(0.93,1)" font-size="10.3" text-anchor="start">20</text>
<text transform="translate(657.9,111.7) scale(0.93,1)" font-size="10.3" text-anchor="start">25</text>
<text transform="translate(657.9,81.7) scale(0.93,1)" font-size="10.3" text-anchor="start">30</text>
<text transform="translate(657.9,51.8) scale(0.93,1)" font-size="10.3" text-anchor="start">35</text>
<text transform="translate(657.9,21.8) scale(0.93,1)" font-size="10.3" text-anchor="start">40</text>
<text transform="translate(37.7,168.3) scale(0.93,1)" font-size="10.3" text-anchor="middle">00:00</text>
<text transform="translate(141.4,168.3) scale(0.93,1)" font-size="10.3" text-anchor="middle">20:00</text>
<text transform="translate(245.2,168.3) scale(0.93,1)" font-size="10.3" text-anchor="middle">40:00</text>
<text transform="translate(348.9,168.3) scale(0.93,1)" font-size="10.3" text-anchor="middle">60:00</text>
<text transform="translate(452.7,168.3) scale(0.93,1)" font-size="10.3" text-anchor="middle">80:00</text>
<text transform="translate(556.4,168.3) scale(0.93,1)" font-size="10.3" text-anchor="middle">100:00</text>
<text transform="translate(28.7,325.7) scale(0.93,1)" font-size="10.3" text-anchor="end">-1</text>
<text transform="translate(28.7,282.7) scale(0.93,1)" font-size="10.3" text-anchor="end">0</text>
<text transform="translate(28.7,239.7) scale(0.93,1)" font-size="10.3" text-anchor="end">1</text>
<text transform="translate(28.7,196.7) scale(0.93,1)" font-size="10.3" text-anchor="end">2</text>
<text transform="translate(657.9,323.3) scale(0.93,1)" font-size="10.3" text-anchor="start">20</text>
<text transform="translate(657.9,293.4) scale(0.93,1)" font-size="10.3" text-anchor="start">25</text>
<text transform="translate(657.9,263.5) scale(0.93,1)" font-size="10.3" text-anchor="start">30</text>
<text transform="translate(657.9,233.6) scale(0.93,1)" font-size="10.3" text-anchor="start">35</text>
<text transform="translate(657.9,203.7) scale(0.93,1)" font-size="10.3" text-anchor="start">40</text>
<text transform="translate(37.7,351.3) scale(0.93,1)" font-size="10.3" text-anchor="middle">00:00</text>
<text transform="translate(197.9,351.3) scale(0.93,1)" font-size="10.3" text-anchor="middle">24:00</text>
<text transform="translate(358.2,351.3) scale(0.93,1)" font-size="10.3" text-anchor="middle">48:00</text>
<text transform="translate(518.4,351.3) scale(0.93,1)" font-size="10.3" text-anchor="middle">72:00</text>
<text transform="translate(343,364.6) scale(0.97,1)" font-size="10.3" text-anchor="middle">Elapsed time (hh:mm)</text>
<text transform="translate(677.2,129.0) rotate(90) scale(0.943,1)" font-size="10.3" text-anchor="start">Temperature (°C)</text>
<text transform="translate(12.2,257.1) rotate(-90) scale(0.945,1)" font-size="10.3" text-anchor="start">Net photosynthetic rate (µmol CO<tspan font-size="7.6" dy="2.0">2</tspan><tspan dy="-2.0"> m</tspan><tspan font-size="7.6" dy="-5">-2</tspan><tspan dy="5"> s</tspan><tspan font-size="7.6" dy="-5">-1</tspan><tspan dy="5">)</tspan></text>
<rect x="41.5" y="0.9" width="53.1" height="52.6" fill="#fff" stroke="#333" stroke-width="1"/>
<line x1="45" y1="8.3" x2="62" y2="8.3" stroke="#56adff" stroke-width="1.2"/>
<text transform="translate(65.8,11.7) scale(0.93,1)" font-size="10.3" text-anchor="start">C1</text>
<line x1="45" y1="20.3" x2="62" y2="20.3" stroke="#3a9a22" stroke-width="1.2"/>
<text transform="translate(65.8,23.7) scale(0.93,1)" font-size="10.3" text-anchor="start">C2</text>
<line x1="45" y1="32.4" x2="62" y2="32.4" stroke="#ff3cff" stroke-width="1.2"/>
<text transform="translate(65.8,35.8) scale(0.93,1)" font-size="10.3" text-anchor="start">C3</text>
<line x1="45" y1="44.4" x2="62" y2="44.4" stroke="#ff2020" stroke-width="1.2" stroke-dasharray="2.1 1.8"/>
<text transform="translate(65.8,47.8) scale(0.93,1)" font-size="10.3" text-anchor="start">Temp.</text>
<rect x="41.5" y="183.3" width="53.1" height="53.2" fill="#fff" stroke="#333" stroke-width="1"/>
<line x1="45" y1="191" x2="62" y2="191" stroke="#9b4cff" stroke-width="1.2"/>
<text transform="translate(65.8,194.4) scale(0.93,1)" font-size="10.3" text-anchor="start">H1</text>
<line x1="45" y1="203.1" x2="62" y2="203.1" stroke="#eaa232" stroke-width="1.2"/>
<text transform="translate(65.8,206.5) scale(0.93,1)" font-size="10.3" text-anchor="start">H2</text>
<line x1="45" y1="215.3" x2="62" y2="215.3" stroke="#3f951f" stroke-width="1.2"/>
<text transform="translate(65.8,218.7) scale(0.93,1)" font-size="10.3" text-anchor="start">H3</text>
<line x1="45" y1="227.3" x2="62" y2="227.3" stroke="#ff2a2a" stroke-width="1.2" stroke-dasharray="2.1 1.8"/>
<text transform="translate(65.8,230.7) scale(0.93,1)" font-size="10.3" text-anchor="start">Temp.</text>
</svg></body></html>
